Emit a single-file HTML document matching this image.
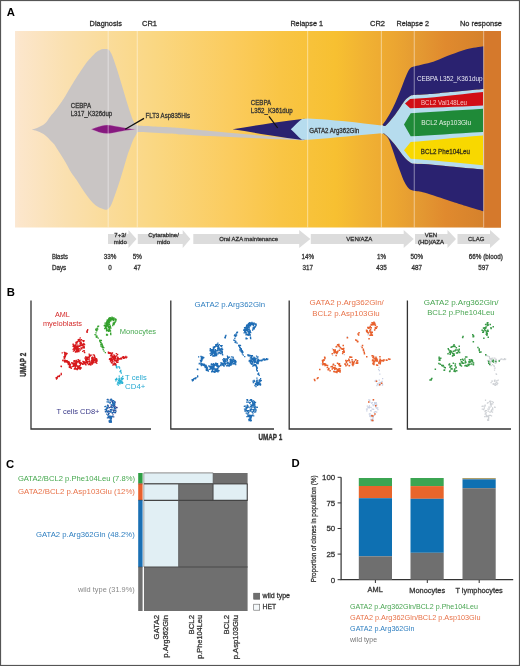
<!DOCTYPE html><html><head><meta charset="utf-8"><title>Figure</title><style>html,body{margin:0;padding:0;background:#fff;width:520px;height:666px;overflow:hidden}svg{display:block}</style></head><body><svg width="520" height="666" viewBox="0 0 520 666" font-family="Liberation Sans, Arial, Helvetica, sans-serif"><rect width="520" height="666" fill="#fff"/><defs><linearGradient id="bg" x1="15" x2="501" y1="0" y2="0" gradientUnits="userSpaceOnUse"><stop offset="0" stop-color="#fbe8d4"/><stop offset="0.01" stop-color="#fce6cb"/><stop offset="0.103" stop-color="#fae0b0"/><stop offset="0.288" stop-color="#fad782"/><stop offset="0.453" stop-color="#fbcb5c"/><stop offset="0.545" stop-color="#f9c545"/><stop offset="0.66" stop-color="#f7c031"/><stop offset="0.72" stop-color="#f1b233"/><stop offset="0.78" stop-color="#eca631"/><stop offset="0.83" stop-color="#e49a32"/><stop offset="0.885" stop-color="#e08a2e"/><stop offset="0.96" stop-color="#d6822c"/><stop offset="1" stop-color="#d6822c"/></linearGradient></defs>
<rect x="15" y="31" width="486" height="196.5" fill="url(#bg)"/>
<rect x="483.5" y="31" width="17.5" height="196.5" fill="#d5792c"/>
<path d="M31.8,129.4 C32.67,129.15 35.30,128.53 37.00,127.90 C38.70,127.27 40.50,126.50 42.00,125.60 C43.50,124.70 44.58,124.07 46.00,122.50 C47.42,120.93 49.00,118.15 50.50,116.20 C52.00,114.25 53.05,113.35 55.00,110.80 C56.95,108.25 60.40,103.48 62.20,100.90 C64.00,98.32 63.63,98.87 65.80,95.30 C67.97,91.73 71.88,84.75 75.20,79.50 C78.52,74.25 83.07,67.47 85.70,63.80 C88.33,60.13 89.25,59.43 91.00,57.50 C92.75,55.57 94.70,53.45 96.20,52.20 C97.70,50.95 98.87,50.52 100.00,50.00 C101.13,49.48 102.00,49.27 103.00,49.10 C104.00,48.93 105.00,48.85 106.00,49.00 C107.00,49.15 108.17,49.33 109.00,50.00 C109.83,50.67 110.40,51.90 111.00,53.00 C111.60,54.10 111.60,53.90 112.60,56.60 C113.60,59.30 115.63,65.00 117.00,69.20 C118.37,73.40 119.53,77.60 120.80,81.80 C122.07,86.00 123.33,90.20 124.60,94.40 C125.87,98.60 127.03,102.78 128.40,107.00 C129.77,111.22 131.70,116.95 132.80,119.70 C133.90,122.45 134.30,122.53 135.00,123.50 C135.70,124.47 136.67,125.17 137.00,125.50  C142.50,125.88 162.83,126.88 170.00,127.30 C177.17,127.72 173.33,127.48 180.00,128.10 C186.67,128.72 201.33,130.18 210.00,131.00 C218.67,131.82 223.67,132.27 232.00,133.00 C240.33,133.73 250.33,134.57 260.00,135.40 C269.67,136.23 282.67,137.27 290.00,138.00 C297.33,138.73 301.67,139.50 304.00,139.80 L304,140.6 C301.67,140.45 295.67,139.98 290.00,139.70 C284.33,139.42 278.33,139.25 270.00,138.90 C261.67,138.55 250.00,138.07 240.00,137.60 C230.00,137.13 220.00,136.63 210.00,136.10 C200.00,135.57 186.67,134.82 180.00,134.40 C173.33,133.98 176.67,134.00 170.00,133.60 C163.33,133.20 145.42,132.27 140.00,132.00 C134.58,131.73 137.92,132.00 137.50,132.00 L137.5,132 C137.25,132.47 136.72,133.50 136.00,134.80 C135.28,136.10 134.12,137.77 133.20,139.80 C132.28,141.83 131.42,144.53 130.50,147.00 C129.58,149.47 128.78,151.27 127.70,154.60 C126.62,157.93 125.23,162.90 124.00,167.00 C122.77,171.10 121.63,175.03 120.30,179.20 C118.97,183.37 117.43,187.90 116.00,192.00 C114.57,196.10 112.78,201.20 111.70,203.80 C110.62,206.40 110.28,206.62 109.50,207.60 C108.72,208.58 107.98,209.43 107.00,209.70 C106.02,209.97 105.07,209.65 103.60,209.20 C102.13,208.75 100.00,208.08 98.20,207.00 C96.40,205.92 94.60,204.50 92.80,202.70 C91.00,200.90 89.20,198.55 87.40,196.20 C85.60,193.85 83.80,191.30 82.00,188.60 C80.20,185.90 78.40,182.70 76.60,180.00 C74.80,177.30 73.00,175.28 71.20,172.40 C69.40,169.52 67.60,165.77 65.80,162.70 C64.00,159.63 62.20,156.88 60.40,154.00 C58.60,151.12 56.20,147.20 55.00,145.40 C53.80,143.60 54.70,144.77 53.20,143.20 C51.70,141.63 47.87,137.65 46.00,136.00 C44.13,134.35 43.50,134.13 42.00,133.30 C40.50,132.47 38.70,131.65 37.00,131.00 C35.30,130.35 32.67,129.67 31.80,129.40 Z" fill="#c9c5c4"/>
<path d="M91.2,129.3 C92.00,129.02 94.37,128.17 96.00,127.60 C97.63,127.03 99.12,126.32 101.00,125.90 C102.88,125.48 105.13,125.10 107.30,125.10 C109.47,125.10 111.88,125.58 114.00,125.90 C116.12,126.22 118.13,126.67 120.00,127.00 C121.87,127.33 123.53,127.62 125.20,127.90 C126.87,128.18 128.27,128.47 130.00,128.70 C131.73,128.93 134.67,129.20 135.60,129.30 L135.6,129.3 C134.67,129.40 131.73,129.68 130.00,129.90 C128.27,130.12 126.87,130.32 125.20,130.60 C123.53,130.88 121.87,131.25 120.00,131.60 C118.13,131.95 116.12,132.37 114.00,132.70 C111.88,133.03 109.47,133.58 107.30,133.60 C105.13,133.62 102.88,133.22 101.00,132.80 C99.12,132.38 97.63,131.68 96.00,131.10 C94.37,130.52 92.00,129.60 91.20,129.30 Z" fill="#86197f" stroke="#c98fc4" stroke-width="0.5" stroke-opacity="0.6"/>
<path d="M232.5,129.3 C250,126.5 270,123 290,120.5 L304.5,118.8 L304.5,140 C285,138 260,133.5 232.5,129.3 Z" fill="#2a2270"/>
<path d="M290.8,129.3 C295,125.5 298,121.5 302,119 L308,118.6 C330,119.5 360,123 381.5,125.5 L384,125.6 L384,133.4 L381.5,133.2 C360,135 335,137.8 308,139.8 L302,139.8 C298,137 295,133 290.8,129.3 Z" fill="#b6dcee"/>
<path d="M381,125.3 L383.6,125.9 C384.02,125.80 384.48,126.77 386.10,125.30 C387.72,123.83 390.92,120.17 393.30,117.10 C395.68,114.03 398.37,109.78 400.40,106.90 C402.43,104.02 403.80,101.67 405.50,99.80 C407.20,97.93 409.07,96.52 410.60,95.70 C412.13,94.88 411.88,95.13 414.70,94.90 C417.52,94.67 421.87,94.73 427.50,94.30 C433.13,93.87 439.17,93.18 448.50,92.30 C457.83,91.42 477.67,89.55 483.50,89.00 L483.5,169.5 C477.92,169.00 459.25,167.37 450.00,166.50 C440.75,165.63 433.88,164.77 428.00,164.30 C422.12,163.83 417.60,163.97 414.70,163.70 C411.80,163.43 411.97,163.38 410.60,162.70 C409.23,162.02 408.03,161.13 406.50,159.60 C404.97,158.07 403.10,155.70 401.40,153.50 C399.70,151.30 398.17,148.78 396.30,146.40 C394.43,144.02 392.23,141.33 390.20,139.20 C388.17,137.07 385.12,134.53 384.10,133.60 L381,133.5 Z" fill="#b6dcee"/>
<path d="M382.5,124.8 C383.08,124.00 384.72,121.97 386.00,120.00 C387.28,118.03 388.65,115.87 390.20,113.00 C391.75,110.13 393.60,106.53 395.30,102.80 C397.00,99.07 398.70,94.85 400.40,90.60 C402.10,86.35 403.97,80.88 405.50,77.30 C407.03,73.72 408.23,70.88 409.60,69.10 C410.97,67.32 411.90,67.30 413.70,66.60 C415.50,65.90 418.02,65.45 420.40,64.90 C422.78,64.35 425.43,63.98 428.00,63.30 C430.57,62.62 431.93,62.25 435.80,60.80 C439.67,59.35 446.08,56.53 451.20,54.60 C456.32,52.67 461.12,50.60 466.50,49.20 C471.88,47.80 480.67,46.70 483.50,46.20 L483.5,89 C477.67,89.55 457.83,91.42 448.50,92.30 C439.17,93.18 433.13,93.87 427.50,94.30 C421.87,94.73 417.52,94.67 414.70,94.90 C411.88,95.13 412.13,94.88 410.60,95.70 C409.07,96.52 407.20,97.93 405.50,99.80 C403.80,101.67 402.43,104.02 400.40,106.90 C398.37,109.78 395.68,114.03 393.30,117.10 C390.92,120.17 387.72,123.83 386.10,125.30 C384.48,126.77 384.02,125.80 383.60,125.90 Z" fill="#2a2270"/>
<path d="M382.8,133.3 C383.70,134.12 386.63,135.68 388.20,138.20 C389.77,140.72 390.85,144.65 392.20,148.40 C393.55,152.15 394.93,156.78 396.30,160.70 C397.67,164.62 399.03,168.33 400.40,171.90 C401.77,175.47 403.13,179.38 404.50,182.10 C405.87,184.82 407.07,186.75 408.60,188.20 C410.13,189.65 410.97,190.03 413.70,190.80 C416.43,191.57 418.95,191.10 425.00,192.80 C431.05,194.50 443.17,198.80 450.00,201.00 C456.83,203.20 460.42,204.28 466.00,206.00 C471.58,207.72 480.58,210.42 483.50,211.30 L483.5,169.5 C477.92,169.00 459.25,167.37 450.00,166.50 C440.75,165.63 433.88,164.77 428.00,164.30 C422.12,163.83 417.60,163.97 414.70,163.70 C411.80,163.43 411.97,163.38 410.60,162.70 C409.23,162.02 408.03,161.13 406.50,159.60 C404.97,158.07 403.10,155.70 401.40,153.50 C399.70,151.30 398.17,148.78 396.30,146.40 C394.43,144.02 392.23,141.33 390.20,139.20 C388.17,137.07 385.12,134.53 384.10,133.60 Z" fill="#2a2270"/>
<path d="M405,103.6 L410.1,99 C430,98 455,95 483,92 L483,105.5 C455,106.8 430,107.8 410.1,108.2 Z" fill="#d10e15"/>
<path d="M404,124.5 L410.7,113.2 C430,112 455,110.5 483,108.8 L483,132 C455,133.5 430,135.5 410.7,136.3 Z" fill="#1f8a38"/>
<path d="M404,150.3 L410.7,141.9 C430,140.5 455,137.5 483,135.4 L483,165.3 C455,162.5 430,160 410.7,158.8 Z" fill="#f8d800"/>
<rect x="107.60000000000001" y="31" width="1.2" height="196.5" fill="#fff" fill-opacity="0.38"/>
<rect x="136.70000000000002" y="31" width="1.2" height="196.5" fill="#fff" fill-opacity="0.38"/>
<rect x="307.0" y="31" width="1.2" height="196.5" fill="#fff" fill-opacity="0.38"/>
<rect x="380.79999999999995" y="31" width="1.2" height="196.5" fill="#fff" fill-opacity="0.38"/>
<rect x="413.7" y="31" width="1.2" height="196.5" fill="#fff" fill-opacity="0.38"/>
<rect x="483.0" y="31" width="1.2" height="196.5" fill="#fff" fill-opacity="0.38"/>
<text x="89.6" y="25.8" font-size="7.8" fill="#2a2a2a" stroke="#2a2a2a" stroke-width="0.28" textLength="32.3" lengthAdjust="spacingAndGlyphs">Diagnosis</text>
<text x="142" y="25.8" font-size="7.8" fill="#2a2a2a" stroke="#2a2a2a" stroke-width="0.28" textLength="15" lengthAdjust="spacingAndGlyphs">CR1</text>
<text x="290.4" y="25.8" font-size="7.8" fill="#2a2a2a" stroke="#2a2a2a" stroke-width="0.28" textLength="32.6" lengthAdjust="spacingAndGlyphs">Relapse 1</text>
<text x="370" y="25.8" font-size="7.8" fill="#2a2a2a" stroke="#2a2a2a" stroke-width="0.28" textLength="15" lengthAdjust="spacingAndGlyphs">CR2</text>
<text x="396.5" y="25.8" font-size="7.8" fill="#2a2a2a" stroke="#2a2a2a" stroke-width="0.28" textLength="32.5" lengthAdjust="spacingAndGlyphs">Relapse 2</text>
<text x="460" y="25.8" font-size="7.8" fill="#2a2a2a" stroke="#2a2a2a" stroke-width="0.28" textLength="42" lengthAdjust="spacingAndGlyphs">No response</text>
<text x="70.7" y="107.5" font-size="6.6" fill="#333" stroke="#333" stroke-width="0.28" textLength="20.4" lengthAdjust="spacingAndGlyphs">CEBPA</text>
<text x="70.7" y="115.6" font-size="6.6" fill="#333" stroke="#333" stroke-width="0.28" textLength="41.6" lengthAdjust="spacingAndGlyphs">L317_K326dup</text>
<line x1="125.2" y1="129.3" x2="144" y2="118.4" stroke="#111" stroke-width="1.25"/>
<text x="145.5" y="118.2" font-size="6.6" fill="#333" stroke="#333" stroke-width="0.28" textLength="44.5" lengthAdjust="spacingAndGlyphs">FLT3 Asp835His</text>
<text x="250.8" y="104.8" font-size="6.6" fill="#333" stroke="#333" stroke-width="0.28" textLength="20.4" lengthAdjust="spacingAndGlyphs">CEBPA</text>
<text x="250.8" y="113.0" font-size="6.6" fill="#333" stroke="#333" stroke-width="0.28" textLength="41.8" lengthAdjust="spacingAndGlyphs">L352_K361dup</text>
<line x1="269" y1="116.3" x2="277.7" y2="128" stroke="#111" stroke-width="1.2"/>
<text x="309.2" y="132.8" font-size="6.6" fill="#333" stroke="#333" stroke-width="0.28" textLength="50" lengthAdjust="spacingAndGlyphs">GATA2 Arg362Gln</text>
<text x="417" y="80.5" font-size="6.7" fill="#e8e8f4" textLength="65.5" lengthAdjust="spacingAndGlyphs">CEBPA L352_K361dup</text>
<text x="421" y="104.8" font-size="6.6" fill="#f6c8c8" textLength="46" lengthAdjust="spacingAndGlyphs">BCL2 Val148Leu</text>
<text x="421.2" y="125" font-size="6.6" fill="#e4f0e4" textLength="50" lengthAdjust="spacingAndGlyphs">BCL2 Asp103Glu</text>
<text x="420.8" y="153.8" font-size="6.6" fill="#3a3416" stroke="#3a3416" stroke-width="0.28" textLength="49.2" lengthAdjust="spacingAndGlyphs">BCL2 Phe104Leu</text>
<path d="M108,234 L128.5,234 L128.5,230 L136.5,239 L128.5,248 L128.5,244 L108,244 Z" fill="#dcdcdc"/>
<path d="M137.8,234 L182.7,234 L182.7,230 L190.4,239 L182.7,248 L182.7,244 L137.8,244 Z" fill="#dcdcdc"/>
<path d="M193.3,234 L299.2,234 L299.2,230 L310.4,239 L299.2,248 L299.2,244 L193.3,244 Z" fill="#dcdcdc"/>
<path d="M310.8,234 L403.7,234 L403.7,230 L413.7,239 L403.7,248 L403.7,244 L310.8,244 Z" fill="#dcdcdc"/>
<path d="M415,234 L447.5,234 L447.5,230 L456,239 L447.5,248 L447.5,244 L415,244 Z" fill="#dcdcdc"/>
<path d="M457.5,234 L490,234 L490,230 L500,239 L490,248 L490,244 L457.5,244 Z" fill="#dcdcdc"/>
<text x="120.3" y="236.6" font-size="6" fill="#333" stroke="#333" stroke-width="0.28" text-anchor="middle">7+3/</text>
<text x="120.3" y="243.6" font-size="6" fill="#333" stroke="#333" stroke-width="0.28" text-anchor="middle">mido</text>
<text x="163.5" y="236.6" font-size="6" fill="#333" stroke="#333" stroke-width="0.28" text-anchor="middle">Cytarabine/</text>
<text x="163.5" y="243.6" font-size="6" fill="#333" stroke="#333" stroke-width="0.28" text-anchor="middle">mido</text>
<text x="219.2" y="240.8" font-size="6" fill="#333" stroke="#333" stroke-width="0.28" textLength="58.9" lengthAdjust="spacingAndGlyphs">Oral AZA maintenance</text>
<text x="346.3" y="240.8" font-size="6" fill="#333" stroke="#333" stroke-width="0.28" textLength="26" lengthAdjust="spacingAndGlyphs">VEN/AZA</text>
<text x="431" y="236.6" font-size="6" fill="#333" stroke="#333" stroke-width="0.28" text-anchor="middle">VEN</text>
<text x="431" y="243.6" font-size="6" fill="#333" stroke="#333" stroke-width="0.28" text-anchor="middle">(HD)/AZA</text>
<text x="468" y="240.9" font-size="6" fill="#333" stroke="#333" stroke-width="0.28" textLength="16.4" lengthAdjust="spacingAndGlyphs">CLAG</text>
<text x="51.9" y="259.4" font-size="6.3" fill="#333" stroke="#333" stroke-width="0.28" textLength="16" lengthAdjust="spacingAndGlyphs">Blasts</text>
<text x="51.9" y="269.7" font-size="6.3" fill="#333" stroke="#333" stroke-width="0.28">Days</text>
<text x="110" y="259.4" font-size="6.3" fill="#333" stroke="#333" stroke-width="0.28" text-anchor="middle">33%</text>
<text x="110" y="269.7" font-size="6.3" fill="#333" stroke="#333" stroke-width="0.28" text-anchor="middle">0</text>
<text x="137.3" y="259.4" font-size="6.3" fill="#333" stroke="#333" stroke-width="0.28" text-anchor="middle">5%</text>
<text x="137.3" y="269.7" font-size="6.3" fill="#333" stroke="#333" stroke-width="0.28" text-anchor="middle">47</text>
<text x="307.8" y="259.4" font-size="6.3" fill="#333" stroke="#333" stroke-width="0.28" text-anchor="middle">14%</text>
<text x="307.8" y="269.7" font-size="6.3" fill="#333" stroke="#333" stroke-width="0.28" text-anchor="middle">317</text>
<text x="381.5" y="259.4" font-size="6.3" fill="#333" stroke="#333" stroke-width="0.28" text-anchor="middle">1%</text>
<text x="381.5" y="269.7" font-size="6.3" fill="#333" stroke="#333" stroke-width="0.28" text-anchor="middle">435</text>
<text x="416.8" y="259.4" font-size="6.3" fill="#333" stroke="#333" stroke-width="0.28" text-anchor="middle">50%</text>
<text x="416.8" y="269.7" font-size="6.3" fill="#333" stroke="#333" stroke-width="0.28" text-anchor="middle">487</text>
<text x="468.8" y="259.4" font-size="6.3" fill="#333" stroke="#333" stroke-width="0.28">66% (blood)</text>
<text x="483.6" y="269.7" font-size="6.3" fill="#333" stroke="#333" stroke-width="0.28" text-anchor="middle">597</text>
<text x="6.7" y="16.2" font-size="11.3" fill="#000" font-weight="bold">A</text>
<text x="6.7" y="296.1" font-size="11.3" fill="#000" font-weight="bold">B</text>
<text x="6.1" y="467.6" font-size="11.3" fill="#000" font-weight="bold">C</text>
<text x="291.6" y="467.2" font-size="11.3" fill="#000" font-weight="bold">D</text>
<path d="M31,300.5 V429 H151" fill="none" stroke="#333" stroke-width="1.3"/>
<path d="M170.8,300.5 V429 H274" fill="none" stroke="#333" stroke-width="1.3"/>
<path d="M289.2,300.5 V429 H392.3" fill="none" stroke="#333" stroke-width="1.3"/>
<path d="M407.4,300.5 V429 H511" fill="none" stroke="#333" stroke-width="1.3"/>
<text x="26.2" y="376.8" font-size="8.4" fill="#333" font-weight="bold" textLength="24" lengthAdjust="spacingAndGlyphs" stroke="#333" stroke-width="0.35" transform="rotate(-90 26.2 376.8)">UMAP 2</text>
<text x="258.5" y="440" font-size="8.4" fill="#333" font-weight="bold" textLength="23.7" lengthAdjust="spacingAndGlyphs" stroke="#333" stroke-width="0.35">UMAP 1</text>
<text x="194.5" y="306.8" font-size="7.8" fill="#2f7fc0" textLength="70.6" lengthAdjust="spacingAndGlyphs">GATA2 p.Arg362Gln</text>
<text x="309.6" y="304.9" font-size="7.8" fill="#e8734a" textLength="74.2" lengthAdjust="spacingAndGlyphs">GATA2 p.Arg362Gln/</text>
<text x="312.3" y="315.7" font-size="7.8" fill="#e8734a" textLength="67.4" lengthAdjust="spacingAndGlyphs">BCL2 p.Asp103Glu</text>
<text x="423.7" y="304.9" font-size="7.8" fill="#4aa653" textLength="74.9" lengthAdjust="spacingAndGlyphs">GATA2 p.Arg362Gln/</text>
<text x="427.2" y="314.9" font-size="7.8" fill="#4aa653" textLength="67.4" lengthAdjust="spacingAndGlyphs">BCL2 p.Phe104Leu</text>
<text x="55" y="317" font-size="7.4" fill="#d42a2a" textLength="14.9" lengthAdjust="spacingAndGlyphs">AML</text>
<text x="42.9" y="326.4" font-size="7.4" fill="#d42a2a" textLength="39.1" lengthAdjust="spacingAndGlyphs">myeloblasts</text>
<text x="119.7" y="333.7" font-size="7.4" fill="#45a84e" textLength="36.4" lengthAdjust="spacingAndGlyphs">Monocytes</text>
<text x="125.1" y="379.8" font-size="7.4" fill="#27a9d2" textLength="21.6" lengthAdjust="spacingAndGlyphs">T cells</text>
<text x="125.1" y="389.2" font-size="7.4" fill="#27a9d2" textLength="20.2" lengthAdjust="spacingAndGlyphs">CD4+</text>
<text x="56.4" y="414" font-size="7.4" fill="#3b3b8a" textLength="43.1" lengthAdjust="spacingAndGlyphs">T cells CD8+</text>
<path fill="#c9d0e3" d="M320.6,363.3h1.25v1.25h-1.25zM334.1,370.3h1.25v1.25h-1.25zM333.3,363.9h1.25v1.25h-1.25zM339.0,347.5h1.25v1.25h-1.25zM333.8,352.5h1.25v1.25h-1.25zM334.0,352.4h1.25v1.25h-1.25zM339.7,346.1h1.25v1.25h-1.25zM332.0,354.7h1.25v1.25h-1.25zM334.3,350.9h1.25v1.25h-1.25zM331.8,348.1h1.25v1.25h-1.25zM336.4,353.2h1.25v1.25h-1.25zM337.5,344.8h1.25v1.25h-1.25zM343.8,353.9h1.25v1.25h-1.25zM350.4,356.4h1.25v1.25h-1.25zM351.8,360.1h1.25v1.25h-1.25zM349.8,362.6h1.25v1.25h-1.25zM345.2,362.9h1.25v1.25h-1.25zM353.2,361.5h1.25v1.25h-1.25zM349.3,364.8h1.25v1.25h-1.25zM356.9,360.3h1.25v1.25h-1.25zM346.7,335.9h1.25v1.25h-1.25zM369.2,327.7h1.25v1.25h-1.25zM367.7,326.5h1.25v1.25h-1.25zM366.8,331.1h1.25v1.25h-1.25zM367.7,333.9h1.25v1.25h-1.25zM367.4,334.3h1.25v1.25h-1.25zM370.9,330.6h1.25v1.25h-1.25zM363.3,350.0h1.25v1.25h-1.25zM360.6,345.8h1.25v1.25h-1.25zM379.4,360.9h1.25v1.25h-1.25zM378.3,362.9h1.25v1.25h-1.25zM375.9,357.2h1.25v1.25h-1.25zM388.5,359.1h1.25v1.25h-1.25zM372.9,355.5h1.25v1.25h-1.25zM379.2,373.4h1.25v1.25h-1.25zM378.5,366.8h1.25v1.25h-1.25zM378.7,370.1h1.25v1.25h-1.25zM378.0,368.8h1.25v1.25h-1.25zM381.5,380.8h1.25v1.25h-1.25zM375.6,380.9h1.25v1.25h-1.25zM379.9,382.0h1.25v1.25h-1.25zM379.8,383.7h1.25v1.25h-1.25zM378.2,382.5h1.25v1.25h-1.25zM378.4,384.5h1.25v1.25h-1.25zM382.0,377.9h1.25v1.25h-1.25zM378.6,379.5h1.25v1.25h-1.25zM381.3,382.7h1.25v1.25h-1.25zM379.8,382.8h1.25v1.25h-1.25zM375.5,379.8h1.25v1.25h-1.25zM374.4,380.6h1.25v1.25h-1.25zM376.8,383.1h1.25v1.25h-1.25zM378.9,382.7h1.25v1.25h-1.25zM376.8,383.7h1.25v1.25h-1.25zM382.0,384.0h1.25v1.25h-1.25zM381.3,380.9h1.25v1.25h-1.25zM381.8,384.4h1.25v1.25h-1.25zM378.9,384.5h1.25v1.25h-1.25zM378.6,384.0h1.25v1.25h-1.25zM376.3,385.1h1.25v1.25h-1.25zM379.4,381.8h1.25v1.25h-1.25zM369.4,412.9h1.25v1.25h-1.25zM370.7,415.9h1.25v1.25h-1.25zM372.2,417.7h1.25v1.25h-1.25zM369.1,399.7h1.25v1.25h-1.25zM372.2,415.5h1.25v1.25h-1.25zM372.6,405.1h1.25v1.25h-1.25zM366.7,405.5h1.25v1.25h-1.25zM377.1,407.3h1.25v1.25h-1.25zM377.3,408.9h1.25v1.25h-1.25zM373.6,411.8h1.25v1.25h-1.25zM374.1,402.7h1.25v1.25h-1.25zM368.8,405.3h1.25v1.25h-1.25zM375.0,405.4h1.25v1.25h-1.25zM371.7,402.0h1.25v1.25h-1.25zM373.9,414.8h1.25v1.25h-1.25zM372.3,416.6h1.25v1.25h-1.25zM376.1,404.6h1.25v1.25h-1.25zM371.0,414.6h1.25v1.25h-1.25zM369.1,399.5h1.25v1.25h-1.25zM372.3,408.5h1.25v1.25h-1.25zM372.2,419.4h1.25v1.25h-1.25zM368.9,406.7h1.25v1.25h-1.25zM372.2,419.6h1.25v1.25h-1.25zM372.0,419.7h1.25v1.25h-1.25zM376.1,411.4h1.25v1.25h-1.25zM372.1,418.7h1.25v1.25h-1.25zM374.9,405.3h1.25v1.25h-1.25zM373.0,408.8h1.25v1.25h-1.25zM369.5,415.0h1.25v1.25h-1.25zM366.2,410.3h1.25v1.25h-1.25zM371.0,402.4h1.25v1.25h-1.25zM372.5,416.0h1.25v1.25h-1.25zM373.9,402.1h1.25v1.25h-1.25zM374.3,411.2h1.25v1.25h-1.25zM370.4,419.9h1.25v1.25h-1.25zM372.7,399.6h1.25v1.25h-1.25zM371.6,418.9h1.25v1.25h-1.25zM372.6,416.9h1.25v1.25h-1.25zM376.3,407.8h1.25v1.25h-1.25zM371.5,408.5h1.25v1.25h-1.25zM369.8,416.0h1.25v1.25h-1.25zM368.0,406.6h1.25v1.25h-1.25zM370.4,406.8h1.25v1.25h-1.25zM372.0,420.2h1.25v1.25h-1.25zM372.3,414.9h1.25v1.25h-1.25zM368.7,413.6h1.25v1.25h-1.25zM365.9,408.5h1.25v1.25h-1.25zM375.4,406.9h1.25v1.25h-1.25zM369.4,401.5h1.25v1.25h-1.25zM372.5,399.2h1.25v1.25h-1.25zM372.4,404.0h1.25v1.25h-1.25zM371.5,418.8h1.25v1.25h-1.25zM371.3,419.3h1.25v1.25h-1.25zM369.1,415.4h1.25v1.25h-1.25zM375.6,402.1h1.25v1.25h-1.25zM375.1,411.0h1.25v1.25h-1.25zM372.7,420.1h1.25v1.25h-1.25zM370.6,410.3h1.25v1.25h-1.25zM375.9,403.5h1.25v1.25h-1.25zM374.0,404.3h1.25v1.25h-1.25zM376.8,407.3h1.25v1.25h-1.25zM371.3,419.7h1.25v1.25h-1.25zM370.2,418.8h1.25v1.25h-1.25zM370.0,410.1h1.25v1.25h-1.25zM370.7,420.0h1.25v1.25h-1.25zM371.6,414.8h1.25v1.25h-1.25zM367.4,407.0h1.25v1.25h-1.25zM375.1,403.3h1.25v1.25h-1.25zM369.9,414.7h1.25v1.25h-1.25zM374.7,402.3h1.25v1.25h-1.25zM373.8,414.8h1.25v1.25h-1.25zM368.6,407.3h1.25v1.25h-1.25zM366.6,408.4h1.25v1.25h-1.25zM368.2,399.2h1.25v1.25h-1.25z"/>
<path fill="#cfd2d6" d="M488.5,363.3h1.25v1.25h-1.25zM490.6,358.1h1.25v1.25h-1.25zM490.3,359.3h1.25v1.25h-1.25zM490.8,357.8h1.25v1.25h-1.25zM490.5,365.0h1.25v1.25h-1.25zM488.7,355.9h1.25v1.25h-1.25zM495.8,359.3h1.25v1.25h-1.25zM486.9,360.1h1.25v1.25h-1.25zM488.5,360.0h1.25v1.25h-1.25zM489.8,361.8h1.25v1.25h-1.25zM495.7,361.5h1.25v1.25h-1.25zM495.1,362.7h1.25v1.25h-1.25zM491.1,358.6h1.25v1.25h-1.25zM489.5,358.3h1.25v1.25h-1.25zM490.8,358.0h1.25v1.25h-1.25zM495.2,358.5h1.25v1.25h-1.25zM487.6,359.8h1.25v1.25h-1.25zM494.5,359.9h1.25v1.25h-1.25zM489.2,362.8h1.25v1.25h-1.25zM490.4,358.9h1.25v1.25h-1.25zM489.9,360.9h1.25v1.25h-1.25zM488.9,356.9h1.25v1.25h-1.25zM490.8,358.2h1.25v1.25h-1.25zM492.6,359.4h1.25v1.25h-1.25zM490.4,358.8h1.25v1.25h-1.25zM489.6,358.1h1.25v1.25h-1.25zM492.0,363.9h1.25v1.25h-1.25zM490.2,358.6h1.25v1.25h-1.25zM490.9,359.6h1.25v1.25h-1.25zM493.2,365.1h1.25v1.25h-1.25zM489.1,358.2h1.25v1.25h-1.25zM494.1,357.5h1.25v1.25h-1.25zM492.1,357.5h1.25v1.25h-1.25zM491.9,360.3h1.25v1.25h-1.25zM495.4,358.9h1.25v1.25h-1.25zM487.5,361.0h1.25v1.25h-1.25zM494.6,362.8h1.25v1.25h-1.25zM495.0,359.4h1.25v1.25h-1.25zM489.6,357.9h1.25v1.25h-1.25zM490.3,358.0h1.25v1.25h-1.25zM494.4,360.8h1.25v1.25h-1.25zM491.1,358.1h1.25v1.25h-1.25zM490.2,362.2h1.25v1.25h-1.25zM492.3,357.5h1.25v1.25h-1.25zM494.9,360.3h1.25v1.25h-1.25zM502.5,359.0h1.25v1.25h-1.25zM501.2,358.3h1.25v1.25h-1.25zM503.8,357.9h1.25v1.25h-1.25zM501.2,358.2h1.25v1.25h-1.25zM494.6,359.7h1.25v1.25h-1.25zM505.0,358.5h1.25v1.25h-1.25zM499.4,359.4h1.25v1.25h-1.25zM500.4,358.6h1.25v1.25h-1.25zM498.6,359.6h1.25v1.25h-1.25zM500.2,358.7h1.25v1.25h-1.25zM504.0,358.7h1.25v1.25h-1.25zM504.3,359.1h1.25v1.25h-1.25zM498.6,359.4h1.25v1.25h-1.25zM503.8,358.4h1.25v1.25h-1.25zM485.2,355.1h1.25v1.25h-1.25zM487.3,355.5h1.25v1.25h-1.25zM486.2,354.9h1.25v1.25h-1.25zM495.9,373.8h1.25v1.25h-1.25zM494.4,367.4h1.25v1.25h-1.25zM493.9,369.4h1.25v1.25h-1.25zM495.5,373.3h1.25v1.25h-1.25zM493.7,365.7h1.25v1.25h-1.25zM493.9,367.6h1.25v1.25h-1.25zM494.8,384.3h1.25v1.25h-1.25zM495.7,382.0h1.25v1.25h-1.25zM494.3,380.8h1.25v1.25h-1.25zM493.9,379.7h1.25v1.25h-1.25zM497.6,379.5h1.25v1.25h-1.25zM491.2,380.6h1.25v1.25h-1.25zM494.2,384.5h1.25v1.25h-1.25zM491.7,380.6h1.25v1.25h-1.25zM494.4,379.5h1.25v1.25h-1.25zM496.3,379.9h1.25v1.25h-1.25zM497.1,382.7h1.25v1.25h-1.25zM492.6,383.1h1.25v1.25h-1.25zM494.7,382.7h1.25v1.25h-1.25zM496.0,381.4h1.25v1.25h-1.25zM496.8,382.6h1.25v1.25h-1.25zM492.6,383.7h1.25v1.25h-1.25zM494.9,384.8h1.25v1.25h-1.25zM495.6,383.8h1.25v1.25h-1.25zM493.9,380.6h1.25v1.25h-1.25zM491.8,380.6h1.25v1.25h-1.25zM496.4,384.1h1.25v1.25h-1.25zM493.5,383.6h1.25v1.25h-1.25zM490.5,382.0h1.25v1.25h-1.25zM485.2,412.9h1.25v1.25h-1.25zM486.5,415.9h1.25v1.25h-1.25zM488.0,417.7h1.25v1.25h-1.25zM484.9,399.7h1.25v1.25h-1.25zM488.0,415.5h1.25v1.25h-1.25zM482.5,405.5h1.25v1.25h-1.25zM489.4,411.8h1.25v1.25h-1.25zM489.9,402.7h1.25v1.25h-1.25zM489.4,411.3h1.25v1.25h-1.25zM484.9,410.0h1.25v1.25h-1.25zM491.5,401.1h1.25v1.25h-1.25zM484.6,405.3h1.25v1.25h-1.25zM492.2,409.3h1.25v1.25h-1.25zM487.5,402.0h1.25v1.25h-1.25zM489.7,414.8h1.25v1.25h-1.25zM490.6,403.8h1.25v1.25h-1.25zM488.1,416.6h1.25v1.25h-1.25zM485.5,412.0h1.25v1.25h-1.25zM484.9,399.5h1.25v1.25h-1.25zM486.1,416.0h1.25v1.25h-1.25zM484.4,410.9h1.25v1.25h-1.25zM488.1,408.5h1.25v1.25h-1.25zM492.1,403.2h1.25v1.25h-1.25zM490.0,400.6h1.25v1.25h-1.25zM488.0,419.4h1.25v1.25h-1.25zM483.5,407.9h1.25v1.25h-1.25zM487.8,419.7h1.25v1.25h-1.25zM491.9,411.4h1.25v1.25h-1.25zM494.0,406.5h1.25v1.25h-1.25zM489.5,401.1h1.25v1.25h-1.25zM487.9,418.7h1.25v1.25h-1.25zM481.5,405.8h1.25v1.25h-1.25zM490.7,405.3h1.25v1.25h-1.25zM491.9,407.2h1.25v1.25h-1.25zM484.1,416.1h1.25v1.25h-1.25zM489.7,400.6h1.25v1.25h-1.25zM486.8,402.4h1.25v1.25h-1.25zM490.1,403.3h1.25v1.25h-1.25zM485.8,414.4h1.25v1.25h-1.25zM484.3,404.9h1.25v1.25h-1.25zM489.4,406.6h1.25v1.25h-1.25zM485.9,416.1h1.25v1.25h-1.25zM489.7,402.1h1.25v1.25h-1.25zM487.3,416.0h1.25v1.25h-1.25zM490.7,405.4h1.25v1.25h-1.25zM488.9,400.7h1.25v1.25h-1.25zM488.0,415.3h1.25v1.25h-1.25zM487.8,410.4h1.25v1.25h-1.25zM491.3,408.9h1.25v1.25h-1.25zM484.6,410.4h1.25v1.25h-1.25zM487.4,418.9h1.25v1.25h-1.25zM487.1,419.4h1.25v1.25h-1.25zM486.6,415.3h1.25v1.25h-1.25zM492.1,407.8h1.25v1.25h-1.25zM487.3,408.5h1.25v1.25h-1.25zM485.6,416.0h1.25v1.25h-1.25zM483.8,406.6h1.25v1.25h-1.25zM483.0,409.0h1.25v1.25h-1.25zM482.1,405.6h1.25v1.25h-1.25zM487.5,410.6h1.25v1.25h-1.25zM490.6,403.3h1.25v1.25h-1.25zM485.8,409.9h1.25v1.25h-1.25zM484.5,413.6h1.25v1.25h-1.25zM481.7,408.5h1.25v1.25h-1.25zM487.3,418.8h1.25v1.25h-1.25zM487.1,419.3h1.25v1.25h-1.25zM490.9,411.0h1.25v1.25h-1.25zM490.9,415.2h1.25v1.25h-1.25zM489.8,404.3h1.25v1.25h-1.25zM487.1,419.7h1.25v1.25h-1.25zM488.7,408.3h1.25v1.25h-1.25zM485.8,410.1h1.25v1.25h-1.25zM492.7,401.8h1.25v1.25h-1.25zM488.7,414.7h1.25v1.25h-1.25zM490.7,410.0h1.25v1.25h-1.25zM484.5,404.5h1.25v1.25h-1.25zM490.9,403.3h1.25v1.25h-1.25zM485.7,414.7h1.25v1.25h-1.25zM494.5,406.7h1.25v1.25h-1.25zM487.8,419.2h1.25v1.25h-1.25zM488.2,406.4h1.25v1.25h-1.25z"/>
<path fill="#d7191c" d="M58.0,375.8h1.25v1.25h-1.25zM57.1,375.7h1.25v1.25h-1.25zM55.8,376.9h1.25v1.25h-1.25zM59.1,374.8h1.25v1.25h-1.25zM55.5,377.1h1.25v1.25h-1.25zM56.2,377.8h1.25v1.25h-1.25zM58.8,375.7h1.25v1.25h-1.25zM55.9,378.4h1.25v1.25h-1.25zM56.6,377.4h1.25v1.25h-1.25zM57.9,375.6h1.25v1.25h-1.25zM57.3,375.8h1.25v1.25h-1.25zM58.5,375.7h1.25v1.25h-1.25zM60.6,372.8h1.25v1.25h-1.25zM58.8,375.4h1.25v1.25h-1.25zM56.7,376.6h1.25v1.25h-1.25zM56.7,376.9h1.25v1.25h-1.25zM60.7,373.8h1.25v1.25h-1.25zM55.6,377.4h1.25v1.25h-1.25zM60.6,373.9h1.25v1.25h-1.25zM58.3,376.0h1.25v1.25h-1.25zM56.1,377.7h1.25v1.25h-1.25zM60.8,366.1h1.25v1.25h-1.25zM60.6,365.6h1.25v1.25h-1.25zM60.4,365.8h1.25v1.25h-1.25zM60.8,365.9h1.25v1.25h-1.25zM66.6,361.5h1.25v1.25h-1.25zM64.4,356.6h1.25v1.25h-1.25zM69.4,363.2h1.25v1.25h-1.25zM64.2,356.0h1.25v1.25h-1.25zM67.2,361.2h1.25v1.25h-1.25zM63.9,356.1h1.25v1.25h-1.25zM63.8,359.5h1.25v1.25h-1.25zM64.4,355.1h1.25v1.25h-1.25zM65.6,360.9h1.25v1.25h-1.25zM69.2,366.5h1.25v1.25h-1.25zM69.6,365.5h1.25v1.25h-1.25zM69.6,367.1h1.25v1.25h-1.25zM64.8,355.8h1.25v1.25h-1.25zM64.7,355.5h1.25v1.25h-1.25zM66.9,361.2h1.25v1.25h-1.25zM64.6,354.3h1.25v1.25h-1.25zM68.0,361.5h1.25v1.25h-1.25zM66.5,361.2h1.25v1.25h-1.25zM68.1,362.7h1.25v1.25h-1.25zM64.7,359.8h1.25v1.25h-1.25zM63.8,359.4h1.25v1.25h-1.25zM64.1,352.8h1.25v1.25h-1.25zM64.1,353.9h1.25v1.25h-1.25zM65.5,361.0h1.25v1.25h-1.25zM68.9,364.5h1.25v1.25h-1.25zM68.1,362.7h1.25v1.25h-1.25zM64.7,352.8h1.25v1.25h-1.25zM68.8,362.2h1.25v1.25h-1.25zM66.7,360.3h1.25v1.25h-1.25zM64.3,359.6h1.25v1.25h-1.25zM66.1,360.0h1.25v1.25h-1.25zM68.5,361.5h1.25v1.25h-1.25zM69.4,365.3h1.25v1.25h-1.25zM68.6,366.3h1.25v1.25h-1.25zM67.9,362.9h1.25v1.25h-1.25zM66.0,360.6h1.25v1.25h-1.25zM66.2,360.5h1.25v1.25h-1.25zM70.0,366.5h1.25v1.25h-1.25zM62.1,359.9h1.25v1.25h-1.25zM64.2,361.6h1.25v1.25h-1.25zM68.3,362.6h1.25v1.25h-1.25zM63.9,360.3h1.25v1.25h-1.25zM65.1,360.3h1.25v1.25h-1.25zM63.6,357.8h1.25v1.25h-1.25zM67.6,362.3h1.25v1.25h-1.25zM68.7,366.2h1.25v1.25h-1.25zM69.2,364.9h1.25v1.25h-1.25zM64.1,355.6h1.25v1.25h-1.25zM68.8,366.8h1.25v1.25h-1.25zM66.4,361.1h1.25v1.25h-1.25zM64.9,359.9h1.25v1.25h-1.25zM67.7,363.5h1.25v1.25h-1.25zM63.9,356.7h1.25v1.25h-1.25zM63.3,356.2h1.25v1.25h-1.25zM64.6,360.2h1.25v1.25h-1.25zM70.7,367.8h1.25v1.25h-1.25zM65.6,353.2h1.25v1.25h-1.25zM67.5,363.1h1.25v1.25h-1.25zM69.0,363.6h1.25v1.25h-1.25zM63.7,360.8h1.25v1.25h-1.25zM64.1,357.4h1.25v1.25h-1.25zM66.2,360.4h1.25v1.25h-1.25zM68.0,361.1h1.25v1.25h-1.25zM67.0,361.9h1.25v1.25h-1.25zM63.8,356.0h1.25v1.25h-1.25zM67.9,362.8h1.25v1.25h-1.25zM62.3,359.4h1.25v1.25h-1.25zM65.7,361.6h1.25v1.25h-1.25zM69.8,364.1h1.25v1.25h-1.25zM70.4,367.2h1.25v1.25h-1.25zM64.3,360.4h1.25v1.25h-1.25zM63.7,359.5h1.25v1.25h-1.25zM67.8,363.9h1.25v1.25h-1.25zM66.9,360.8h1.25v1.25h-1.25zM63.9,351.7h1.25v1.25h-1.25zM65.0,354.4h1.25v1.25h-1.25zM66.1,352.7h1.25v1.25h-1.25zM63.7,351.8h1.25v1.25h-1.25zM65.6,353.7h1.25v1.25h-1.25zM61.6,352.2h1.25v1.25h-1.25zM65.3,352.6h1.25v1.25h-1.25zM65.6,354.1h1.25v1.25h-1.25zM66.5,353.0h1.25v1.25h-1.25zM65.1,352.3h1.25v1.25h-1.25zM78.1,367.8h1.25v1.25h-1.25zM79.0,361.8h1.25v1.25h-1.25zM75.3,361.5h1.25v1.25h-1.25zM79.3,360.1h1.25v1.25h-1.25zM75.3,368.3h1.25v1.25h-1.25zM74.7,363.5h1.25v1.25h-1.25zM74.0,364.2h1.25v1.25h-1.25zM78.5,366.6h1.25v1.25h-1.25zM75.8,364.9h1.25v1.25h-1.25zM79.5,365.3h1.25v1.25h-1.25zM72.4,362.6h1.25v1.25h-1.25zM79.5,368.0h1.25v1.25h-1.25zM77.2,365.9h1.25v1.25h-1.25zM72.4,365.5h1.25v1.25h-1.25zM77.7,359.0h1.25v1.25h-1.25zM76.5,367.8h1.25v1.25h-1.25zM74.8,367.5h1.25v1.25h-1.25zM80.2,362.0h1.25v1.25h-1.25zM72.3,363.3h1.25v1.25h-1.25zM75.0,365.2h1.25v1.25h-1.25zM76.3,365.6h1.25v1.25h-1.25zM80.0,363.4h1.25v1.25h-1.25zM77.1,365.4h1.25v1.25h-1.25zM76.2,365.4h1.25v1.25h-1.25zM76.5,368.9h1.25v1.25h-1.25zM73.3,364.1h1.25v1.25h-1.25zM78.4,360.6h1.25v1.25h-1.25zM75.7,359.7h1.25v1.25h-1.25zM79.0,360.8h1.25v1.25h-1.25zM75.7,363.1h1.25v1.25h-1.25zM73.5,360.7h1.25v1.25h-1.25zM78.5,360.9h1.25v1.25h-1.25zM77.0,368.2h1.25v1.25h-1.25zM74.4,363.4h1.25v1.25h-1.25zM78.6,367.4h1.25v1.25h-1.25zM73.6,360.2h1.25v1.25h-1.25zM77.5,367.2h1.25v1.25h-1.25zM79.0,361.3h1.25v1.25h-1.25zM76.8,361.5h1.25v1.25h-1.25zM78.1,365.7h1.25v1.25h-1.25zM79.1,368.1h1.25v1.25h-1.25zM75.3,365.4h1.25v1.25h-1.25zM79.1,362.7h1.25v1.25h-1.25zM75.5,360.1h1.25v1.25h-1.25zM75.0,362.2h1.25v1.25h-1.25zM79.6,367.0h1.25v1.25h-1.25zM74.4,367.5h1.25v1.25h-1.25zM73.9,368.0h1.25v1.25h-1.25zM74.0,360.5h1.25v1.25h-1.25zM79.3,360.0h1.25v1.25h-1.25zM71.5,365.9h1.25v1.25h-1.25zM76.7,368.4h1.25v1.25h-1.25zM75.6,364.7h1.25v1.25h-1.25zM71.4,362.9h1.25v1.25h-1.25zM79.0,368.3h1.25v1.25h-1.25zM73.6,364.3h1.25v1.25h-1.25zM79.2,367.8h1.25v1.25h-1.25zM78.8,360.3h1.25v1.25h-1.25zM78.4,368.0h1.25v1.25h-1.25zM78.4,362.1h1.25v1.25h-1.25zM78.4,359.9h1.25v1.25h-1.25zM72.6,363.0h1.25v1.25h-1.25zM79.0,362.1h1.25v1.25h-1.25zM78.3,367.2h1.25v1.25h-1.25zM77.9,360.7h1.25v1.25h-1.25zM79.2,362.5h1.25v1.25h-1.25zM74.6,365.3h1.25v1.25h-1.25zM74.7,367.2h1.25v1.25h-1.25zM76.3,365.2h1.25v1.25h-1.25zM75.1,360.4h1.25v1.25h-1.25zM77.1,365.3h1.25v1.25h-1.25zM75.5,368.6h1.25v1.25h-1.25zM77.6,367.5h1.25v1.25h-1.25zM76.0,362.7h1.25v1.25h-1.25zM79.1,362.1h1.25v1.25h-1.25zM71.1,361.9h1.25v1.25h-1.25zM75.6,364.8h1.25v1.25h-1.25zM78.1,361.0h1.25v1.25h-1.25zM74.5,363.9h1.25v1.25h-1.25zM74.2,364.0h1.25v1.25h-1.25zM79.0,367.8h1.25v1.25h-1.25zM74.5,365.9h1.25v1.25h-1.25zM78.6,360.2h1.25v1.25h-1.25zM73.5,360.7h1.25v1.25h-1.25zM79.7,362.8h1.25v1.25h-1.25zM78.7,367.2h1.25v1.25h-1.25zM78.6,365.3h1.25v1.25h-1.25zM79.1,362.8h1.25v1.25h-1.25zM77.1,367.8h1.25v1.25h-1.25zM78.2,366.8h1.25v1.25h-1.25zM79.9,367.0h1.25v1.25h-1.25zM78.8,360.4h1.25v1.25h-1.25zM73.0,362.6h1.25v1.25h-1.25zM72.2,363.2h1.25v1.25h-1.25zM74.0,365.0h1.25v1.25h-1.25zM78.4,360.3h1.25v1.25h-1.25zM74.4,364.3h1.25v1.25h-1.25zM80.3,367.4h1.25v1.25h-1.25zM78.0,361.1h1.25v1.25h-1.25zM75.2,361.9h1.25v1.25h-1.25zM77.2,365.9h1.25v1.25h-1.25zM78.9,367.1h1.25v1.25h-1.25zM79.2,361.3h1.25v1.25h-1.25zM80.6,367.2h1.25v1.25h-1.25zM78.2,367.7h1.25v1.25h-1.25zM73.9,360.1h1.25v1.25h-1.25zM73.8,363.8h1.25v1.25h-1.25zM73.6,359.9h1.25v1.25h-1.25zM77.4,359.2h1.25v1.25h-1.25zM75.9,364.3h1.25v1.25h-1.25zM74.6,362.3h1.25v1.25h-1.25zM79.1,359.7h1.25v1.25h-1.25zM78.9,366.8h1.25v1.25h-1.25zM79.3,359.8h1.25v1.25h-1.25zM77.2,361.0h1.25v1.25h-1.25zM77.1,366.7h1.25v1.25h-1.25zM75.0,364.2h1.25v1.25h-1.25zM78.0,366.5h1.25v1.25h-1.25zM79.2,365.1h1.25v1.25h-1.25zM72.9,364.4h1.25v1.25h-1.25zM76.1,365.2h1.25v1.25h-1.25zM78.4,366.8h1.25v1.25h-1.25zM73.6,362.5h1.25v1.25h-1.25zM78.4,361.1h1.25v1.25h-1.25zM79.2,361.2h1.25v1.25h-1.25zM76.4,360.7h1.25v1.25h-1.25zM73.0,365.7h1.25v1.25h-1.25zM79.1,362.0h1.25v1.25h-1.25zM74.8,365.8h1.25v1.25h-1.25zM73.3,360.9h1.25v1.25h-1.25zM79.8,367.1h1.25v1.25h-1.25zM76.2,365.3h1.25v1.25h-1.25zM75.7,361.9h1.25v1.25h-1.25zM78.5,366.5h1.25v1.25h-1.25zM76.4,368.2h1.25v1.25h-1.25zM71.8,363.0h1.25v1.25h-1.25zM78.8,366.8h1.25v1.25h-1.25zM74.6,368.4h1.25v1.25h-1.25zM71.4,362.2h1.25v1.25h-1.25zM73.7,368.6h1.25v1.25h-1.25zM73.1,364.0h1.25v1.25h-1.25zM77.5,366.9h1.25v1.25h-1.25zM79.8,363.9h1.25v1.25h-1.25zM73.4,360.1h1.25v1.25h-1.25zM76.8,369.1h1.25v1.25h-1.25zM74.6,364.8h1.25v1.25h-1.25zM79.7,368.6h1.25v1.25h-1.25zM75.5,362.9h1.25v1.25h-1.25zM80.9,344.9h1.25v1.25h-1.25zM77.1,347.3h1.25v1.25h-1.25zM79.4,342.8h1.25v1.25h-1.25zM74.5,348.2h1.25v1.25h-1.25zM76.5,341.3h1.25v1.25h-1.25zM76.1,350.8h1.25v1.25h-1.25zM76.3,348.7h1.25v1.25h-1.25zM77.7,346.1h1.25v1.25h-1.25zM82.7,339.9h1.25v1.25h-1.25zM73.5,344.5h1.25v1.25h-1.25zM82.9,340.9h1.25v1.25h-1.25zM77.8,348.4h1.25v1.25h-1.25zM83.2,343.3h1.25v1.25h-1.25zM74.7,348.1h1.25v1.25h-1.25zM78.4,339.6h1.25v1.25h-1.25zM82.5,345.0h1.25v1.25h-1.25zM80.9,339.0h1.25v1.25h-1.25zM77.4,349.5h1.25v1.25h-1.25zM82.3,344.5h1.25v1.25h-1.25zM82.8,339.9h1.25v1.25h-1.25zM75.4,342.9h1.25v1.25h-1.25zM82.3,346.5h1.25v1.25h-1.25zM72.6,345.8h1.25v1.25h-1.25zM81.2,343.5h1.25v1.25h-1.25zM75.1,346.4h1.25v1.25h-1.25zM78.1,349.8h1.25v1.25h-1.25zM76.9,351.0h1.25v1.25h-1.25zM82.4,344.0h1.25v1.25h-1.25zM84.0,344.1h1.25v1.25h-1.25zM72.5,348.8h1.25v1.25h-1.25zM73.6,347.6h1.25v1.25h-1.25zM80.0,341.3h1.25v1.25h-1.25zM78.1,339.1h1.25v1.25h-1.25zM82.9,343.8h1.25v1.25h-1.25zM79.5,349.4h1.25v1.25h-1.25zM81.2,348.1h1.25v1.25h-1.25zM78.5,340.2h1.25v1.25h-1.25zM75.5,346.6h1.25v1.25h-1.25zM80.2,343.4h1.25v1.25h-1.25zM80.7,342.2h1.25v1.25h-1.25zM73.1,344.6h1.25v1.25h-1.25zM75.4,344.4h1.25v1.25h-1.25zM76.4,350.5h1.25v1.25h-1.25zM77.7,340.6h1.25v1.25h-1.25zM79.1,345.2h1.25v1.25h-1.25zM82.2,344.5h1.25v1.25h-1.25zM74.3,346.9h1.25v1.25h-1.25zM75.7,347.0h1.25v1.25h-1.25zM75.0,346.6h1.25v1.25h-1.25zM74.9,345.1h1.25v1.25h-1.25zM77.0,344.6h1.25v1.25h-1.25zM80.2,342.3h1.25v1.25h-1.25zM74.4,349.5h1.25v1.25h-1.25zM74.4,345.6h1.25v1.25h-1.25zM76.2,341.4h1.25v1.25h-1.25zM73.7,349.8h1.25v1.25h-1.25zM78.9,338.7h1.25v1.25h-1.25zM75.3,351.0h1.25v1.25h-1.25zM75.8,346.4h1.25v1.25h-1.25zM72.8,350.6h1.25v1.25h-1.25zM75.0,346.5h1.25v1.25h-1.25zM76.7,351.3h1.25v1.25h-1.25zM81.4,347.4h1.25v1.25h-1.25zM78.2,350.5h1.25v1.25h-1.25zM82.2,340.1h1.25v1.25h-1.25zM72.6,343.4h1.25v1.25h-1.25zM74.1,347.9h1.25v1.25h-1.25zM74.3,347.6h1.25v1.25h-1.25zM76.9,349.0h1.25v1.25h-1.25zM75.7,347.6h1.25v1.25h-1.25zM75.3,343.9h1.25v1.25h-1.25zM82.0,343.9h1.25v1.25h-1.25zM74.3,345.9h1.25v1.25h-1.25zM74.5,346.6h1.25v1.25h-1.25zM75.8,342.3h1.25v1.25h-1.25zM76.6,341.0h1.25v1.25h-1.25zM75.5,344.4h1.25v1.25h-1.25zM82.5,340.2h1.25v1.25h-1.25zM79.6,343.5h1.25v1.25h-1.25zM83.2,340.0h1.25v1.25h-1.25zM81.5,344.1h1.25v1.25h-1.25zM82.8,343.3h1.25v1.25h-1.25zM73.8,347.1h1.25v1.25h-1.25zM79.0,339.2h1.25v1.25h-1.25zM81.9,344.6h1.25v1.25h-1.25zM83.2,343.5h1.25v1.25h-1.25zM81.8,345.1h1.25v1.25h-1.25zM82.8,339.9h1.25v1.25h-1.25zM73.0,344.6h1.25v1.25h-1.25zM75.5,346.5h1.25v1.25h-1.25zM77.4,351.0h1.25v1.25h-1.25zM80.9,347.2h1.25v1.25h-1.25zM75.2,344.7h1.25v1.25h-1.25zM73.0,345.7h1.25v1.25h-1.25zM77.6,346.2h1.25v1.25h-1.25zM75.5,346.1h1.25v1.25h-1.25zM82.1,344.9h1.25v1.25h-1.25zM78.4,350.9h1.25v1.25h-1.25zM72.4,345.4h1.25v1.25h-1.25zM76.0,349.4h1.25v1.25h-1.25zM80.6,343.0h1.25v1.25h-1.25zM79.4,344.7h1.25v1.25h-1.25zM77.3,347.1h1.25v1.25h-1.25zM76.9,341.0h1.25v1.25h-1.25zM74.4,346.4h1.25v1.25h-1.25zM73.4,346.2h1.25v1.25h-1.25zM77.0,341.3h1.25v1.25h-1.25zM75.0,351.3h1.25v1.25h-1.25zM74.2,349.2h1.25v1.25h-1.25zM73.2,347.9h1.25v1.25h-1.25zM74.8,351.6h1.25v1.25h-1.25zM74.8,347.2h1.25v1.25h-1.25zM79.9,342.0h1.25v1.25h-1.25zM76.4,342.5h1.25v1.25h-1.25zM77.5,339.2h1.25v1.25h-1.25zM75.4,346.4h1.25v1.25h-1.25zM78.0,339.9h1.25v1.25h-1.25zM73.9,347.5h1.25v1.25h-1.25zM83.2,343.8h1.25v1.25h-1.25zM78.4,339.6h1.25v1.25h-1.25zM79.6,349.4h1.25v1.25h-1.25zM80.4,348.2h1.25v1.25h-1.25zM82.1,350.7h1.25v1.25h-1.25zM79.6,337.2h1.25v1.25h-1.25zM82.3,346.8h1.25v1.25h-1.25zM76.8,348.3h1.25v1.25h-1.25zM78.9,345.4h1.25v1.25h-1.25zM83.4,342.9h1.25v1.25h-1.25zM80.3,341.2h1.25v1.25h-1.25zM82.0,344.9h1.25v1.25h-1.25zM75.4,346.3h1.25v1.25h-1.25zM75.4,344.9h1.25v1.25h-1.25zM78.6,347.9h1.25v1.25h-1.25zM79.1,338.8h1.25v1.25h-1.25zM76.7,348.3h1.25v1.25h-1.25zM75.3,341.7h1.25v1.25h-1.25zM74.3,347.8h1.25v1.25h-1.25zM77.0,350.8h1.25v1.25h-1.25zM80.2,339.6h1.25v1.25h-1.25zM78.4,345.8h1.25v1.25h-1.25zM80.3,339.7h1.25v1.25h-1.25zM77.4,349.4h1.25v1.25h-1.25zM74.2,345.4h1.25v1.25h-1.25zM76.7,350.7h1.25v1.25h-1.25zM76.2,345.9h1.25v1.25h-1.25zM82.9,340.8h1.25v1.25h-1.25zM82.4,344.9h1.25v1.25h-1.25zM80.1,345.1h1.25v1.25h-1.25zM77.3,344.5h1.25v1.25h-1.25zM79.1,345.7h1.25v1.25h-1.25zM75.3,351.4h1.25v1.25h-1.25zM83.5,340.2h1.25v1.25h-1.25zM78.0,345.8h1.25v1.25h-1.25zM72.4,343.8h1.25v1.25h-1.25zM76.7,346.9h1.25v1.25h-1.25zM73.8,345.4h1.25v1.25h-1.25zM81.7,343.8h1.25v1.25h-1.25zM73.9,349.4h1.25v1.25h-1.25zM78.0,349.1h1.25v1.25h-1.25zM74.1,344.4h1.25v1.25h-1.25zM79.2,345.7h1.25v1.25h-1.25zM73.9,350.1h1.25v1.25h-1.25zM75.2,348.2h1.25v1.25h-1.25zM78.6,338.7h1.25v1.25h-1.25zM75.8,342.6h1.25v1.25h-1.25zM79.0,340.9h1.25v1.25h-1.25zM77.3,349.8h1.25v1.25h-1.25zM82.9,343.6h1.25v1.25h-1.25zM74.5,348.3h1.25v1.25h-1.25zM74.9,346.8h1.25v1.25h-1.25zM77.7,348.7h1.25v1.25h-1.25zM77.4,345.9h1.25v1.25h-1.25zM74.1,347.7h1.25v1.25h-1.25zM81.1,348.3h1.25v1.25h-1.25zM80.4,347.3h1.25v1.25h-1.25zM83.3,347.4h1.25v1.25h-1.25zM82.8,346.7h1.25v1.25h-1.25zM84.1,352.1h1.25v1.25h-1.25zM83.8,351.8h1.25v1.25h-1.25zM83.3,347.1h1.25v1.25h-1.25zM83.6,345.8h1.25v1.25h-1.25zM83.2,345.7h1.25v1.25h-1.25zM83.7,346.9h1.25v1.25h-1.25zM83.2,350.1h1.25v1.25h-1.25zM83.8,350.3h1.25v1.25h-1.25zM83.5,362.2h1.25v1.25h-1.25zM85.3,363.9h1.25v1.25h-1.25zM84.5,357.6h1.25v1.25h-1.25zM90.9,360.1h1.25v1.25h-1.25zM88.6,356.8h1.25v1.25h-1.25zM90.0,363.6h1.25v1.25h-1.25zM84.3,357.4h1.25v1.25h-1.25zM89.0,363.5h1.25v1.25h-1.25zM88.5,358.7h1.25v1.25h-1.25zM90.4,363.8h1.25v1.25h-1.25zM91.9,361.4h1.25v1.25h-1.25zM91.4,360.2h1.25v1.25h-1.25zM91.7,362.1h1.25v1.25h-1.25zM92.9,361.5h1.25v1.25h-1.25zM92.4,362.0h1.25v1.25h-1.25zM89.0,360.6h1.25v1.25h-1.25zM91.7,359.9h1.25v1.25h-1.25zM92.6,354.2h1.25v1.25h-1.25zM96.1,358.4h1.25v1.25h-1.25zM92.9,359.7h1.25v1.25h-1.25zM84.9,359.1h1.25v1.25h-1.25zM86.2,361.3h1.25v1.25h-1.25zM83.3,361.7h1.25v1.25h-1.25zM93.9,355.2h1.25v1.25h-1.25zM96.0,359.9h1.25v1.25h-1.25zM93.4,356.8h1.25v1.25h-1.25zM90.0,354.4h1.25v1.25h-1.25zM95.0,358.3h1.25v1.25h-1.25zM86.0,356.7h1.25v1.25h-1.25zM96.5,359.4h1.25v1.25h-1.25zM87.7,364.0h1.25v1.25h-1.25zM88.2,356.5h1.25v1.25h-1.25zM94.3,357.6h1.25v1.25h-1.25zM95.6,361.6h1.25v1.25h-1.25zM88.7,355.2h1.25v1.25h-1.25zM85.6,361.7h1.25v1.25h-1.25zM83.7,361.5h1.25v1.25h-1.25zM85.6,360.1h1.25v1.25h-1.25zM91.3,358.5h1.25v1.25h-1.25zM85.4,362.3h1.25v1.25h-1.25zM93.8,359.3h1.25v1.25h-1.25zM89.4,361.2h1.25v1.25h-1.25zM88.4,363.8h1.25v1.25h-1.25zM87.0,358.5h1.25v1.25h-1.25zM87.0,361.0h1.25v1.25h-1.25zM95.1,359.4h1.25v1.25h-1.25zM88.9,354.4h1.25v1.25h-1.25zM95.7,361.2h1.25v1.25h-1.25zM92.5,357.7h1.25v1.25h-1.25zM94.6,362.1h1.25v1.25h-1.25zM92.2,360.2h1.25v1.25h-1.25zM90.3,362.4h1.25v1.25h-1.25zM93.1,359.2h1.25v1.25h-1.25zM85.8,360.5h1.25v1.25h-1.25zM91.8,362.3h1.25v1.25h-1.25zM88.9,360.4h1.25v1.25h-1.25zM94.5,357.3h1.25v1.25h-1.25zM93.1,360.4h1.25v1.25h-1.25zM85.7,360.0h1.25v1.25h-1.25zM85.4,360.4h1.25v1.25h-1.25zM91.0,357.3h1.25v1.25h-1.25zM92.3,361.0h1.25v1.25h-1.25zM85.0,359.4h1.25v1.25h-1.25zM92.5,357.4h1.25v1.25h-1.25zM90.2,364.4h1.25v1.25h-1.25zM90.5,361.7h1.25v1.25h-1.25zM88.7,360.6h1.25v1.25h-1.25zM83.6,361.3h1.25v1.25h-1.25zM92.7,361.5h1.25v1.25h-1.25zM85.0,359.4h1.25v1.25h-1.25zM95.9,358.2h1.25v1.25h-1.25zM91.9,357.7h1.25v1.25h-1.25zM88.8,363.1h1.25v1.25h-1.25zM93.6,358.4h1.25v1.25h-1.25zM87.0,357.6h1.25v1.25h-1.25zM83.8,361.6h1.25v1.25h-1.25zM85.5,359.6h1.25v1.25h-1.25zM94.0,359.7h1.25v1.25h-1.25zM85.9,356.4h1.25v1.25h-1.25zM91.9,357.9h1.25v1.25h-1.25zM87.8,363.9h1.25v1.25h-1.25zM89.2,354.6h1.25v1.25h-1.25zM85.2,361.5h1.25v1.25h-1.25zM95.3,359.6h1.25v1.25h-1.25zM92.6,358.8h1.25v1.25h-1.25zM89.3,363.2h1.25v1.25h-1.25zM89.8,354.7h1.25v1.25h-1.25zM89.2,363.9h1.25v1.25h-1.25zM90.6,354.5h1.25v1.25h-1.25zM96.3,360.8h1.25v1.25h-1.25zM87.3,356.5h1.25v1.25h-1.25zM95.4,359.8h1.25v1.25h-1.25zM85.6,361.3h1.25v1.25h-1.25zM85.6,360.2h1.25v1.25h-1.25zM93.4,359.8h1.25v1.25h-1.25zM85.9,359.1h1.25v1.25h-1.25zM85.0,356.2h1.25v1.25h-1.25zM83.4,361.3h1.25v1.25h-1.25zM95.6,359.3h1.25v1.25h-1.25zM86.2,361.1h1.25v1.25h-1.25zM83.2,360.9h1.25v1.25h-1.25zM92.6,359.4h1.25v1.25h-1.25zM91.1,360.6h1.25v1.25h-1.25zM95.2,358.2h1.25v1.25h-1.25zM92.6,360.0h1.25v1.25h-1.25zM96.3,359.6h1.25v1.25h-1.25zM91.4,359.9h1.25v1.25h-1.25zM92.6,359.7h1.25v1.25h-1.25zM86.8,361.3h1.25v1.25h-1.25zM88.0,356.8h1.25v1.25h-1.25zM92.2,358.1h1.25v1.25h-1.25zM89.0,360.2h1.25v1.25h-1.25zM92.3,361.3h1.25v1.25h-1.25zM84.0,362.5h1.25v1.25h-1.25zM86.6,361.9h1.25v1.25h-1.25zM93.7,354.6h1.25v1.25h-1.25zM92.1,359.6h1.25v1.25h-1.25zM92.5,360.7h1.25v1.25h-1.25zM89.0,363.6h1.25v1.25h-1.25zM89.3,354.5h1.25v1.25h-1.25zM96.1,358.7h1.25v1.25h-1.25zM88.3,356.6h1.25v1.25h-1.25zM92.1,360.9h1.25v1.25h-1.25zM88.1,361.2h1.25v1.25h-1.25zM89.2,354.4h1.25v1.25h-1.25zM88.8,354.8h1.25v1.25h-1.25zM91.8,356.4h1.25v1.25h-1.25zM94.3,361.6h1.25v1.25h-1.25zM95.5,358.0h1.25v1.25h-1.25zM91.6,360.0h1.25v1.25h-1.25zM86.3,359.3h1.25v1.25h-1.25zM93.0,359.3h1.25v1.25h-1.25zM83.5,361.5h1.25v1.25h-1.25zM86.7,362.7h1.25v1.25h-1.25zM88.3,363.2h1.25v1.25h-1.25zM84.1,362.7h1.25v1.25h-1.25zM89.1,364.0h1.25v1.25h-1.25zM83.5,361.5h1.25v1.25h-1.25zM88.2,363.5h1.25v1.25h-1.25zM88.5,353.6h1.25v1.25h-1.25zM88.5,358.2h1.25v1.25h-1.25zM95.0,361.4h1.25v1.25h-1.25zM87.2,359.2h1.25v1.25h-1.25zM82.3,360.7h1.25v1.25h-1.25zM94.3,356.6h1.25v1.25h-1.25zM88.5,357.4h1.25v1.25h-1.25zM83.9,363.2h1.25v1.25h-1.25zM86.7,362.5h1.25v1.25h-1.25zM91.2,360.8h1.25v1.25h-1.25zM91.8,363.6h1.25v1.25h-1.25zM91.2,362.6h1.25v1.25h-1.25zM84.5,363.1h1.25v1.25h-1.25zM85.9,357.9h1.25v1.25h-1.25zM85.1,359.0h1.25v1.25h-1.25zM96.2,362.8h1.25v1.25h-1.25zM85.2,358.2h1.25v1.25h-1.25zM85.0,364.1h1.25v1.25h-1.25zM91.2,359.5h1.25v1.25h-1.25zM85.7,359.1h1.25v1.25h-1.25zM90.2,363.6h1.25v1.25h-1.25zM92.4,360.8h1.25v1.25h-1.25zM92.0,362.3h1.25v1.25h-1.25zM82.4,362.6h1.25v1.25h-1.25zM88.9,361.5h1.25v1.25h-1.25zM95.4,360.8h1.25v1.25h-1.25zM82.9,361.8h1.25v1.25h-1.25zM94.2,357.5h1.25v1.25h-1.25zM92.9,362.2h1.25v1.25h-1.25zM92.5,360.0h1.25v1.25h-1.25zM86.7,358.1h1.25v1.25h-1.25zM94.9,361.2h1.25v1.25h-1.25zM85.4,364.3h1.25v1.25h-1.25zM92.0,359.6h1.25v1.25h-1.25zM92.4,360.5h1.25v1.25h-1.25zM89.4,355.7h1.25v1.25h-1.25zM82.5,363.7h1.25v1.25h-1.25zM82.2,363.1h1.25v1.25h-1.25zM80.0,362.3h1.25v1.25h-1.25zM84.3,362.0h1.25v1.25h-1.25zM80.9,362.9h1.25v1.25h-1.25zM84.6,362.4h1.25v1.25h-1.25zM80.5,362.0h1.25v1.25h-1.25zM80.0,362.4h1.25v1.25h-1.25zM82.0,363.8h1.25v1.25h-1.25zM80.5,362.8h1.25v1.25h-1.25zM86.7,329.9h1.25v1.25h-1.25zM86.6,331.7h1.25v1.25h-1.25zM86.6,329.9h1.25v1.25h-1.25zM86.1,331.3h1.25v1.25h-1.25zM86.9,329.7h1.25v1.25h-1.25zM87.1,329.0h1.25v1.25h-1.25zM86.6,331.6h1.25v1.25h-1.25zM86.5,330.2h1.25v1.25h-1.25zM110.8,362.1h1.25v1.25h-1.25zM112.8,356.0h1.25v1.25h-1.25zM113.9,358.9h1.25v1.25h-1.25zM114.3,358.8h1.25v1.25h-1.25zM112.6,357.4h1.25v1.25h-1.25zM112.4,356.3h1.25v1.25h-1.25zM111.4,362.6h1.25v1.25h-1.25zM113.0,355.7h1.25v1.25h-1.25zM116.8,354.0h1.25v1.25h-1.25zM110.8,355.3h1.25v1.25h-1.25zM111.9,352.3h1.25v1.25h-1.25zM112.7,364.0h1.25v1.25h-1.25zM111.0,353.5h1.25v1.25h-1.25zM117.0,358.0h1.25v1.25h-1.25zM113.5,362.2h1.25v1.25h-1.25zM110.2,357.4h1.25v1.25h-1.25zM116.9,359.4h1.25v1.25h-1.25zM112.4,356.2h1.25v1.25h-1.25zM117.7,357.4h1.25v1.25h-1.25zM112.8,363.4h1.25v1.25h-1.25zM110.6,357.6h1.25v1.25h-1.25zM110.5,361.3h1.25v1.25h-1.25zM109.3,358.4h1.25v1.25h-1.25zM110.9,358.3h1.25v1.25h-1.25zM116.6,357.7h1.25v1.25h-1.25zM112.9,358.6h1.25v1.25h-1.25zM113.2,356.0h1.25v1.25h-1.25zM114.9,359.8h1.25v1.25h-1.25zM111.4,355.2h1.25v1.25h-1.25zM110.0,359.7h1.25v1.25h-1.25zM112.1,360.4h1.25v1.25h-1.25zM114.8,363.7h1.25v1.25h-1.25zM114.3,357.1h1.25v1.25h-1.25zM116.0,361.1h1.25v1.25h-1.25zM115.2,356.1h1.25v1.25h-1.25zM117.5,360.0h1.25v1.25h-1.25zM114.7,363.0h1.25v1.25h-1.25zM111.3,355.0h1.25v1.25h-1.25zM114.9,357.1h1.25v1.25h-1.25zM115.5,360.7h1.25v1.25h-1.25zM117.0,361.4h1.25v1.25h-1.25zM113.2,356.6h1.25v1.25h-1.25zM109.9,355.2h1.25v1.25h-1.25zM117.3,357.4h1.25v1.25h-1.25zM111.1,352.4h1.25v1.25h-1.25zM111.8,356.2h1.25v1.25h-1.25zM115.2,363.5h1.25v1.25h-1.25zM112.6,356.2h1.25v1.25h-1.25zM113.0,355.8h1.25v1.25h-1.25zM117.0,353.8h1.25v1.25h-1.25zM117.1,356.5h1.25v1.25h-1.25zM108.8,358.7h1.25v1.25h-1.25zM110.1,358.5h1.25v1.25h-1.25zM114.0,356.1h1.25v1.25h-1.25zM111.5,357.4h1.25v1.25h-1.25zM111.3,355.5h1.25v1.25h-1.25zM110.0,358.0h1.25v1.25h-1.25zM114.7,359.4h1.25v1.25h-1.25zM109.8,358.5h1.25v1.25h-1.25zM111.6,359.1h1.25v1.25h-1.25zM113.4,358.1h1.25v1.25h-1.25zM116.4,358.1h1.25v1.25h-1.25zM111.5,361.4h1.25v1.25h-1.25zM113.9,363.4h1.25v1.25h-1.25zM112.6,356.9h1.25v1.25h-1.25zM112.2,359.2h1.25v1.25h-1.25zM113.4,363.6h1.25v1.25h-1.25zM111.5,356.5h1.25v1.25h-1.25zM117.1,359.3h1.25v1.25h-1.25zM111.6,362.3h1.25v1.25h-1.25zM112.3,364.5h1.25v1.25h-1.25zM111.4,353.3h1.25v1.25h-1.25zM109.8,360.4h1.25v1.25h-1.25zM111.2,354.6h1.25v1.25h-1.25zM113.6,355.4h1.25v1.25h-1.25zM114.0,360.3h1.25v1.25h-1.25zM113.0,356.1h1.25v1.25h-1.25zM113.6,356.2h1.25v1.25h-1.25zM114.7,357.5h1.25v1.25h-1.25zM112.6,356.8h1.25v1.25h-1.25zM111.9,356.0h1.25v1.25h-1.25zM114.2,362.8h1.25v1.25h-1.25zM109.7,359.1h1.25v1.25h-1.25zM114.9,363.4h1.25v1.25h-1.25zM115.9,360.9h1.25v1.25h-1.25zM113.0,363.8h1.25v1.25h-1.25zM111.3,359.7h1.25v1.25h-1.25zM112.4,356.5h1.25v1.25h-1.25zM116.3,361.7h1.25v1.25h-1.25zM113.1,357.8h1.25v1.25h-1.25zM115.3,364.1h1.25v1.25h-1.25zM111.4,356.2h1.25v1.25h-1.25zM110.5,354.6h1.25v1.25h-1.25zM116.0,355.3h1.25v1.25h-1.25zM116.5,359.8h1.25v1.25h-1.25zM114.8,357.7h1.25v1.25h-1.25zM114.2,355.3h1.25v1.25h-1.25zM114.1,358.6h1.25v1.25h-1.25zM111.1,361.9h1.25v1.25h-1.25zM114.5,364.4h1.25v1.25h-1.25zM115.4,364.4h1.25v1.25h-1.25zM115.3,359.8h1.25v1.25h-1.25zM117.3,356.9h1.25v1.25h-1.25zM113.0,356.0h1.25v1.25h-1.25zM109.9,359.4h1.25v1.25h-1.25zM116.6,361.4h1.25v1.25h-1.25zM110.0,357.7h1.25v1.25h-1.25zM116.9,357.6h1.25v1.25h-1.25zM111.9,355.8h1.25v1.25h-1.25zM114.7,357.5h1.25v1.25h-1.25zM112.5,355.9h1.25v1.25h-1.25zM115.7,353.1h1.25v1.25h-1.25zM116.1,361.6h1.25v1.25h-1.25zM110.5,359.3h1.25v1.25h-1.25zM109.1,357.9h1.25v1.25h-1.25zM113.5,356.6h1.25v1.25h-1.25zM118.4,357.9h1.25v1.25h-1.25zM113.8,358.7h1.25v1.25h-1.25zM113.3,354.2h1.25v1.25h-1.25zM116.4,359.2h1.25v1.25h-1.25zM113.3,356.0h1.25v1.25h-1.25zM112.4,360.8h1.25v1.25h-1.25zM114.4,355.4h1.25v1.25h-1.25zM114.6,356.6h1.25v1.25h-1.25zM117.3,361.8h1.25v1.25h-1.25zM117.4,359.1h1.25v1.25h-1.25zM114.2,355.2h1.25v1.25h-1.25zM113.8,354.9h1.25v1.25h-1.25zM122.0,357.1h1.25v1.25h-1.25zM125.2,357.1h1.25v1.25h-1.25zM116.8,358.6h1.25v1.25h-1.25zM124.0,357.1h1.25v1.25h-1.25zM122.7,356.3h1.25v1.25h-1.25zM121.0,358.2h1.25v1.25h-1.25zM125.2,355.7h1.25v1.25h-1.25zM120.7,357.8h1.25v1.25h-1.25zM123.5,357.7h1.25v1.25h-1.25zM117.1,359.4h1.25v1.25h-1.25zM118.7,358.4h1.25v1.25h-1.25zM122.7,356.1h1.25v1.25h-1.25zM116.6,357.9h1.25v1.25h-1.25zM123.0,357.8h1.25v1.25h-1.25zM119.9,357.7h1.25v1.25h-1.25zM118.2,358.0h1.25v1.25h-1.25zM123.2,356.3h1.25v1.25h-1.25zM126.3,356.5h1.25v1.25h-1.25zM121.0,357.6h1.25v1.25h-1.25zM122.0,356.6h1.25v1.25h-1.25zM120.3,357.8h1.25v1.25h-1.25zM121.7,356.7h1.25v1.25h-1.25zM125.3,356.7h1.25v1.25h-1.25zM120.4,358.3h1.25v1.25h-1.25zM116.9,359.2h1.25v1.25h-1.25zM125.6,357.2h1.25v1.25h-1.25zM123.0,357.5h1.25v1.25h-1.25zM120.3,357.6h1.25v1.25h-1.25zM120.3,358.6h1.25v1.25h-1.25zM125.2,356.4h1.25v1.25h-1.25zM119.0,358.3h1.25v1.25h-1.25zM124.4,356.7h1.25v1.25h-1.25zM108.7,352.8h1.25v1.25h-1.25zM107.8,352.5h1.25v1.25h-1.25zM109.8,352.6h1.25v1.25h-1.25zM109.4,352.0h1.25v1.25h-1.25zM107.9,351.4h1.25v1.25h-1.25zM110.2,352.5h1.25v1.25h-1.25zM107.7,351.4h1.25v1.25h-1.25zM109.8,353.0h1.25v1.25h-1.25zM109.6,352.8h1.25v1.25h-1.25zM108.7,352.3h1.25v1.25h-1.25zM108.3,352.8h1.25v1.25h-1.25zM109.2,352.5h1.25v1.25h-1.25zM111.0,353.0h1.25v1.25h-1.25z"/>
<path fill="#33a02c" d="M106.3,321.0h1.25v1.25h-1.25zM111.0,319.2h1.25v1.25h-1.25zM108.8,318.9h1.25v1.25h-1.25zM111.4,316.5h1.25v1.25h-1.25zM104.5,322.5h1.25v1.25h-1.25zM106.0,324.0h1.25v1.25h-1.25zM109.2,319.6h1.25v1.25h-1.25zM107.7,321.0h1.25v1.25h-1.25zM106.0,321.5h1.25v1.25h-1.25zM107.9,321.1h1.25v1.25h-1.25zM105.2,324.4h1.25v1.25h-1.25zM111.7,318.4h1.25v1.25h-1.25zM113.2,318.9h1.25v1.25h-1.25zM105.1,326.7h1.25v1.25h-1.25zM112.7,317.3h1.25v1.25h-1.25zM108.0,321.6h1.25v1.25h-1.25zM110.0,319.4h1.25v1.25h-1.25zM106.9,320.4h1.25v1.25h-1.25zM109.0,319.4h1.25v1.25h-1.25zM106.5,319.5h1.25v1.25h-1.25zM109.9,318.7h1.25v1.25h-1.25zM108.1,318.1h1.25v1.25h-1.25zM110.8,318.0h1.25v1.25h-1.25zM106.1,322.9h1.25v1.25h-1.25zM109.9,319.2h1.25v1.25h-1.25zM107.4,320.1h1.25v1.25h-1.25zM109.7,317.2h1.25v1.25h-1.25zM107.6,318.9h1.25v1.25h-1.25zM111.9,319.0h1.25v1.25h-1.25zM107.6,323.1h1.25v1.25h-1.25zM105.0,324.3h1.25v1.25h-1.25zM105.6,325.8h1.25v1.25h-1.25zM109.2,320.0h1.25v1.25h-1.25zM106.7,324.8h1.25v1.25h-1.25zM106.9,322.3h1.25v1.25h-1.25zM110.6,319.2h1.25v1.25h-1.25zM109.8,318.3h1.25v1.25h-1.25zM107.3,319.6h1.25v1.25h-1.25zM107.2,323.8h1.25v1.25h-1.25zM105.7,324.9h1.25v1.25h-1.25zM107.4,323.9h1.25v1.25h-1.25zM108.7,321.3h1.25v1.25h-1.25zM109.4,317.0h1.25v1.25h-1.25zM106.7,319.5h1.25v1.25h-1.25zM107.9,320.2h1.25v1.25h-1.25zM112.1,319.0h1.25v1.25h-1.25zM106.1,324.0h1.25v1.25h-1.25zM108.2,321.2h1.25v1.25h-1.25zM109.2,317.3h1.25v1.25h-1.25zM107.8,319.6h1.25v1.25h-1.25zM108.3,321.7h1.25v1.25h-1.25zM107.1,322.4h1.25v1.25h-1.25zM107.2,323.9h1.25v1.25h-1.25zM112.3,318.3h1.25v1.25h-1.25zM106.8,324.5h1.25v1.25h-1.25zM104.3,324.6h1.25v1.25h-1.25zM109.0,319.2h1.25v1.25h-1.25zM109.6,319.2h1.25v1.25h-1.25zM104.5,325.3h1.25v1.25h-1.25zM107.2,320.0h1.25v1.25h-1.25zM104.9,326.0h1.25v1.25h-1.25zM112.7,318.5h1.25v1.25h-1.25zM109.2,318.4h1.25v1.25h-1.25zM108.6,319.9h1.25v1.25h-1.25zM105.7,322.7h1.25v1.25h-1.25zM106.0,324.1h1.25v1.25h-1.25zM109.3,318.1h1.25v1.25h-1.25zM106.1,321.8h1.25v1.25h-1.25zM111.1,318.6h1.25v1.25h-1.25zM106.6,319.9h1.25v1.25h-1.25zM108.7,318.6h1.25v1.25h-1.25zM110.7,319.0h1.25v1.25h-1.25zM104.7,326.4h1.25v1.25h-1.25zM112.8,319.6h1.25v1.25h-1.25zM110.8,317.4h1.25v1.25h-1.25zM111.9,317.4h1.25v1.25h-1.25zM105.1,325.7h1.25v1.25h-1.25zM112.7,320.0h1.25v1.25h-1.25zM104.4,322.6h1.25v1.25h-1.25zM103.6,325.1h1.25v1.25h-1.25zM109.3,318.5h1.25v1.25h-1.25zM110.4,317.8h1.25v1.25h-1.25zM104.6,324.3h1.25v1.25h-1.25zM105.0,326.5h1.25v1.25h-1.25zM107.2,320.7h1.25v1.25h-1.25zM108.5,317.6h1.25v1.25h-1.25zM105.7,322.7h1.25v1.25h-1.25zM113.7,317.4h1.25v1.25h-1.25zM109.5,319.3h1.25v1.25h-1.25zM109.3,317.8h1.25v1.25h-1.25zM110.1,320.5h1.25v1.25h-1.25zM104.6,326.2h1.25v1.25h-1.25zM106.1,325.2h1.25v1.25h-1.25zM107.9,321.4h1.25v1.25h-1.25zM113.4,324.0h1.25v1.25h-1.25zM112.6,322.6h1.25v1.25h-1.25zM112.7,322.4h1.25v1.25h-1.25zM113.6,322.6h1.25v1.25h-1.25zM115.2,319.5h1.25v1.25h-1.25zM114.2,322.1h1.25v1.25h-1.25zM113.9,321.7h1.25v1.25h-1.25zM113.4,321.9h1.25v1.25h-1.25zM112.7,323.3h1.25v1.25h-1.25zM112.4,323.7h1.25v1.25h-1.25zM115.5,318.7h1.25v1.25h-1.25zM114.5,319.4h1.25v1.25h-1.25zM114.7,321.3h1.25v1.25h-1.25zM115.4,320.2h1.25v1.25h-1.25zM112.1,324.9h1.25v1.25h-1.25zM114.3,321.4h1.25v1.25h-1.25zM113.7,323.0h1.25v1.25h-1.25zM114.7,318.3h1.25v1.25h-1.25zM104.9,326.8h1.25v1.25h-1.25zM107.8,326.4h1.25v1.25h-1.25zM109.5,326.3h1.25v1.25h-1.25zM109.3,325.9h1.25v1.25h-1.25zM104.9,327.2h1.25v1.25h-1.25zM109.6,325.3h1.25v1.25h-1.25zM106.3,323.1h1.25v1.25h-1.25zM108.7,327.5h1.25v1.25h-1.25zM105.7,326.0h1.25v1.25h-1.25zM109.8,327.5h1.25v1.25h-1.25zM106.2,328.1h1.25v1.25h-1.25zM108.5,327.1h1.25v1.25h-1.25zM108.9,330.0h1.25v1.25h-1.25zM108.1,329.8h1.25v1.25h-1.25zM109.4,330.1h1.25v1.25h-1.25zM105.3,326.8h1.25v1.25h-1.25zM105.9,329.1h1.25v1.25h-1.25zM108.2,324.3h1.25v1.25h-1.25zM109.0,324.0h1.25v1.25h-1.25zM108.4,330.5h1.25v1.25h-1.25zM106.1,329.8h1.25v1.25h-1.25zM108.6,329.8h1.25v1.25h-1.25zM105.9,330.3h1.25v1.25h-1.25zM107.8,327.1h1.25v1.25h-1.25zM104.1,328.0h1.25v1.25h-1.25zM108.6,328.0h1.25v1.25h-1.25zM109.9,330.2h1.25v1.25h-1.25zM107.7,330.7h1.25v1.25h-1.25zM109.2,326.2h1.25v1.25h-1.25zM109.0,329.1h1.25v1.25h-1.25zM109.9,330.5h1.25v1.25h-1.25zM109.9,326.1h1.25v1.25h-1.25zM106.7,323.3h1.25v1.25h-1.25zM105.5,327.9h1.25v1.25h-1.25zM110.3,327.6h1.25v1.25h-1.25zM108.7,327.1h1.25v1.25h-1.25zM109.7,325.9h1.25v1.25h-1.25zM108.7,328.9h1.25v1.25h-1.25zM108.1,329.5h1.25v1.25h-1.25zM107.5,329.3h1.25v1.25h-1.25zM107.5,326.2h1.25v1.25h-1.25zM109.3,329.6h1.25v1.25h-1.25zM105.5,327.5h1.25v1.25h-1.25zM108.9,322.4h1.25v1.25h-1.25zM108.8,330.6h1.25v1.25h-1.25zM106.0,322.8h1.25v1.25h-1.25zM109.1,328.9h1.25v1.25h-1.25zM106.7,324.0h1.25v1.25h-1.25zM109.5,326.5h1.25v1.25h-1.25zM108.7,327.3h1.25v1.25h-1.25zM107.6,325.4h1.25v1.25h-1.25zM105.7,322.3h1.25v1.25h-1.25zM104.3,325.3h1.25v1.25h-1.25zM106.5,325.4h1.25v1.25h-1.25zM105.7,327.4h1.25v1.25h-1.25zM108.1,326.0h1.25v1.25h-1.25zM105.1,326.6h1.25v1.25h-1.25zM106.7,329.8h1.25v1.25h-1.25zM108.3,327.2h1.25v1.25h-1.25zM106.2,322.9h1.25v1.25h-1.25zM106.3,333.7h1.25v1.25h-1.25zM106.9,334.3h1.25v1.25h-1.25zM105.9,334.5h1.25v1.25h-1.25zM106.8,334.4h1.25v1.25h-1.25zM105.9,333.7h1.25v1.25h-1.25zM110.1,332.6h1.25v1.25h-1.25zM110.2,333.5h1.25v1.25h-1.25zM110.2,334.1h1.25v1.25h-1.25zM110.0,332.8h1.25v1.25h-1.25zM110.1,333.8h1.25v1.25h-1.25zM100.9,344.0h1.25v1.25h-1.25zM97.2,325.7h1.25v1.25h-1.25zM102.4,346.4h1.25v1.25h-1.25zM102.1,345.5h1.25v1.25h-1.25zM102.4,347.3h1.25v1.25h-1.25zM97.7,325.6h1.25v1.25h-1.25zM96.4,335.5h1.25v1.25h-1.25zM103.2,347.0h1.25v1.25h-1.25zM97.5,326.1h1.25v1.25h-1.25zM95.9,330.3h1.25v1.25h-1.25zM100.4,342.1h1.25v1.25h-1.25zM99.3,339.5h1.25v1.25h-1.25zM99.0,340.2h1.25v1.25h-1.25zM97.6,337.4h1.25v1.25h-1.25zM96.4,330.1h1.25v1.25h-1.25zM102.5,349.1h1.25v1.25h-1.25zM99.7,339.9h1.25v1.25h-1.25zM95.5,336.2h1.25v1.25h-1.25zM101.6,344.0h1.25v1.25h-1.25zM95.4,332.2h1.25v1.25h-1.25zM102.3,345.4h1.25v1.25h-1.25zM96.2,329.2h1.25v1.25h-1.25zM101.7,345.3h1.25v1.25h-1.25zM100.3,345.5h1.25v1.25h-1.25zM100.8,340.0h1.25v1.25h-1.25zM100.7,339.8h1.25v1.25h-1.25zM103.2,347.0h1.25v1.25h-1.25zM95.5,328.3h1.25v1.25h-1.25zM97.1,328.6h1.25v1.25h-1.25zM99.9,341.9h1.25v1.25h-1.25zM99.5,340.9h1.25v1.25h-1.25zM102.6,348.9h1.25v1.25h-1.25zM96.1,336.0h1.25v1.25h-1.25zM102.1,347.3h1.25v1.25h-1.25zM95.4,334.5h1.25v1.25h-1.25zM98.0,325.5h1.25v1.25h-1.25zM104.7,352.0h1.25v1.25h-1.25zM100.2,344.1h1.25v1.25h-1.25zM101.6,343.8h1.25v1.25h-1.25zM96.3,336.8h1.25v1.25h-1.25zM94.4,333.9h1.25v1.25h-1.25zM100.5,342.6h1.25v1.25h-1.25zM103.4,350.5h1.25v1.25h-1.25zM95.8,329.2h1.25v1.25h-1.25zM95.0,329.3h1.25v1.25h-1.25zM101.3,343.2h1.25v1.25h-1.25zM96.6,327.4h1.25v1.25h-1.25zM101.4,346.6h1.25v1.25h-1.25z"/>
<path fill="#2bb3d4" d="M120.2,371.3h1.25v1.25h-1.25zM116.3,366.8h1.25v1.25h-1.25zM116.4,367.2h1.25v1.25h-1.25zM120.2,369.8h1.25v1.25h-1.25zM119.9,370.3h1.25v1.25h-1.25zM119.4,370.9h1.25v1.25h-1.25zM116.3,366.1h1.25v1.25h-1.25zM119.0,367.3h1.25v1.25h-1.25zM115.7,366.1h1.25v1.25h-1.25zM118.3,365.9h1.25v1.25h-1.25zM119.0,367.6h1.25v1.25h-1.25zM118.4,366.5h1.25v1.25h-1.25zM119.9,370.7h1.25v1.25h-1.25zM115.7,364.8h1.25v1.25h-1.25zM120.7,372.4h1.25v1.25h-1.25zM115.9,367.1h1.25v1.25h-1.25zM121.6,378.9h1.25v1.25h-1.25zM119.2,382.7h1.25v1.25h-1.25zM120.0,381.8h1.25v1.25h-1.25zM118.5,380.0h1.25v1.25h-1.25zM117.6,382.3h1.25v1.25h-1.25zM117.7,384.4h1.25v1.25h-1.25zM116.0,379.0h1.25v1.25h-1.25zM120.1,380.3h1.25v1.25h-1.25zM120.9,377.2h1.25v1.25h-1.25zM118.8,378.9h1.25v1.25h-1.25zM118.4,377.7h1.25v1.25h-1.25zM118.6,375.4h1.25v1.25h-1.25zM120.0,382.0h1.25v1.25h-1.25zM121.9,377.5h1.25v1.25h-1.25zM115.9,378.7h1.25v1.25h-1.25zM118.5,380.8h1.25v1.25h-1.25zM122.0,381.9h1.25v1.25h-1.25zM120.8,380.7h1.25v1.25h-1.25zM118.6,382.9h1.25v1.25h-1.25zM116.4,378.7h1.25v1.25h-1.25zM122.1,375.8h1.25v1.25h-1.25zM118.9,377.5h1.25v1.25h-1.25zM120.6,378.0h1.25v1.25h-1.25zM121.4,381.3h1.25v1.25h-1.25zM121.4,381.0h1.25v1.25h-1.25zM120.0,381.1h1.25v1.25h-1.25zM116.0,377.8h1.25v1.25h-1.25zM114.9,378.7h1.25v1.25h-1.25zM117.9,379.7h1.25v1.25h-1.25zM117.2,381.4h1.25v1.25h-1.25zM117.7,382.5h1.25v1.25h-1.25zM122.1,377.7h1.25v1.25h-1.25zM119.1,381.0h1.25v1.25h-1.25zM120.3,379.6h1.25v1.25h-1.25zM121.1,380.8h1.25v1.25h-1.25zM122.6,378.1h1.25v1.25h-1.25zM117.2,382.1h1.25v1.25h-1.25zM119.3,383.2h1.25v1.25h-1.25zM122.1,382.3h1.25v1.25h-1.25zM121.4,379.0h1.25v1.25h-1.25zM120.0,382.1h1.25v1.25h-1.25zM118.4,378.6h1.25v1.25h-1.25zM121.8,382.8h1.25v1.25h-1.25zM118.8,379.3h1.25v1.25h-1.25zM116.4,378.7h1.25v1.25h-1.25zM120.4,380.4h1.25v1.25h-1.25zM119.1,383.0h1.25v1.25h-1.25zM118.8,382.4h1.25v1.25h-1.25zM120.8,382.5h1.25v1.25h-1.25zM118.0,381.9h1.25v1.25h-1.25zM115.2,380.2h1.25v1.25h-1.25zM116.7,383.5h1.25v1.25h-1.25zM119.7,380.0h1.25v1.25h-1.25zM119.6,381.7h1.25v1.25h-1.25z"/>
<path fill="#2c3f8f" d="M109.7,421.2h1.25v1.25h-1.25zM107.8,413.8h1.25v1.25h-1.25zM110.3,416.5h1.25v1.25h-1.25zM110.8,405.3h1.25v1.25h-1.25zM115.0,407.7h1.25v1.25h-1.25zM115.1,409.4h1.25v1.25h-1.25zM111.7,412.6h1.25v1.25h-1.25zM112.4,414.2h1.25v1.25h-1.25zM105.8,409.4h1.25v1.25h-1.25zM113.0,405.6h1.25v1.25h-1.25zM114.3,409.8h1.25v1.25h-1.25zM108.1,410.4h1.25v1.25h-1.25zM114.0,406.9h1.25v1.25h-1.25zM114.0,404.7h1.25v1.25h-1.25zM112.5,409.6h1.25v1.25h-1.25zM108.0,412.7h1.25v1.25h-1.25zM108.6,417.1h1.25v1.25h-1.25zM107.1,411.5h1.25v1.25h-1.25zM111.7,405.3h1.25v1.25h-1.25zM114.2,403.2h1.25v1.25h-1.25zM112.2,400.4h1.25v1.25h-1.25zM110.4,420.8h1.25v1.25h-1.25zM110.4,421.0h1.25v1.25h-1.25zM110.1,406.4h1.25v1.25h-1.25zM116.0,406.8h1.25v1.25h-1.25zM111.8,400.9h1.25v1.25h-1.25zM114.1,407.5h1.25v1.25h-1.25zM107.1,410.7h1.25v1.25h-1.25zM104.8,411.0h1.25v1.25h-1.25zM110.2,417.5h1.25v1.25h-1.25zM113.1,405.3h1.25v1.25h-1.25zM114.9,412.0h1.25v1.25h-1.25zM108.4,417.3h1.25v1.25h-1.25zM110.2,420.0h1.25v1.25h-1.25zM112.0,402.0h1.25v1.25h-1.25zM112.3,411.9h1.25v1.25h-1.25zM109.7,417.1h1.25v1.25h-1.25zM111.2,400.5h1.25v1.25h-1.25zM108.7,421.3h1.25v1.25h-1.25zM110.4,416.3h1.25v1.25h-1.25zM110.8,418.1h1.25v1.25h-1.25zM109.0,416.3h1.25v1.25h-1.25zM107.8,405.6h1.25v1.25h-1.25zM109.8,409.0h1.25v1.25h-1.25zM108.1,417.1h1.25v1.25h-1.25zM107.1,398.8h1.25v1.25h-1.25zM108.7,407.1h1.25v1.25h-1.25zM110.2,421.6h1.25v1.25h-1.25zM110.5,415.9h1.25v1.25h-1.25zM109.9,411.3h1.25v1.25h-1.25zM110.7,398.9h1.25v1.25h-1.25zM109.7,420.1h1.25v1.25h-1.25zM107.5,416.5h1.25v1.25h-1.25zM108.8,410.9h1.25v1.25h-1.25zM113.1,416.2h1.25v1.25h-1.25zM109.5,421.1h1.25v1.25h-1.25zM111.0,408.7h1.25v1.25h-1.25zM114.7,401.6h1.25v1.25h-1.25zM106.2,410.4h1.25v1.25h-1.25zM112.9,410.5h1.25v1.25h-1.25zM107.1,404.6h1.25v1.25h-1.25zM109.8,415.7h1.25v1.25h-1.25zM109.5,399.5h1.25v1.25h-1.25zM108.2,415.7h1.25v1.25h-1.25zM116.4,407.0h1.25v1.25h-1.25zM110.6,398.8h1.25v1.25h-1.25zM114.5,405.9h1.25v1.25h-1.25zM113.5,410.2h1.25v1.25h-1.25zM107.0,407.6h1.25v1.25h-1.25zM110.7,405.6h1.25v1.25h-1.25zM105.1,408.8h1.25v1.25h-1.25z"/>
<path fill="#1f6db5" d="M113.7,402.4h1.25v1.25h-1.25zM106.5,401.3h1.25v1.25h-1.25zM109.0,417.0h1.25v1.25h-1.25zM110.4,418.9h1.25v1.25h-1.25zM107.5,399.4h1.25v1.25h-1.25zM105.2,405.7h1.25v1.25h-1.25zM109.2,420.0h1.25v1.25h-1.25zM110.9,398.8h1.25v1.25h-1.25zM112.1,402.7h1.25v1.25h-1.25zM111.7,412.0h1.25v1.25h-1.25zM111.2,416.7h1.25v1.25h-1.25zM110.2,410.2h1.25v1.25h-1.25zM107.5,410.6h1.25v1.25h-1.25zM113.7,400.9h1.25v1.25h-1.25zM107.2,405.4h1.25v1.25h-1.25zM108.2,415.8h1.25v1.25h-1.25zM108.4,411.1h1.25v1.25h-1.25zM109.9,402.0h1.25v1.25h-1.25zM109.3,402.2h1.25v1.25h-1.25zM108.2,401.3h1.25v1.25h-1.25zM111.9,415.8h1.25v1.25h-1.25zM112.8,403.9h1.25v1.25h-1.25zM109.9,421.2h1.25v1.25h-1.25zM110.4,417.7h1.25v1.25h-1.25zM105.2,411.1h1.25v1.25h-1.25zM109.2,415.6h1.25v1.25h-1.25zM107.5,399.2h1.25v1.25h-1.25zM110.5,408.9h1.25v1.25h-1.25zM107.3,407.0h1.25v1.25h-1.25zM110.4,416.5h1.25v1.25h-1.25zM110.3,398.7h1.25v1.25h-1.25zM106.2,408.3h1.25v1.25h-1.25zM110.2,421.1h1.25v1.25h-1.25zM114.0,412.0h1.25v1.25h-1.25zM110.3,420.1h1.25v1.25h-1.25zM104.3,406.1h1.25v1.25h-1.25zM113.4,404.2h1.25v1.25h-1.25zM112.9,405.5h1.25v1.25h-1.25zM111.1,409.3h1.25v1.25h-1.25zM107.9,416.0h1.25v1.25h-1.25zM106.8,417.2h1.25v1.25h-1.25zM111.9,400.3h1.25v1.25h-1.25zM109.3,402.4h1.25v1.25h-1.25zM112.3,403.3h1.25v1.25h-1.25zM108.3,415.4h1.25v1.25h-1.25zM106.9,405.0h1.25v1.25h-1.25zM111.7,406.9h1.25v1.25h-1.25zM110.7,417.1h1.25v1.25h-1.25zM108.2,416.4h1.25v1.25h-1.25zM111.2,399.3h1.25v1.25h-1.25zM110.2,399.3h1.25v1.25h-1.25zM109.3,402.4h1.25v1.25h-1.25zM112.9,405.6h1.25v1.25h-1.25zM110.2,411.1h1.25v1.25h-1.25zM113.5,409.3h1.25v1.25h-1.25zM110.9,399.3h1.25v1.25h-1.25zM107.2,411.0h1.25v1.25h-1.25zM109.8,420.3h1.25v1.25h-1.25zM109.6,420.8h1.25v1.25h-1.25zM109.4,416.1h1.25v1.25h-1.25zM114.2,408.1h1.25v1.25h-1.25zM113.0,399.9h1.25v1.25h-1.25zM106.5,406.9h1.25v1.25h-1.25zM105.7,409.5h1.25v1.25h-1.25zM110.7,421.1h1.25v1.25h-1.25zM110.3,421.3h1.25v1.25h-1.25zM104.9,405.8h1.25v1.25h-1.25zM106.1,413.4h1.25v1.25h-1.25zM110.3,421.4h1.25v1.25h-1.25zM112.8,403.3h1.25v1.25h-1.25zM108.3,410.4h1.25v1.25h-1.25zM107.1,414.5h1.25v1.25h-1.25zM104.5,408.9h1.25v1.25h-1.25zM110.2,420.0h1.25v1.25h-1.25zM113.3,407.2h1.25v1.25h-1.25zM115.3,410.7h1.25v1.25h-1.25zM109.7,401.6h1.25v1.25h-1.25zM107.8,401.4h1.25v1.25h-1.25zM110.6,404.0h1.25v1.25h-1.25zM109.5,420.7h1.25v1.25h-1.25zM113.5,402.0h1.25v1.25h-1.25zM113.1,411.7h1.25v1.25h-1.25zM110.8,421.6h1.25v1.25h-1.25zM109.9,416.0h1.25v1.25h-1.25zM110.5,411.3h1.25v1.25h-1.25zM113.9,403.5h1.25v1.25h-1.25zM112.1,404.4h1.25v1.25h-1.25zM114.7,407.7h1.25v1.25h-1.25zM108.5,420.2h1.25v1.25h-1.25zM110.2,421.3h1.25v1.25h-1.25zM108.4,412.9h1.25v1.25h-1.25zM108.3,410.7h1.25v1.25h-1.25zM109.0,421.5h1.25v1.25h-1.25zM111.1,415.7h1.25v1.25h-1.25zM105.5,411.3h1.25v1.25h-1.25zM105.9,407.4h1.25v1.25h-1.25zM113.1,403.3h1.25v1.25h-1.25zM110.6,409.6h1.25v1.25h-1.25zM110.1,420.5h1.25v1.25h-1.25zM112.7,402.2h1.25v1.25h-1.25zM109.6,418.4h1.25v1.25h-1.25zM111.9,415.8h1.25v1.25h-1.25zM110.6,406.7h1.25v1.25h-1.25zM106.6,398.9h1.25v1.25h-1.25zM194.2,378.0h1.25v1.25h-1.25zM193.3,377.9h1.25v1.25h-1.25zM191.9,379.0h1.25v1.25h-1.25zM195.4,377.0h1.25v1.25h-1.25zM191.5,379.1h1.25v1.25h-1.25zM192.3,379.8h1.25v1.25h-1.25zM195.1,377.9h1.25v1.25h-1.25zM191.9,380.3h1.25v1.25h-1.25zM192.7,379.4h1.25v1.25h-1.25zM194.0,377.7h1.25v1.25h-1.25zM193.4,377.9h1.25v1.25h-1.25zM194.7,377.9h1.25v1.25h-1.25zM197.0,375.2h1.25v1.25h-1.25zM195.1,377.6h1.25v1.25h-1.25zM192.8,378.7h1.25v1.25h-1.25zM192.8,378.9h1.25v1.25h-1.25zM197.1,376.1h1.25v1.25h-1.25zM191.6,379.4h1.25v1.25h-1.25zM196.9,376.2h1.25v1.25h-1.25zM194.5,378.2h1.25v1.25h-1.25zM192.2,379.7h1.25v1.25h-1.25zM197.2,369.0h1.25v1.25h-1.25zM196.9,368.5h1.25v1.25h-1.25zM196.7,368.7h1.25v1.25h-1.25zM197.1,368.8h1.25v1.25h-1.25zM203.3,364.7h1.25v1.25h-1.25zM201.0,360.3h1.25v1.25h-1.25zM206.4,366.4h1.25v1.25h-1.25zM200.8,359.7h1.25v1.25h-1.25zM204.0,364.5h1.25v1.25h-1.25zM200.5,359.8h1.25v1.25h-1.25zM200.4,362.9h1.25v1.25h-1.25zM201.0,358.9h1.25v1.25h-1.25zM202.3,364.2h1.25v1.25h-1.25zM206.2,369.4h1.25v1.25h-1.25zM206.6,368.4h1.25v1.25h-1.25zM206.6,369.9h1.25v1.25h-1.25zM201.4,359.5h1.25v1.25h-1.25zM201.3,359.3h1.25v1.25h-1.25zM203.7,364.5h1.25v1.25h-1.25zM201.3,358.1h1.25v1.25h-1.25zM204.9,364.8h1.25v1.25h-1.25zM203.2,364.5h1.25v1.25h-1.25zM204.9,365.8h1.25v1.25h-1.25zM201.4,363.2h1.25v1.25h-1.25zM200.4,362.8h1.25v1.25h-1.25zM200.7,356.7h1.25v1.25h-1.25zM200.7,357.7h1.25v1.25h-1.25zM202.2,364.3h1.25v1.25h-1.25zM205.8,367.5h1.25v1.25h-1.25zM205.0,365.9h1.25v1.25h-1.25zM201.3,356.8h1.25v1.25h-1.25zM205.8,365.4h1.25v1.25h-1.25zM203.5,363.6h1.25v1.25h-1.25zM200.9,363.0h1.25v1.25h-1.25zM202.8,363.4h1.25v1.25h-1.25zM205.4,364.8h1.25v1.25h-1.25zM206.3,368.3h1.25v1.25h-1.25zM205.6,369.2h1.25v1.25h-1.25zM204.8,366.1h1.25v1.25h-1.25zM202.8,363.9h1.25v1.25h-1.25zM202.9,363.8h1.25v1.25h-1.25zM207.0,369.3h1.25v1.25h-1.25zM198.6,363.3h1.25v1.25h-1.25zM200.8,364.9h1.25v1.25h-1.25zM205.2,365.8h1.25v1.25h-1.25zM200.5,363.6h1.25v1.25h-1.25zM201.8,363.7h1.25v1.25h-1.25zM200.1,361.3h1.25v1.25h-1.25zM204.5,365.5h1.25v1.25h-1.25zM205.6,369.1h1.25v1.25h-1.25zM206.1,367.9h1.25v1.25h-1.25zM200.7,359.3h1.25v1.25h-1.25zM205.8,369.7h1.25v1.25h-1.25zM203.2,364.4h1.25v1.25h-1.25zM201.6,363.3h1.25v1.25h-1.25zM204.6,366.6h1.25v1.25h-1.25zM200.5,360.3h1.25v1.25h-1.25zM199.8,359.8h1.25v1.25h-1.25zM201.3,363.6h1.25v1.25h-1.25zM207.8,370.6h1.25v1.25h-1.25zM202.3,357.1h1.25v1.25h-1.25zM204.4,366.2h1.25v1.25h-1.25zM205.9,366.7h1.25v1.25h-1.25zM200.2,364.1h1.25v1.25h-1.25zM200.7,361.0h1.25v1.25h-1.25zM202.9,363.8h1.25v1.25h-1.25zM204.9,364.4h1.25v1.25h-1.25zM203.8,365.2h1.25v1.25h-1.25zM200.4,359.7h1.25v1.25h-1.25zM204.7,366.0h1.25v1.25h-1.25zM198.7,362.8h1.25v1.25h-1.25zM202.4,364.8h1.25v1.25h-1.25zM206.8,367.2h1.25v1.25h-1.25zM207.4,370.0h1.25v1.25h-1.25zM200.9,363.8h1.25v1.25h-1.25zM200.2,363.0h1.25v1.25h-1.25zM204.7,366.9h1.25v1.25h-1.25zM203.7,364.1h1.25v1.25h-1.25zM200.5,355.8h1.25v1.25h-1.25zM201.7,358.2h1.25v1.25h-1.25zM202.9,356.7h1.25v1.25h-1.25zM200.3,355.8h1.25v1.25h-1.25zM202.3,357.6h1.25v1.25h-1.25zM198.0,356.2h1.25v1.25h-1.25zM202.0,356.6h1.25v1.25h-1.25zM202.3,358.0h1.25v1.25h-1.25zM203.2,356.9h1.25v1.25h-1.25zM201.8,356.3h1.25v1.25h-1.25zM215.7,370.6h1.25v1.25h-1.25zM216.7,365.1h1.25v1.25h-1.25zM212.7,364.7h1.25v1.25h-1.25zM217.0,363.5h1.25v1.25h-1.25zM212.7,371.0h1.25v1.25h-1.25zM212.0,366.6h1.25v1.25h-1.25zM211.3,367.2h1.25v1.25h-1.25zM216.2,369.4h1.25v1.25h-1.25zM213.2,367.9h1.25v1.25h-1.25zM217.2,368.2h1.25v1.25h-1.25zM209.6,365.8h1.25v1.25h-1.25zM217.2,370.8h1.25v1.25h-1.25zM214.7,368.8h1.25v1.25h-1.25zM209.6,368.5h1.25v1.25h-1.25zM215.3,362.4h1.25v1.25h-1.25zM213.9,370.6h1.25v1.25h-1.25zM212.1,370.3h1.25v1.25h-1.25zM217.9,365.2h1.25v1.25h-1.25zM209.5,366.4h1.25v1.25h-1.25zM212.3,368.1h1.25v1.25h-1.25zM213.8,368.5h1.25v1.25h-1.25zM217.7,366.5h1.25v1.25h-1.25zM214.6,368.3h1.25v1.25h-1.25zM213.7,368.3h1.25v1.25h-1.25zM214.0,371.6h1.25v1.25h-1.25zM210.6,367.2h1.25v1.25h-1.25zM216.0,363.9h1.25v1.25h-1.25zM213.1,363.1h1.25v1.25h-1.25zM216.7,364.1h1.25v1.25h-1.25zM213.1,366.2h1.25v1.25h-1.25zM210.7,364.0h1.25v1.25h-1.25zM216.1,364.2h1.25v1.25h-1.25zM214.6,371.0h1.25v1.25h-1.25zM211.7,366.5h1.25v1.25h-1.25zM216.2,370.2h1.25v1.25h-1.25zM210.8,363.6h1.25v1.25h-1.25zM215.1,370.1h1.25v1.25h-1.25zM216.7,364.6h1.25v1.25h-1.25zM214.3,364.7h1.25v1.25h-1.25zM215.7,368.6h1.25v1.25h-1.25zM216.8,370.8h1.25v1.25h-1.25zM212.6,368.4h1.25v1.25h-1.25zM216.8,365.9h1.25v1.25h-1.25zM212.9,363.4h1.25v1.25h-1.25zM212.3,365.4h1.25v1.25h-1.25zM217.3,369.8h1.25v1.25h-1.25zM211.7,370.3h1.25v1.25h-1.25zM211.2,370.8h1.25v1.25h-1.25zM211.3,363.9h1.25v1.25h-1.25zM217.0,363.4h1.25v1.25h-1.25zM208.6,368.8h1.25v1.25h-1.25zM214.2,371.1h1.25v1.25h-1.25zM213.1,367.7h1.25v1.25h-1.25zM208.6,366.1h1.25v1.25h-1.25zM216.7,371.0h1.25v1.25h-1.25zM210.8,367.3h1.25v1.25h-1.25zM216.9,370.6h1.25v1.25h-1.25zM216.4,363.6h1.25v1.25h-1.25zM216.0,370.8h1.25v1.25h-1.25zM216.0,365.3h1.25v1.25h-1.25zM216.0,363.3h1.25v1.25h-1.25zM209.8,366.1h1.25v1.25h-1.25zM216.7,365.3h1.25v1.25h-1.25zM215.9,370.0h1.25v1.25h-1.25zM215.5,364.0h1.25v1.25h-1.25zM216.9,365.6h1.25v1.25h-1.25zM211.9,368.2h1.25v1.25h-1.25zM212.0,370.0h1.25v1.25h-1.25zM213.7,368.2h1.25v1.25h-1.25zM212.4,363.8h1.25v1.25h-1.25zM214.7,368.2h1.25v1.25h-1.25zM212.9,371.3h1.25v1.25h-1.25zM215.2,370.3h1.25v1.25h-1.25zM213.5,365.9h1.25v1.25h-1.25zM216.7,365.3h1.25v1.25h-1.25zM208.2,365.2h1.25v1.25h-1.25zM213.0,367.8h1.25v1.25h-1.25zM215.7,364.3h1.25v1.25h-1.25zM211.8,367.0h1.25v1.25h-1.25zM211.6,367.1h1.25v1.25h-1.25zM216.6,370.6h1.25v1.25h-1.25zM211.8,368.8h1.25v1.25h-1.25zM216.2,363.5h1.25v1.25h-1.25zM210.8,364.0h1.25v1.25h-1.25zM217.4,365.9h1.25v1.25h-1.25zM216.3,370.0h1.25v1.25h-1.25zM216.2,368.3h1.25v1.25h-1.25zM216.7,365.9h1.25v1.25h-1.25zM214.6,370.5h1.25v1.25h-1.25zM215.7,369.7h1.25v1.25h-1.25zM217.6,369.8h1.25v1.25h-1.25zM216.4,363.7h1.25v1.25h-1.25zM210.2,365.8h1.25v1.25h-1.25zM209.4,366.4h1.25v1.25h-1.25zM211.3,368.0h1.25v1.25h-1.25zM216.0,363.6h1.25v1.25h-1.25zM211.7,367.3h1.25v1.25h-1.25zM218.0,370.2h1.25v1.25h-1.25zM215.5,364.4h1.25v1.25h-1.25zM212.6,365.1h1.25v1.25h-1.25zM214.7,368.8h1.25v1.25h-1.25zM216.6,370.0h1.25v1.25h-1.25zM216.9,364.6h1.25v1.25h-1.25zM218.4,370.0h1.25v1.25h-1.25zM215.7,370.5h1.25v1.25h-1.25zM211.2,363.5h1.25v1.25h-1.25zM211.0,366.9h1.25v1.25h-1.25zM210.9,363.3h1.25v1.25h-1.25zM214.9,362.7h1.25v1.25h-1.25zM213.4,367.4h1.25v1.25h-1.25zM212.0,365.5h1.25v1.25h-1.25zM216.7,363.1h1.25v1.25h-1.25zM216.6,369.6h1.25v1.25h-1.25zM217.0,363.2h1.25v1.25h-1.25zM214.7,364.3h1.25v1.25h-1.25zM214.6,369.6h1.25v1.25h-1.25zM212.3,367.2h1.25v1.25h-1.25zM215.6,369.3h1.25v1.25h-1.25zM216.8,368.1h1.25v1.25h-1.25zM210.1,367.4h1.25v1.25h-1.25zM213.6,368.2h1.25v1.25h-1.25zM216.0,369.6h1.25v1.25h-1.25zM210.9,365.7h1.25v1.25h-1.25zM216.0,364.4h1.25v1.25h-1.25zM216.8,364.5h1.25v1.25h-1.25zM213.9,364.0h1.25v1.25h-1.25zM210.2,368.6h1.25v1.25h-1.25zM216.7,365.2h1.25v1.25h-1.25zM212.1,368.7h1.25v1.25h-1.25zM210.6,364.2h1.25v1.25h-1.25zM217.5,369.9h1.25v1.25h-1.25zM213.7,368.3h1.25v1.25h-1.25zM213.1,365.2h1.25v1.25h-1.25zM216.1,369.4h1.25v1.25h-1.25zM213.8,371.0h1.25v1.25h-1.25zM208.9,366.1h1.25v1.25h-1.25zM216.4,369.7h1.25v1.25h-1.25zM211.9,371.1h1.25v1.25h-1.25zM208.5,365.4h1.25v1.25h-1.25zM211.0,371.3h1.25v1.25h-1.25zM210.3,367.1h1.25v1.25h-1.25zM215.0,369.7h1.25v1.25h-1.25zM217.5,367.0h1.25v1.25h-1.25zM210.7,363.5h1.25v1.25h-1.25zM214.3,371.8h1.25v1.25h-1.25zM211.9,367.8h1.25v1.25h-1.25zM217.4,371.3h1.25v1.25h-1.25zM212.9,366.1h1.25v1.25h-1.25zM218.7,349.5h1.25v1.25h-1.25zM214.6,351.7h1.25v1.25h-1.25zM217.0,347.5h1.25v1.25h-1.25zM211.8,352.5h1.25v1.25h-1.25zM214.0,346.1h1.25v1.25h-1.25zM213.5,354.9h1.25v1.25h-1.25zM213.8,353.0h1.25v1.25h-1.25zM215.3,350.6h1.25v1.25h-1.25zM220.6,344.9h1.25v1.25h-1.25zM210.8,349.1h1.25v1.25h-1.25zM220.8,345.8h1.25v1.25h-1.25zM215.4,352.7h1.25v1.25h-1.25zM221.2,348.0h1.25v1.25h-1.25zM212.0,352.4h1.25v1.25h-1.25zM216.0,344.5h1.25v1.25h-1.25zM220.4,349.6h1.25v1.25h-1.25zM218.7,344.0h1.25v1.25h-1.25zM215.0,353.7h1.25v1.25h-1.25zM220.2,349.1h1.25v1.25h-1.25zM220.7,344.9h1.25v1.25h-1.25zM212.8,347.7h1.25v1.25h-1.25zM220.2,350.9h1.25v1.25h-1.25zM209.8,350.3h1.25v1.25h-1.25zM219.0,348.2h1.25v1.25h-1.25zM212.5,350.8h1.25v1.25h-1.25zM215.7,354.0h1.25v1.25h-1.25zM214.4,355.1h1.25v1.25h-1.25zM220.2,348.6h1.25v1.25h-1.25zM222.0,348.7h1.25v1.25h-1.25zM209.6,353.1h1.25v1.25h-1.25zM210.9,351.9h1.25v1.25h-1.25zM217.7,346.1h1.25v1.25h-1.25zM215.6,344.1h1.25v1.25h-1.25zM220.8,348.5h1.25v1.25h-1.25zM217.2,353.6h1.25v1.25h-1.25zM219.0,352.4h1.25v1.25h-1.25zM216.1,345.2h1.25v1.25h-1.25zM212.9,351.1h1.25v1.25h-1.25zM217.9,348.1h1.25v1.25h-1.25zM218.4,347.0h1.25v1.25h-1.25zM210.3,349.2h1.25v1.25h-1.25zM212.8,349.0h1.25v1.25h-1.25zM213.8,354.6h1.25v1.25h-1.25zM215.2,345.5h1.25v1.25h-1.25zM216.8,349.7h1.25v1.25h-1.25zM220.1,349.1h1.25v1.25h-1.25zM211.7,351.3h1.25v1.25h-1.25zM213.1,351.4h1.25v1.25h-1.25zM212.3,351.0h1.25v1.25h-1.25zM212.3,349.6h1.25v1.25h-1.25zM214.5,349.2h1.25v1.25h-1.25zM217.9,347.0h1.25v1.25h-1.25zM211.7,353.7h1.25v1.25h-1.25zM211.7,350.1h1.25v1.25h-1.25zM213.7,346.2h1.25v1.25h-1.25zM210.9,354.0h1.25v1.25h-1.25zM216.5,343.8h1.25v1.25h-1.25zM212.7,355.0h1.25v1.25h-1.25zM213.2,350.9h1.25v1.25h-1.25zM210.0,354.7h1.25v1.25h-1.25zM212.3,350.9h1.25v1.25h-1.25zM214.1,355.4h1.25v1.25h-1.25zM219.2,351.8h1.25v1.25h-1.25zM215.8,354.6h1.25v1.25h-1.25zM220.0,345.0h1.25v1.25h-1.25zM209.8,348.1h1.25v1.25h-1.25zM211.4,352.2h1.25v1.25h-1.25zM211.6,352.0h1.25v1.25h-1.25zM214.4,353.2h1.25v1.25h-1.25zM213.1,352.0h1.25v1.25h-1.25zM212.7,348.5h1.25v1.25h-1.25zM219.9,348.5h1.25v1.25h-1.25zM211.7,350.4h1.25v1.25h-1.25zM211.8,351.0h1.25v1.25h-1.25zM213.2,347.1h1.25v1.25h-1.25zM214.1,345.9h1.25v1.25h-1.25zM213.0,349.0h1.25v1.25h-1.25zM220.4,345.2h1.25v1.25h-1.25zM217.3,348.2h1.25v1.25h-1.25zM221.1,345.0h1.25v1.25h-1.25zM219.3,348.7h1.25v1.25h-1.25zM220.7,348.0h1.25v1.25h-1.25zM211.1,351.5h1.25v1.25h-1.25zM216.6,344.2h1.25v1.25h-1.25zM219.7,349.2h1.25v1.25h-1.25zM221.1,348.2h1.25v1.25h-1.25zM219.6,349.7h1.25v1.25h-1.25zM220.7,344.9h1.25v1.25h-1.25zM210.2,349.2h1.25v1.25h-1.25zM212.8,350.9h1.25v1.25h-1.25zM214.9,355.1h1.25v1.25h-1.25zM218.7,351.6h1.25v1.25h-1.25zM212.6,349.3h1.25v1.25h-1.25zM210.2,350.2h1.25v1.25h-1.25zM215.1,350.7h1.25v1.25h-1.25zM212.9,350.6h1.25v1.25h-1.25zM220.0,349.5h1.25v1.25h-1.25zM216.0,355.0h1.25v1.25h-1.25zM209.5,349.9h1.25v1.25h-1.25zM213.5,353.6h1.25v1.25h-1.25zM218.4,347.7h1.25v1.25h-1.25zM217.1,349.3h1.25v1.25h-1.25zM214.9,351.5h1.25v1.25h-1.25zM214.4,345.9h1.25v1.25h-1.25zM211.7,350.8h1.25v1.25h-1.25zM210.6,350.7h1.25v1.25h-1.25zM214.6,346.2h1.25v1.25h-1.25zM212.3,355.4h1.25v1.25h-1.25zM211.5,353.4h1.25v1.25h-1.25zM210.4,352.3h1.25v1.25h-1.25zM212.2,355.6h1.25v1.25h-1.25zM212.1,351.5h1.25v1.25h-1.25zM217.6,346.8h1.25v1.25h-1.25zM213.8,347.2h1.25v1.25h-1.25zM215.0,344.2h1.25v1.25h-1.25zM212.8,350.9h1.25v1.25h-1.25zM215.5,344.8h1.25v1.25h-1.25zM211.2,351.9h1.25v1.25h-1.25zM221.1,348.4h1.25v1.25h-1.25zM216.0,344.6h1.25v1.25h-1.25zM217.2,353.6h1.25v1.25h-1.25zM218.1,352.5h1.25v1.25h-1.25zM220.0,353.0h1.25v1.25h-1.25zM217.3,342.4h1.25v1.25h-1.25zM220.2,351.2h1.25v1.25h-1.25zM214.2,352.6h1.25v1.25h-1.25zM216.5,349.9h1.25v1.25h-1.25zM221.3,347.6h1.25v1.25h-1.25zM218.0,346.0h1.25v1.25h-1.25zM219.9,349.4h1.25v1.25h-1.25zM212.8,350.8h1.25v1.25h-1.25zM212.8,349.5h1.25v1.25h-1.25zM216.3,352.2h1.25v1.25h-1.25zM216.7,343.8h1.25v1.25h-1.25zM214.2,352.6h1.25v1.25h-1.25zM212.7,346.5h1.25v1.25h-1.25zM211.7,352.1h1.25v1.25h-1.25zM214.5,354.9h1.25v1.25h-1.25zM217.9,344.6h1.25v1.25h-1.25zM216.0,350.3h1.25v1.25h-1.25zM218.1,344.7h1.25v1.25h-1.25zM214.9,353.6h1.25v1.25h-1.25zM211.5,350.0h1.25v1.25h-1.25zM214.2,354.8h1.25v1.25h-1.25zM213.6,350.4h1.25v1.25h-1.25zM220.8,345.6h1.25v1.25h-1.25zM220.3,349.5h1.25v1.25h-1.25zM217.8,349.6h1.25v1.25h-1.25zM214.9,349.1h1.25v1.25h-1.25zM216.7,350.2h1.25v1.25h-1.25zM212.7,355.5h1.25v1.25h-1.25zM221.5,345.1h1.25v1.25h-1.25zM215.5,350.3h1.25v1.25h-1.25zM209.5,348.4h1.25v1.25h-1.25zM214.2,351.3h1.25v1.25h-1.25zM211.1,349.9h1.25v1.25h-1.25zM219.6,348.4h1.25v1.25h-1.25zM211.2,353.6h1.25v1.25h-1.25zM215.6,353.4h1.25v1.25h-1.25zM211.4,349.0h1.25v1.25h-1.25zM216.9,350.2h1.25v1.25h-1.25zM211.2,354.3h1.25v1.25h-1.25zM212.6,352.5h1.25v1.25h-1.25zM216.2,343.8h1.25v1.25h-1.25zM213.2,347.3h1.25v1.25h-1.25zM216.6,345.8h1.25v1.25h-1.25zM214.9,354.0h1.25v1.25h-1.25zM220.9,348.3h1.25v1.25h-1.25zM211.8,352.6h1.25v1.25h-1.25zM212.3,351.2h1.25v1.25h-1.25zM215.2,353.0h1.25v1.25h-1.25zM214.9,350.4h1.25v1.25h-1.25zM211.4,352.0h1.25v1.25h-1.25zM218.8,352.6h1.25v1.25h-1.25zM218.2,351.7h1.25v1.25h-1.25zM221.2,351.8h1.25v1.25h-1.25zM220.7,351.2h1.25v1.25h-1.25zM222.1,354.3h1.25v1.25h-1.25zM221.8,353.9h1.25v1.25h-1.25zM221.2,351.5h1.25v1.25h-1.25zM221.5,350.3h1.25v1.25h-1.25zM221.2,350.2h1.25v1.25h-1.25zM221.7,351.3h1.25v1.25h-1.25zM221.2,352.4h1.25v1.25h-1.25zM221.8,352.6h1.25v1.25h-1.25zM221.5,363.6h1.25v1.25h-1.25zM223.4,365.1h1.25v1.25h-1.25zM222.5,359.3h1.25v1.25h-1.25zM229.4,361.6h1.25v1.25h-1.25zM226.9,358.6h1.25v1.25h-1.25zM228.4,364.8h1.25v1.25h-1.25zM222.3,359.1h1.25v1.25h-1.25zM227.3,364.7h1.25v1.25h-1.25zM226.8,360.3h1.25v1.25h-1.25zM228.9,365.1h1.25v1.25h-1.25zM230.4,362.9h1.25v1.25h-1.25zM229.9,361.7h1.25v1.25h-1.25zM230.2,363.5h1.25v1.25h-1.25zM231.5,362.9h1.25v1.25h-1.25zM231.0,363.4h1.25v1.25h-1.25zM227.3,362.1h1.25v1.25h-1.25zM230.2,361.5h1.25v1.25h-1.25zM231.1,356.2h1.25v1.25h-1.25zM234.9,360.0h1.25v1.25h-1.25zM231.6,361.2h1.25v1.25h-1.25zM222.9,360.7h1.25v1.25h-1.25zM224.3,362.8h1.25v1.25h-1.25zM221.3,363.1h1.25v1.25h-1.25zM232.6,357.1h1.25v1.25h-1.25zM234.9,361.4h1.25v1.25h-1.25zM232.1,358.6h1.25v1.25h-1.25zM228.4,356.4h1.25v1.25h-1.25zM233.8,360.0h1.25v1.25h-1.25zM224.1,358.5h1.25v1.25h-1.25zM235.4,361.0h1.25v1.25h-1.25zM226.0,365.2h1.25v1.25h-1.25zM226.4,358.3h1.25v1.25h-1.25zM233.0,359.3h1.25v1.25h-1.25zM234.3,363.0h1.25v1.25h-1.25zM227.0,357.1h1.25v1.25h-1.25zM223.7,363.1h1.25v1.25h-1.25zM221.6,362.9h1.25v1.25h-1.25zM223.7,361.6h1.25v1.25h-1.25zM229.8,360.1h1.25v1.25h-1.25zM223.5,363.6h1.25v1.25h-1.25zM232.4,360.9h1.25v1.25h-1.25zM227.8,362.6h1.25v1.25h-1.25zM226.7,365.0h1.25v1.25h-1.25zM225.2,360.2h1.25v1.25h-1.25zM225.2,362.5h1.25v1.25h-1.25zM233.9,361.0h1.25v1.25h-1.25zM227.2,356.4h1.25v1.25h-1.25zM234.5,362.7h1.25v1.25h-1.25zM231.1,359.4h1.25v1.25h-1.25zM233.4,363.4h1.25v1.25h-1.25zM230.8,361.7h1.25v1.25h-1.25zM228.8,363.7h1.25v1.25h-1.25zM231.7,360.8h1.25v1.25h-1.25zM223.9,362.0h1.25v1.25h-1.25zM230.3,363.7h1.25v1.25h-1.25zM227.2,361.9h1.25v1.25h-1.25zM233.2,359.0h1.25v1.25h-1.25zM231.7,361.9h1.25v1.25h-1.25zM223.8,361.6h1.25v1.25h-1.25zM223.5,361.9h1.25v1.25h-1.25zM229.4,359.1h1.25v1.25h-1.25zM230.9,362.4h1.25v1.25h-1.25zM223.0,361.0h1.25v1.25h-1.25zM231.1,359.2h1.25v1.25h-1.25zM228.6,365.6h1.25v1.25h-1.25zM228.9,363.1h1.25v1.25h-1.25zM227.0,362.1h1.25v1.25h-1.25zM221.5,362.7h1.25v1.25h-1.25zM231.3,362.9h1.25v1.25h-1.25zM223.1,361.0h1.25v1.25h-1.25zM234.8,359.9h1.25v1.25h-1.25zM230.5,359.4h1.25v1.25h-1.25zM227.1,364.4h1.25v1.25h-1.25zM232.3,360.1h1.25v1.25h-1.25zM225.2,359.4h1.25v1.25h-1.25zM221.8,363.0h1.25v1.25h-1.25zM223.6,361.2h1.25v1.25h-1.25zM232.7,361.3h1.25v1.25h-1.25zM224.0,358.2h1.25v1.25h-1.25zM230.4,359.6h1.25v1.25h-1.25zM226.1,365.2h1.25v1.25h-1.25zM227.5,356.5h1.25v1.25h-1.25zM223.2,362.9h1.25v1.25h-1.25zM234.1,361.1h1.25v1.25h-1.25zM231.2,360.4h1.25v1.25h-1.25zM227.7,364.5h1.25v1.25h-1.25zM228.2,356.7h1.25v1.25h-1.25zM227.6,365.1h1.25v1.25h-1.25zM229.0,356.5h1.25v1.25h-1.25zM235.2,362.3h1.25v1.25h-1.25zM225.5,358.3h1.25v1.25h-1.25zM234.2,361.4h1.25v1.25h-1.25zM223.7,362.8h1.25v1.25h-1.25zM223.7,361.7h1.25v1.25h-1.25zM232.0,361.3h1.25v1.25h-1.25zM224.0,360.7h1.25v1.25h-1.25zM223.1,358.0h1.25v1.25h-1.25zM221.3,362.8h1.25v1.25h-1.25zM234.4,360.9h1.25v1.25h-1.25zM224.4,362.5h1.25v1.25h-1.25zM221.2,362.3h1.25v1.25h-1.25zM231.2,361.0h1.25v1.25h-1.25zM229.5,362.1h1.25v1.25h-1.25zM234.0,359.8h1.25v1.25h-1.25zM231.2,361.5h1.25v1.25h-1.25zM235.2,361.2h1.25v1.25h-1.25zM229.9,361.5h1.25v1.25h-1.25zM231.2,361.2h1.25v1.25h-1.25zM225.0,362.8h1.25v1.25h-1.25zM226.3,358.6h1.25v1.25h-1.25zM230.7,359.8h1.25v1.25h-1.25zM227.4,361.7h1.25v1.25h-1.25zM230.8,362.7h1.25v1.25h-1.25zM222.0,363.8h1.25v1.25h-1.25zM224.7,363.3h1.25v1.25h-1.25zM232.4,356.5h1.25v1.25h-1.25zM230.7,361.2h1.25v1.25h-1.25zM231.1,362.2h1.25v1.25h-1.25zM227.3,364.8h1.25v1.25h-1.25zM227.7,356.5h1.25v1.25h-1.25zM234.9,360.3h1.25v1.25h-1.25zM226.6,358.4h1.25v1.25h-1.25zM230.7,362.4h1.25v1.25h-1.25zM226.4,362.6h1.25v1.25h-1.25zM227.5,356.4h1.25v1.25h-1.25zM227.1,356.7h1.25v1.25h-1.25zM230.3,358.2h1.25v1.25h-1.25zM233.0,363.0h1.25v1.25h-1.25zM234.3,359.7h1.25v1.25h-1.25zM230.1,361.5h1.25v1.25h-1.25zM224.5,360.9h1.25v1.25h-1.25zM231.7,360.9h1.25v1.25h-1.25zM221.4,362.9h1.25v1.25h-1.25zM224.8,364.0h1.25v1.25h-1.25zM226.6,364.5h1.25v1.25h-1.25zM222.1,364.1h1.25v1.25h-1.25zM227.5,365.3h1.25v1.25h-1.25zM221.4,362.9h1.25v1.25h-1.25zM226.5,364.7h1.25v1.25h-1.25zM226.8,355.6h1.25v1.25h-1.25zM226.8,359.9h1.25v1.25h-1.25zM233.7,362.9h1.25v1.25h-1.25zM225.4,360.8h1.25v1.25h-1.25zM220.2,362.2h1.25v1.25h-1.25zM233.0,358.4h1.25v1.25h-1.25zM226.8,359.2h1.25v1.25h-1.25zM221.9,364.5h1.25v1.25h-1.25zM224.8,363.8h1.25v1.25h-1.25zM229.7,362.3h1.25v1.25h-1.25zM230.3,364.8h1.25v1.25h-1.25zM229.7,364.0h1.25v1.25h-1.25zM222.5,364.4h1.25v1.25h-1.25zM224.0,359.6h1.25v1.25h-1.25zM223.1,360.6h1.25v1.25h-1.25zM235.1,364.1h1.25v1.25h-1.25zM223.3,359.9h1.25v1.25h-1.25zM223.1,365.3h1.25v1.25h-1.25zM229.7,361.1h1.25v1.25h-1.25zM223.8,360.7h1.25v1.25h-1.25zM228.6,364.8h1.25v1.25h-1.25zM230.9,362.3h1.25v1.25h-1.25zM230.5,363.7h1.25v1.25h-1.25zM220.3,363.9h1.25v1.25h-1.25zM227.2,362.9h1.25v1.25h-1.25zM234.2,362.3h1.25v1.25h-1.25zM220.8,363.2h1.25v1.25h-1.25zM232.9,359.2h1.25v1.25h-1.25zM231.5,363.6h1.25v1.25h-1.25zM231.1,361.5h1.25v1.25h-1.25zM224.9,359.8h1.25v1.25h-1.25zM233.6,362.7h1.25v1.25h-1.25zM223.5,365.5h1.25v1.25h-1.25zM230.6,361.2h1.25v1.25h-1.25zM231.0,362.0h1.25v1.25h-1.25zM227.8,357.6h1.25v1.25h-1.25zM220.4,364.9h1.25v1.25h-1.25zM220.1,364.4h1.25v1.25h-1.25zM217.7,365.5h1.25v1.25h-1.25zM222.3,363.3h1.25v1.25h-1.25zM218.7,366.0h1.25v1.25h-1.25zM222.6,363.8h1.25v1.25h-1.25zM218.3,365.2h1.25v1.25h-1.25zM217.7,365.6h1.25v1.25h-1.25zM219.8,365.0h1.25v1.25h-1.25zM218.2,366.0h1.25v1.25h-1.25zM224.8,335.6h1.25v1.25h-1.25zM224.7,337.3h1.25v1.25h-1.25zM224.8,335.6h1.25v1.25h-1.25zM224.2,336.9h1.25v1.25h-1.25zM225.1,335.5h1.25v1.25h-1.25zM225.3,334.8h1.25v1.25h-1.25zM224.8,337.2h1.25v1.25h-1.25zM224.7,335.9h1.25v1.25h-1.25zM245.8,325.8h1.25v1.25h-1.25zM250.8,324.1h1.25v1.25h-1.25zM248.5,323.8h1.25v1.25h-1.25zM251.3,321.7h1.25v1.25h-1.25zM243.9,327.1h1.25v1.25h-1.25zM245.5,328.5h1.25v1.25h-1.25zM249.0,324.4h1.25v1.25h-1.25zM247.3,325.8h1.25v1.25h-1.25zM245.6,326.2h1.25v1.25h-1.25zM247.5,325.9h1.25v1.25h-1.25zM244.7,328.9h1.25v1.25h-1.25zM251.7,323.4h1.25v1.25h-1.25zM253.2,323.8h1.25v1.25h-1.25zM244.6,331.0h1.25v1.25h-1.25zM252.6,322.4h1.25v1.25h-1.25zM247.6,326.3h1.25v1.25h-1.25zM249.8,324.3h1.25v1.25h-1.25zM246.5,325.2h1.25v1.25h-1.25zM248.7,324.3h1.25v1.25h-1.25zM246.0,324.4h1.25v1.25h-1.25zM249.7,323.7h1.25v1.25h-1.25zM247.8,323.1h1.25v1.25h-1.25zM250.6,323.0h1.25v1.25h-1.25zM245.6,327.6h1.25v1.25h-1.25zM249.6,324.1h1.25v1.25h-1.25zM247.0,325.0h1.25v1.25h-1.25zM249.4,322.3h1.25v1.25h-1.25zM247.3,323.9h1.25v1.25h-1.25zM251.8,324.0h1.25v1.25h-1.25zM247.2,327.7h1.25v1.25h-1.25zM244.5,328.9h1.25v1.25h-1.25zM245.1,330.2h1.25v1.25h-1.25zM248.9,324.9h1.25v1.25h-1.25zM246.3,329.3h1.25v1.25h-1.25zM246.5,327.0h1.25v1.25h-1.25zM250.4,324.1h1.25v1.25h-1.25zM249.6,323.3h1.25v1.25h-1.25zM246.9,324.5h1.25v1.25h-1.25zM246.8,328.4h1.25v1.25h-1.25zM245.2,329.4h1.25v1.25h-1.25zM247.0,328.5h1.25v1.25h-1.25zM248.5,326.0h1.25v1.25h-1.25zM249.2,322.1h1.25v1.25h-1.25zM246.3,324.4h1.25v1.25h-1.25zM247.6,325.0h1.25v1.25h-1.25zM252.1,323.9h1.25v1.25h-1.25zM245.7,328.6h1.25v1.25h-1.25zM247.9,325.9h1.25v1.25h-1.25zM248.9,322.3h1.25v1.25h-1.25zM247.5,324.5h1.25v1.25h-1.25zM247.9,326.4h1.25v1.25h-1.25zM246.7,327.1h1.25v1.25h-1.25zM246.8,328.5h1.25v1.25h-1.25zM252.3,323.2h1.25v1.25h-1.25zM246.4,329.0h1.25v1.25h-1.25zM243.7,329.1h1.25v1.25h-1.25zM248.7,324.1h1.25v1.25h-1.25zM249.4,324.2h1.25v1.25h-1.25zM243.9,329.8h1.25v1.25h-1.25zM246.8,324.8h1.25v1.25h-1.25zM244.4,330.4h1.25v1.25h-1.25zM252.7,323.5h1.25v1.25h-1.25zM248.9,323.4h1.25v1.25h-1.25zM248.2,324.7h1.25v1.25h-1.25zM245.2,327.4h1.25v1.25h-1.25zM245.5,328.6h1.25v1.25h-1.25zM249.1,323.1h1.25v1.25h-1.25zM245.7,326.5h1.25v1.25h-1.25zM250.9,323.6h1.25v1.25h-1.25zM246.2,324.8h1.25v1.25h-1.25zM248.4,323.6h1.25v1.25h-1.25zM250.5,324.0h1.25v1.25h-1.25zM244.2,330.7h1.25v1.25h-1.25zM252.8,324.5h1.25v1.25h-1.25zM250.6,322.4h1.25v1.25h-1.25zM251.9,322.4h1.25v1.25h-1.25zM244.5,330.1h1.25v1.25h-1.25zM252.7,324.9h1.25v1.25h-1.25zM243.9,327.3h1.25v1.25h-1.25zM243.0,329.5h1.25v1.25h-1.25zM249.0,323.5h1.25v1.25h-1.25zM250.2,322.8h1.25v1.25h-1.25zM244.0,328.8h1.25v1.25h-1.25zM244.5,330.8h1.25v1.25h-1.25zM246.8,325.5h1.25v1.25h-1.25zM248.2,322.7h1.25v1.25h-1.25zM245.1,327.4h1.25v1.25h-1.25zM253.7,322.4h1.25v1.25h-1.25zM249.2,324.2h1.25v1.25h-1.25zM249.1,322.8h1.25v1.25h-1.25zM249.9,325.3h1.25v1.25h-1.25zM244.0,330.6h1.25v1.25h-1.25zM245.6,329.7h1.25v1.25h-1.25zM247.5,326.1h1.25v1.25h-1.25zM253.4,328.6h1.25v1.25h-1.25zM252.5,327.2h1.25v1.25h-1.25zM252.7,327.0h1.25v1.25h-1.25zM253.7,327.2h1.25v1.25h-1.25zM255.4,324.4h1.25v1.25h-1.25zM254.3,326.8h1.25v1.25h-1.25zM254.0,326.4h1.25v1.25h-1.25zM253.4,326.6h1.25v1.25h-1.25zM252.7,327.9h1.25v1.25h-1.25zM252.4,328.3h1.25v1.25h-1.25zM255.6,323.6h1.25v1.25h-1.25zM254.6,324.3h1.25v1.25h-1.25zM254.8,326.1h1.25v1.25h-1.25zM255.5,325.0h1.25v1.25h-1.25zM252.0,329.4h1.25v1.25h-1.25zM254.4,326.1h1.25v1.25h-1.25zM253.7,327.7h1.25v1.25h-1.25zM254.8,323.3h1.25v1.25h-1.25zM244.3,331.2h1.25v1.25h-1.25zM247.4,330.8h1.25v1.25h-1.25zM249.3,330.7h1.25v1.25h-1.25zM249.1,330.3h1.25v1.25h-1.25zM244.3,331.5h1.25v1.25h-1.25zM249.3,329.7h1.25v1.25h-1.25zM245.9,327.7h1.25v1.25h-1.25zM248.4,331.8h1.25v1.25h-1.25zM245.2,330.4h1.25v1.25h-1.25zM249.6,331.8h1.25v1.25h-1.25zM245.7,332.3h1.25v1.25h-1.25zM248.1,331.4h1.25v1.25h-1.25zM248.6,334.1h1.25v1.25h-1.25zM247.8,333.8h1.25v1.25h-1.25zM249.1,334.2h1.25v1.25h-1.25zM244.8,331.1h1.25v1.25h-1.25zM245.4,333.2h1.25v1.25h-1.25zM247.9,328.8h1.25v1.25h-1.25zM248.7,328.5h1.25v1.25h-1.25zM248.1,334.5h1.25v1.25h-1.25zM245.7,333.9h1.25v1.25h-1.25zM248.3,333.9h1.25v1.25h-1.25zM245.4,334.3h1.25v1.25h-1.25zM247.5,331.4h1.25v1.25h-1.25zM243.5,332.3h1.25v1.25h-1.25zM248.3,332.3h1.25v1.25h-1.25zM249.7,334.3h1.25v1.25h-1.25zM247.4,334.7h1.25v1.25h-1.25zM248.9,330.6h1.25v1.25h-1.25zM248.7,333.3h1.25v1.25h-1.25zM249.7,334.6h1.25v1.25h-1.25zM249.7,330.5h1.25v1.25h-1.25zM246.3,327.9h1.25v1.25h-1.25zM245.0,332.1h1.25v1.25h-1.25zM250.1,331.9h1.25v1.25h-1.25zM248.4,331.4h1.25v1.25h-1.25zM249.4,330.3h1.25v1.25h-1.25zM248.4,333.1h1.25v1.25h-1.25zM247.8,333.6h1.25v1.25h-1.25zM247.2,333.4h1.25v1.25h-1.25zM247.1,330.6h1.25v1.25h-1.25zM249.1,333.7h1.25v1.25h-1.25zM244.9,331.7h1.25v1.25h-1.25zM248.6,327.1h1.25v1.25h-1.25zM248.5,334.6h1.25v1.25h-1.25zM245.5,327.4h1.25v1.25h-1.25zM248.8,333.1h1.25v1.25h-1.25zM246.3,328.5h1.25v1.25h-1.25zM249.3,330.8h1.25v1.25h-1.25zM248.4,331.6h1.25v1.25h-1.25zM247.3,329.8h1.25v1.25h-1.25zM245.2,326.9h1.25v1.25h-1.25zM243.7,329.7h1.25v1.25h-1.25zM246.0,329.8h1.25v1.25h-1.25zM245.2,331.7h1.25v1.25h-1.25zM247.7,330.4h1.25v1.25h-1.25zM244.6,330.9h1.25v1.25h-1.25zM246.2,333.9h1.25v1.25h-1.25zM248.0,331.5h1.25v1.25h-1.25zM245.8,327.5h1.25v1.25h-1.25zM245.8,337.5h1.25v1.25h-1.25zM246.5,338.1h1.25v1.25h-1.25zM245.5,338.3h1.25v1.25h-1.25zM246.3,338.1h1.25v1.25h-1.25zM245.4,337.5h1.25v1.25h-1.25zM249.9,336.4h1.25v1.25h-1.25zM250.0,337.3h1.25v1.25h-1.25zM250.1,337.9h1.25v1.25h-1.25zM249.8,336.6h1.25v1.25h-1.25zM249.9,337.5h1.25v1.25h-1.25zM240.1,348.6h1.25v1.25h-1.25zM236.1,331.8h1.25v1.25h-1.25zM241.7,350.9h1.25v1.25h-1.25zM241.3,350.0h1.25v1.25h-1.25zM241.7,351.7h1.25v1.25h-1.25zM236.7,331.7h1.25v1.25h-1.25zM235.2,340.8h1.25v1.25h-1.25zM242.5,351.4h1.25v1.25h-1.25zM236.4,332.2h1.25v1.25h-1.25zM234.7,336.0h1.25v1.25h-1.25zM239.5,346.9h1.25v1.25h-1.25zM238.4,344.5h1.25v1.25h-1.25zM238.0,345.1h1.25v1.25h-1.25zM236.5,342.6h1.25v1.25h-1.25zM235.2,335.8h1.25v1.25h-1.25zM241.7,353.3h1.25v1.25h-1.25zM238.8,344.9h1.25v1.25h-1.25zM234.3,341.5h1.25v1.25h-1.25zM240.8,348.6h1.25v1.25h-1.25zM234.2,337.7h1.25v1.25h-1.25zM241.6,349.9h1.25v1.25h-1.25zM235.1,335.0h1.25v1.25h-1.25zM240.9,349.8h1.25v1.25h-1.25zM239.5,350.0h1.25v1.25h-1.25zM239.9,344.9h1.25v1.25h-1.25zM239.8,344.8h1.25v1.25h-1.25zM242.5,351.4h1.25v1.25h-1.25zM234.3,334.1h1.25v1.25h-1.25zM236.0,334.5h1.25v1.25h-1.25zM239.0,346.7h1.25v1.25h-1.25zM238.6,345.8h1.25v1.25h-1.25zM241.8,353.2h1.25v1.25h-1.25zM235.0,341.3h1.25v1.25h-1.25zM241.3,351.7h1.25v1.25h-1.25zM234.2,339.8h1.25v1.25h-1.25zM236.9,331.5h1.25v1.25h-1.25zM244.1,356.0h1.25v1.25h-1.25zM239.3,348.7h1.25v1.25h-1.25zM240.8,348.4h1.25v1.25h-1.25zM235.2,342.0h1.25v1.25h-1.25zM233.1,339.4h1.25v1.25h-1.25zM239.7,347.4h1.25v1.25h-1.25zM242.7,354.6h1.25v1.25h-1.25zM234.6,335.0h1.25v1.25h-1.25zM233.8,335.1h1.25v1.25h-1.25zM240.5,347.9h1.25v1.25h-1.25zM235.4,333.3h1.25v1.25h-1.25zM240.5,351.0h1.25v1.25h-1.25zM250.7,363.3h1.25v1.25h-1.25zM252.8,358.1h1.25v1.25h-1.25zM254.0,360.6h1.25v1.25h-1.25zM254.4,360.5h1.25v1.25h-1.25zM252.5,359.3h1.25v1.25h-1.25zM252.4,358.3h1.25v1.25h-1.25zM251.3,363.8h1.25v1.25h-1.25zM253.0,357.8h1.25v1.25h-1.25zM257.1,356.4h1.25v1.25h-1.25zM250.6,357.5h1.25v1.25h-1.25zM251.8,354.9h1.25v1.25h-1.25zM252.7,365.0h1.25v1.25h-1.25zM250.9,355.9h1.25v1.25h-1.25zM257.3,359.8h1.25v1.25h-1.25zM253.6,363.4h1.25v1.25h-1.25zM250.0,359.3h1.25v1.25h-1.25zM257.2,361.0h1.25v1.25h-1.25zM252.4,358.3h1.25v1.25h-1.25zM258.0,359.3h1.25v1.25h-1.25zM252.8,364.4h1.25v1.25h-1.25zM250.5,359.4h1.25v1.25h-1.25zM250.3,362.7h1.25v1.25h-1.25zM249.1,360.1h1.25v1.25h-1.25zM250.7,360.0h1.25v1.25h-1.25zM256.9,359.6h1.25v1.25h-1.25zM252.9,360.4h1.25v1.25h-1.25zM253.2,358.1h1.25v1.25h-1.25zM255.1,361.4h1.25v1.25h-1.25zM251.3,357.4h1.25v1.25h-1.25zM249.8,361.2h1.25v1.25h-1.25zM252.0,361.8h1.25v1.25h-1.25zM255.0,364.7h1.25v1.25h-1.25zM254.4,359.0h1.25v1.25h-1.25zM256.2,362.5h1.25v1.25h-1.25zM255.3,358.2h1.25v1.25h-1.25zM257.9,361.5h1.25v1.25h-1.25zM254.8,364.1h1.25v1.25h-1.25zM251.2,357.3h1.25v1.25h-1.25zM255.0,359.0h1.25v1.25h-1.25zM255.7,362.1h1.25v1.25h-1.25zM257.3,362.7h1.25v1.25h-1.25zM253.3,358.6h1.25v1.25h-1.25zM249.7,357.4h1.25v1.25h-1.25zM257.6,359.3h1.25v1.25h-1.25zM251.0,355.0h1.25v1.25h-1.25zM251.7,358.3h1.25v1.25h-1.25zM255.3,364.6h1.25v1.25h-1.25zM252.6,358.3h1.25v1.25h-1.25zM253.0,358.0h1.25v1.25h-1.25zM257.3,356.2h1.25v1.25h-1.25zM257.4,358.5h1.25v1.25h-1.25zM248.5,360.4h1.25v1.25h-1.25zM249.9,360.2h1.25v1.25h-1.25zM254.1,358.2h1.25v1.25h-1.25zM251.4,359.3h1.25v1.25h-1.25zM251.2,357.7h1.25v1.25h-1.25zM249.8,359.8h1.25v1.25h-1.25zM254.8,361.0h1.25v1.25h-1.25zM249.6,360.2h1.25v1.25h-1.25zM251.5,360.7h1.25v1.25h-1.25zM253.4,359.9h1.25v1.25h-1.25zM256.7,359.9h1.25v1.25h-1.25zM251.4,362.8h1.25v1.25h-1.25zM254.0,364.5h1.25v1.25h-1.25zM252.6,358.9h1.25v1.25h-1.25zM252.1,360.9h1.25v1.25h-1.25zM253.4,364.6h1.25v1.25h-1.25zM251.4,358.5h1.25v1.25h-1.25zM257.4,360.9h1.25v1.25h-1.25zM251.5,363.5h1.25v1.25h-1.25zM252.2,365.4h1.25v1.25h-1.25zM251.3,355.7h1.25v1.25h-1.25zM249.6,361.9h1.25v1.25h-1.25zM251.1,356.9h1.25v1.25h-1.25zM253.7,357.5h1.25v1.25h-1.25zM254.0,361.8h1.25v1.25h-1.25zM253.0,358.2h1.25v1.25h-1.25zM253.6,358.3h1.25v1.25h-1.25zM254.8,359.4h1.25v1.25h-1.25zM252.6,358.8h1.25v1.25h-1.25zM251.8,358.1h1.25v1.25h-1.25zM254.2,363.9h1.25v1.25h-1.25zM249.5,360.8h1.25v1.25h-1.25zM255.0,364.5h1.25v1.25h-1.25zM256.2,362.3h1.25v1.25h-1.25zM253.0,364.8h1.25v1.25h-1.25zM251.2,361.3h1.25v1.25h-1.25zM252.4,358.6h1.25v1.25h-1.25zM256.6,363.0h1.25v1.25h-1.25zM253.1,359.6h1.25v1.25h-1.25zM255.4,365.1h1.25v1.25h-1.25zM251.3,358.2h1.25v1.25h-1.25zM250.3,356.9h1.25v1.25h-1.25zM256.3,357.5h1.25v1.25h-1.25zM256.7,361.4h1.25v1.25h-1.25zM255.0,359.5h1.25v1.25h-1.25zM254.3,357.5h1.25v1.25h-1.25zM254.1,360.3h1.25v1.25h-1.25zM251.0,363.2h1.25v1.25h-1.25zM254.6,365.3h1.25v1.25h-1.25zM255.6,365.3h1.25v1.25h-1.25zM255.5,361.4h1.25v1.25h-1.25zM257.6,358.9h1.25v1.25h-1.25zM253.0,358.1h1.25v1.25h-1.25zM249.7,361.0h1.25v1.25h-1.25zM256.8,362.8h1.25v1.25h-1.25zM249.8,359.6h1.25v1.25h-1.25zM257.2,359.4h1.25v1.25h-1.25zM251.8,357.9h1.25v1.25h-1.25zM254.8,359.4h1.25v1.25h-1.25zM252.5,358.0h1.25v1.25h-1.25zM255.9,355.6h1.25v1.25h-1.25zM256.3,362.9h1.25v1.25h-1.25zM250.4,360.9h1.25v1.25h-1.25zM248.8,359.7h1.25v1.25h-1.25zM253.5,358.6h1.25v1.25h-1.25zM258.8,359.7h1.25v1.25h-1.25zM253.8,360.4h1.25v1.25h-1.25zM253.3,356.6h1.25v1.25h-1.25zM256.6,360.8h1.25v1.25h-1.25zM253.3,358.1h1.25v1.25h-1.25zM252.4,362.2h1.25v1.25h-1.25zM254.5,357.5h1.25v1.25h-1.25zM254.7,358.6h1.25v1.25h-1.25zM257.6,363.1h1.25v1.25h-1.25zM257.8,360.7h1.25v1.25h-1.25zM254.3,357.4h1.25v1.25h-1.25zM253.9,357.2h1.25v1.25h-1.25zM262.6,359.0h1.25v1.25h-1.25zM266.0,359.0h1.25v1.25h-1.25zM257.1,360.3h1.25v1.25h-1.25zM264.7,359.0h1.25v1.25h-1.25zM263.4,358.3h1.25v1.25h-1.25zM261.5,360.0h1.25v1.25h-1.25zM266.0,357.9h1.25v1.25h-1.25zM261.2,359.7h1.25v1.25h-1.25zM264.3,359.6h1.25v1.25h-1.25zM257.4,361.0h1.25v1.25h-1.25zM259.1,360.2h1.25v1.25h-1.25zM263.4,358.2h1.25v1.25h-1.25zM256.8,359.7h1.25v1.25h-1.25zM263.7,359.6h1.25v1.25h-1.25zM260.4,359.5h1.25v1.25h-1.25zM258.6,359.8h1.25v1.25h-1.25zM263.9,358.4h1.25v1.25h-1.25zM267.2,358.5h1.25v1.25h-1.25zM261.6,359.4h1.25v1.25h-1.25zM262.6,358.6h1.25v1.25h-1.25zM260.8,359.6h1.25v1.25h-1.25zM262.4,358.7h1.25v1.25h-1.25zM266.2,358.7h1.25v1.25h-1.25zM260.9,360.1h1.25v1.25h-1.25zM257.1,360.8h1.25v1.25h-1.25zM266.5,359.1h1.25v1.25h-1.25zM263.7,359.4h1.25v1.25h-1.25zM260.8,359.4h1.25v1.25h-1.25zM260.8,360.3h1.25v1.25h-1.25zM266.0,358.4h1.25v1.25h-1.25zM259.4,360.1h1.25v1.25h-1.25zM265.2,358.7h1.25v1.25h-1.25zM248.4,355.3h1.25v1.25h-1.25zM247.4,355.1h1.25v1.25h-1.25zM249.6,355.2h1.25v1.25h-1.25zM249.1,354.6h1.25v1.25h-1.25zM247.5,354.1h1.25v1.25h-1.25zM250.1,355.1h1.25v1.25h-1.25zM247.3,354.2h1.25v1.25h-1.25zM249.5,355.5h1.25v1.25h-1.25zM249.4,355.3h1.25v1.25h-1.25zM248.4,354.9h1.25v1.25h-1.25zM248.0,355.3h1.25v1.25h-1.25zM248.9,355.1h1.25v1.25h-1.25zM250.9,355.5h1.25v1.25h-1.25zM258.1,373.8h1.25v1.25h-1.25zM256.6,367.4h1.25v1.25h-1.25zM256.6,367.7h1.25v1.25h-1.25zM258.0,372.4h1.25v1.25h-1.25zM257.8,372.9h1.25v1.25h-1.25zM257.2,373.4h1.25v1.25h-1.25zM256.5,366.8h1.25v1.25h-1.25zM256.7,370.1h1.25v1.25h-1.25zM255.9,366.7h1.25v1.25h-1.25zM256.0,368.8h1.25v1.25h-1.25zM256.7,370.4h1.25v1.25h-1.25zM256.1,369.4h1.25v1.25h-1.25zM257.7,373.3h1.25v1.25h-1.25zM255.9,365.7h1.25v1.25h-1.25zM258.6,374.8h1.25v1.25h-1.25zM256.1,367.6h1.25v1.25h-1.25zM259.5,380.8h1.25v1.25h-1.25zM257.0,384.3h1.25v1.25h-1.25zM257.8,383.5h1.25v1.25h-1.25zM256.2,381.8h1.25v1.25h-1.25zM255.2,384.0h1.25v1.25h-1.25zM255.4,385.9h1.25v1.25h-1.25zM253.6,380.9h1.25v1.25h-1.25zM257.9,382.0h1.25v1.25h-1.25zM258.8,379.2h1.25v1.25h-1.25zM256.5,380.8h1.25v1.25h-1.25zM256.1,379.7h1.25v1.25h-1.25zM256.3,377.6h1.25v1.25h-1.25zM257.8,383.7h1.25v1.25h-1.25zM259.8,379.5h1.25v1.25h-1.25zM253.4,380.6h1.25v1.25h-1.25zM256.2,382.5h1.25v1.25h-1.25zM259.9,383.6h1.25v1.25h-1.25zM258.7,382.4h1.25v1.25h-1.25zM256.4,384.5h1.25v1.25h-1.25zM253.9,380.6h1.25v1.25h-1.25zM260.0,377.9h1.25v1.25h-1.25zM256.6,379.5h1.25v1.25h-1.25zM258.5,379.9h1.25v1.25h-1.25zM259.4,383.0h1.25v1.25h-1.25zM259.3,382.7h1.25v1.25h-1.25zM257.8,382.8h1.25v1.25h-1.25zM253.5,379.8h1.25v1.25h-1.25zM252.4,380.6h1.25v1.25h-1.25zM255.6,381.5h1.25v1.25h-1.25zM254.8,383.1h1.25v1.25h-1.25zM255.4,384.1h1.25v1.25h-1.25zM260.1,379.7h1.25v1.25h-1.25zM256.9,382.7h1.25v1.25h-1.25zM258.2,381.4h1.25v1.25h-1.25zM259.0,382.6h1.25v1.25h-1.25zM260.7,380.1h1.25v1.25h-1.25zM254.8,383.7h1.25v1.25h-1.25zM257.1,384.8h1.25v1.25h-1.25zM260.0,384.0h1.25v1.25h-1.25zM259.3,380.9h1.25v1.25h-1.25zM257.8,383.8h1.25v1.25h-1.25zM256.1,380.6h1.25v1.25h-1.25zM259.8,384.4h1.25v1.25h-1.25zM256.5,381.2h1.25v1.25h-1.25zM254.0,380.6h1.25v1.25h-1.25zM258.3,382.2h1.25v1.25h-1.25zM256.9,384.5h1.25v1.25h-1.25zM256.6,384.0h1.25v1.25h-1.25zM258.6,384.1h1.25v1.25h-1.25zM255.7,383.6h1.25v1.25h-1.25zM252.7,382.0h1.25v1.25h-1.25zM254.3,385.1h1.25v1.25h-1.25zM257.4,381.8h1.25v1.25h-1.25zM257.4,383.4h1.25v1.25h-1.25zM249.5,419.8h1.25v1.25h-1.25zM253.7,402.5h1.25v1.25h-1.25zM247.4,412.9h1.25v1.25h-1.25zM246.1,401.4h1.25v1.25h-1.25zM248.7,415.9h1.25v1.25h-1.25zM250.2,417.7h1.25v1.25h-1.25zM247.1,399.7h1.25v1.25h-1.25zM250.2,415.5h1.25v1.25h-1.25zM250.6,405.1h1.25v1.25h-1.25zM244.7,405.5h1.25v1.25h-1.25zM248.9,418.6h1.25v1.25h-1.25zM255.1,407.3h1.25v1.25h-1.25zM255.3,408.9h1.25v1.25h-1.25zM251.6,411.8h1.25v1.25h-1.25zM252.4,413.3h1.25v1.25h-1.25zM250.8,399.1h1.25v1.25h-1.25zM252.1,402.7h1.25v1.25h-1.25zM251.6,411.3h1.25v1.25h-1.25zM251.1,415.7h1.25v1.25h-1.25zM245.3,408.9h1.25v1.25h-1.25zM250.0,409.6h1.25v1.25h-1.25zM247.1,410.0h1.25v1.25h-1.25zM253.7,401.1h1.25v1.25h-1.25zM246.8,405.3h1.25v1.25h-1.25zM247.9,414.8h1.25v1.25h-1.25zM253.0,405.4h1.25v1.25h-1.25zM254.4,409.3h1.25v1.25h-1.25zM248.1,410.5h1.25v1.25h-1.25zM249.7,402.0h1.25v1.25h-1.25zM247.8,409.9h1.25v1.25h-1.25zM249.0,402.3h1.25v1.25h-1.25zM247.9,401.5h1.25v1.25h-1.25zM251.9,414.8h1.25v1.25h-1.25zM252.8,403.8h1.25v1.25h-1.25zM249.7,419.8h1.25v1.25h-1.25zM250.3,416.6h1.25v1.25h-1.25zM254.1,406.6h1.25v1.25h-1.25zM254.1,404.6h1.25v1.25h-1.25zM244.6,410.5h1.25v1.25h-1.25zM252.4,409.1h1.25v1.25h-1.25zM249.0,414.6h1.25v1.25h-1.25zM247.7,412.0h1.25v1.25h-1.25zM247.1,399.5h1.25v1.25h-1.25zM248.3,416.0h1.25v1.25h-1.25zM246.6,410.9h1.25v1.25h-1.25zM251.6,405.1h1.25v1.25h-1.25zM250.3,408.5h1.25v1.25h-1.25zM254.3,403.2h1.25v1.25h-1.25zM252.2,400.6h1.25v1.25h-1.25zM250.2,419.4h1.25v1.25h-1.25zM246.9,406.7h1.25v1.25h-1.25zM250.3,415.5h1.25v1.25h-1.25zM250.2,419.6h1.25v1.25h-1.25zM250.1,399.0h1.25v1.25h-1.25zM245.7,407.9h1.25v1.25h-1.25zM250.0,419.7h1.25v1.25h-1.25zM249.9,406.1h1.25v1.25h-1.25zM254.1,411.4h1.25v1.25h-1.25zM256.2,406.5h1.25v1.25h-1.25zM251.7,401.1h1.25v1.25h-1.25zM250.1,418.7h1.25v1.25h-1.25zM243.7,405.8h1.25v1.25h-1.25zM253.4,404.1h1.25v1.25h-1.25zM252.9,405.3h1.25v1.25h-1.25zM251.0,408.8h1.25v1.25h-1.25zM254.1,407.2h1.25v1.25h-1.25zM247.5,415.0h1.25v1.25h-1.25zM246.3,416.1h1.25v1.25h-1.25zM246.7,410.1h1.25v1.25h-1.25zM251.9,400.6h1.25v1.25h-1.25zM244.2,410.3h1.25v1.25h-1.25zM249.0,402.4h1.25v1.25h-1.25zM250.0,416.4h1.25v1.25h-1.25zM252.3,403.3h1.25v1.25h-1.25zM248.0,414.4h1.25v1.25h-1.25zM253.1,405.2h1.25v1.25h-1.25zM246.5,404.9h1.25v1.25h-1.25zM255.0,411.3h1.25v1.25h-1.25zM251.6,406.6h1.25v1.25h-1.25zM248.1,416.1h1.25v1.25h-1.25zM250.5,416.0h1.25v1.25h-1.25zM247.9,415.3h1.25v1.25h-1.25zM251.1,399.6h1.25v1.25h-1.25zM250.0,418.7h1.25v1.25h-1.25zM251.9,402.1h1.25v1.25h-1.25zM252.3,411.2h1.25v1.25h-1.25zM250.0,399.6h1.25v1.25h-1.25zM249.0,402.5h1.25v1.25h-1.25zM249.5,416.0h1.25v1.25h-1.25zM252.9,405.4h1.25v1.25h-1.25zM251.1,400.7h1.25v1.25h-1.25zM248.4,419.9h1.25v1.25h-1.25zM250.2,415.3h1.25v1.25h-1.25zM250.0,410.4h1.25v1.25h-1.25zM253.5,408.9h1.25v1.25h-1.25zM250.7,399.6h1.25v1.25h-1.25zM246.8,410.4h1.25v1.25h-1.25zM249.6,418.9h1.25v1.25h-1.25zM250.6,416.9h1.25v1.25h-1.25zM249.3,419.4h1.25v1.25h-1.25zM248.8,415.3h1.25v1.25h-1.25zM249.2,415.1h1.25v1.25h-1.25zM254.3,407.8h1.25v1.25h-1.25zM247.5,405.4h1.25v1.25h-1.25zM253.0,400.2h1.25v1.25h-1.25zM249.5,408.5h1.25v1.25h-1.25zM247.8,416.0h1.25v1.25h-1.25zM246.0,406.6h1.25v1.25h-1.25zM245.2,409.0h1.25v1.25h-1.25zM250.6,419.7h1.25v1.25h-1.25zM246.7,399.1h1.25v1.25h-1.25zM250.1,419.9h1.25v1.25h-1.25zM248.4,406.8h1.25v1.25h-1.25zM250.0,420.2h1.25v1.25h-1.25zM244.3,405.6h1.25v1.25h-1.25zM245.6,412.6h1.25v1.25h-1.25zM250.1,420.0h1.25v1.25h-1.25zM250.3,414.9h1.25v1.25h-1.25zM249.7,410.6h1.25v1.25h-1.25zM252.8,403.3h1.25v1.25h-1.25zM248.0,409.9h1.25v1.25h-1.25zM246.7,413.6h1.25v1.25h-1.25zM243.9,408.5h1.25v1.25h-1.25zM250.1,418.7h1.25v1.25h-1.25zM253.4,406.9h1.25v1.25h-1.25zM255.4,410.1h1.25v1.25h-1.25zM249.5,401.7h1.25v1.25h-1.25zM247.4,401.5h1.25v1.25h-1.25zM250.5,399.2h1.25v1.25h-1.25zM250.4,404.0h1.25v1.25h-1.25zM249.5,418.8h1.25v1.25h-1.25zM249.3,419.3h1.25v1.25h-1.25zM247.1,415.4h1.25v1.25h-1.25zM253.6,402.1h1.25v1.25h-1.25zM253.1,411.0h1.25v1.25h-1.25zM250.7,420.1h1.25v1.25h-1.25zM248.6,410.3h1.25v1.25h-1.25zM249.7,415.0h1.25v1.25h-1.25zM253.1,415.2h1.25v1.25h-1.25zM250.3,410.6h1.25v1.25h-1.25zM253.9,403.5h1.25v1.25h-1.25zM252.0,404.3h1.25v1.25h-1.25zM254.8,407.3h1.25v1.25h-1.25zM249.3,419.7h1.25v1.25h-1.25zM248.2,418.8h1.25v1.25h-1.25zM250.1,419.9h1.25v1.25h-1.25zM248.1,412.1h1.25v1.25h-1.25zM250.9,408.3h1.25v1.25h-1.25zM248.0,410.1h1.25v1.25h-1.25zM248.7,420.0h1.25v1.25h-1.25zM254.9,401.8h1.25v1.25h-1.25zM250.9,414.7h1.25v1.25h-1.25zM245.0,410.6h1.25v1.25h-1.25zM245.8,409.8h1.25v1.25h-1.25zM252.9,410.0h1.25v1.25h-1.25zM246.7,404.5h1.25v1.25h-1.25zM249.6,414.8h1.25v1.25h-1.25zM245.4,407.0h1.25v1.25h-1.25zM253.1,403.3h1.25v1.25h-1.25zM249.3,399.8h1.25v1.25h-1.25zM247.9,414.7h1.25v1.25h-1.25zM256.7,406.7h1.25v1.25h-1.25zM250.5,399.1h1.25v1.25h-1.25zM250.4,409.1h1.25v1.25h-1.25zM250.0,419.2h1.25v1.25h-1.25zM252.7,402.3h1.25v1.25h-1.25zM249.3,417.2h1.25v1.25h-1.25zM254.6,405.7h1.25v1.25h-1.25zM251.8,414.8h1.25v1.25h-1.25zM253.6,409.6h1.25v1.25h-1.25zM246.6,407.3h1.25v1.25h-1.25zM250.4,406.4h1.25v1.25h-1.25zM250.6,405.4h1.25v1.25h-1.25zM244.6,408.4h1.25v1.25h-1.25zM246.2,399.2h1.25v1.25h-1.25z"/>
<path fill="#e8602c" d="M313.7,378.8h1.5v1.5h-1.5zM317.3,376.9h1.5v1.5h-1.5zM314.1,379.7h1.5v1.5h-1.5zM316.6,377.7h1.5v1.5h-1.5zM319.0,368.7h1.5v1.5h-1.5zM325.2,364.6h1.5v1.5h-1.5zM322.7,359.6h1.5v1.5h-1.5zM322.3,359.6h1.5v1.5h-1.5zM323.3,359.4h1.5v1.5h-1.5zM323.2,359.1h1.5v1.5h-1.5zM325.6,364.4h1.5v1.5h-1.5zM326.8,364.7h1.5v1.5h-1.5zM322.2,362.7h1.5v1.5h-1.5zM322.8,362.9h1.5v1.5h-1.5zM324.7,363.3h1.5v1.5h-1.5zM328.2,368.2h1.5v1.5h-1.5zM327.4,369.1h1.5v1.5h-1.5zM324.6,363.8h1.5v1.5h-1.5zM323.7,363.6h1.5v1.5h-1.5zM322.0,361.2h1.5v1.5h-1.5zM327.5,369.0h1.5v1.5h-1.5zM328.0,367.8h1.5v1.5h-1.5zM325.0,364.3h1.5v1.5h-1.5zM323.5,363.1h1.5v1.5h-1.5zM322.3,360.2h1.5v1.5h-1.5zM321.7,359.7h1.5v1.5h-1.5zM324.2,357.0h1.5v1.5h-1.5zM322.1,364.0h1.5v1.5h-1.5zM324.3,364.7h1.5v1.5h-1.5zM329.3,369.9h1.5v1.5h-1.5zM326.6,366.8h1.5v1.5h-1.5zM323.9,356.5h1.5v1.5h-1.5zM324.2,357.8h1.5v1.5h-1.5zM338.6,365.0h1.5v1.5h-1.5zM338.8,363.3h1.5v1.5h-1.5zM333.2,367.1h1.5v1.5h-1.5zM335.1,367.8h1.5v1.5h-1.5zM339.1,368.1h1.5v1.5h-1.5zM331.5,365.7h1.5v1.5h-1.5zM331.5,368.3h1.5v1.5h-1.5zM339.8,365.1h1.5v1.5h-1.5zM334.2,368.0h1.5v1.5h-1.5zM332.4,367.1h1.5v1.5h-1.5zM332.6,363.9h1.5v1.5h-1.5zM332.7,363.5h1.5v1.5h-1.5zM336.9,369.9h1.5v1.5h-1.5zM337.5,368.5h1.5v1.5h-1.5zM339.2,369.7h1.5v1.5h-1.5zM333.1,370.7h1.5v1.5h-1.5zM336.1,371.0h1.5v1.5h-1.5zM330.4,366.0h1.5v1.5h-1.5zM332.7,367.2h1.5v1.5h-1.5zM331.7,366.0h1.5v1.5h-1.5zM337.7,369.9h1.5v1.5h-1.5zM334.8,371.2h1.5v1.5h-1.5zM337.0,370.2h1.5v1.5h-1.5zM334.9,367.7h1.5v1.5h-1.5zM338.5,370.5h1.5v1.5h-1.5zM338.1,368.2h1.5v1.5h-1.5zM336.5,370.4h1.5v1.5h-1.5zM339.4,369.7h1.5v1.5h-1.5zM338.3,363.6h1.5v1.5h-1.5zM337.9,363.5h1.5v1.5h-1.5zM334.4,365.0h1.5v1.5h-1.5zM336.5,368.7h1.5v1.5h-1.5zM337.6,370.4h1.5v1.5h-1.5zM336.8,362.5h1.5v1.5h-1.5zM338.6,363.0h1.5v1.5h-1.5zM336.5,369.4h1.5v1.5h-1.5zM334.2,367.1h1.5v1.5h-1.5zM335.5,368.1h1.5v1.5h-1.5zM338.7,364.4h1.5v1.5h-1.5zM334.0,368.6h1.5v1.5h-1.5zM332.5,364.1h1.5v1.5h-1.5zM339.4,369.8h1.5v1.5h-1.5zM338.0,369.2h1.5v1.5h-1.5zM333.8,371.0h1.5v1.5h-1.5zM336.2,371.7h1.5v1.5h-1.5zM339.3,371.2h1.5v1.5h-1.5zM335.9,346.0h1.5v1.5h-1.5zM335.4,354.8h1.5v1.5h-1.5zM337.1,350.4h1.5v1.5h-1.5zM342.5,344.7h1.5v1.5h-1.5zM332.7,349.0h1.5v1.5h-1.5zM343.0,347.8h1.5v1.5h-1.5zM337.8,344.4h1.5v1.5h-1.5zM340.8,348.0h1.5v1.5h-1.5zM342.1,348.5h1.5v1.5h-1.5zM331.5,352.9h1.5v1.5h-1.5zM342.7,348.4h1.5v1.5h-1.5zM338.0,345.0h1.5v1.5h-1.5zM338.7,349.6h1.5v1.5h-1.5zM333.5,351.2h1.5v1.5h-1.5zM334.2,350.9h1.5v1.5h-1.5zM334.2,349.5h1.5v1.5h-1.5zM339.8,346.9h1.5v1.5h-1.5zM335.5,346.1h1.5v1.5h-1.5zM333.3,352.1h1.5v1.5h-1.5zM333.4,351.9h1.5v1.5h-1.5zM334.9,351.8h1.5v1.5h-1.5zM333.5,350.3h1.5v1.5h-1.5zM335.9,345.7h1.5v1.5h-1.5zM342.6,347.9h1.5v1.5h-1.5zM334.7,350.8h1.5v1.5h-1.5zM334.5,349.2h1.5v1.5h-1.5zM336.7,351.4h1.5v1.5h-1.5zM336.9,344.1h1.5v1.5h-1.5zM341.9,352.8h1.5v1.5h-1.5zM342.1,351.1h1.5v1.5h-1.5zM336.1,352.5h1.5v1.5h-1.5zM333.3,349.8h1.5v1.5h-1.5zM336.1,351.2h1.5v1.5h-1.5zM341.4,348.3h1.5v1.5h-1.5zM338.1,343.7h1.5v1.5h-1.5zM338.5,345.7h1.5v1.5h-1.5zM334.1,351.1h1.5v1.5h-1.5zM343.1,351.4h1.5v1.5h-1.5zM343.1,350.1h1.5v1.5h-1.5zM343.5,351.2h1.5v1.5h-1.5zM345.2,365.0h1.5v1.5h-1.5zM352.3,362.7h1.5v1.5h-1.5zM352.9,363.3h1.5v1.5h-1.5zM356.8,359.9h1.5v1.5h-1.5zM354.8,359.2h1.5v1.5h-1.5zM345.6,361.5h1.5v1.5h-1.5zM348.5,364.9h1.5v1.5h-1.5zM347.0,360.0h1.5v1.5h-1.5zM349.1,356.3h1.5v1.5h-1.5zM356.4,362.6h1.5v1.5h-1.5zM353.6,360.7h1.5v1.5h-1.5zM352.2,363.5h1.5v1.5h-1.5zM355.1,358.9h1.5v1.5h-1.5zM345.7,361.5h1.5v1.5h-1.5zM351.3,358.9h1.5v1.5h-1.5zM352.7,362.3h1.5v1.5h-1.5zM349.4,356.4h1.5v1.5h-1.5zM350.9,356.4h1.5v1.5h-1.5zM357.0,362.2h1.5v1.5h-1.5zM356.1,361.2h1.5v1.5h-1.5zM348.1,358.5h1.5v1.5h-1.5zM349.3,361.6h1.5v1.5h-1.5zM352.7,362.6h1.5v1.5h-1.5zM346.6,363.2h1.5v1.5h-1.5zM353.0,362.1h1.5v1.5h-1.5zM349.4,356.3h1.5v1.5h-1.5zM353.5,360.7h1.5v1.5h-1.5zM346.7,363.9h1.5v1.5h-1.5zM348.6,359.8h1.5v1.5h-1.5zM346.7,363.7h1.5v1.5h-1.5zM351.6,362.1h1.5v1.5h-1.5zM352.2,364.7h1.5v1.5h-1.5zM351.6,363.8h1.5v1.5h-1.5zM345.1,359.8h1.5v1.5h-1.5zM351.5,361.0h1.5v1.5h-1.5zM345.7,360.6h1.5v1.5h-1.5zM356.1,362.2h1.5v1.5h-1.5zM355.5,362.5h1.5v1.5h-1.5zM344.2,363.2h1.5v1.5h-1.5zM344.5,363.6h1.5v1.5h-1.5zM339.6,365.5h1.5v1.5h-1.5zM346.6,337.1h1.5v1.5h-1.5zM346.7,337.1h1.5v1.5h-1.5zM370.4,323.7h1.5v1.5h-1.5zM373.2,321.5h1.5v1.5h-1.5zM370.8,324.3h1.5v1.5h-1.5zM369.4,325.8h1.5v1.5h-1.5zM369.5,326.2h1.5v1.5h-1.5zM370.6,324.2h1.5v1.5h-1.5zM372.5,322.8h1.5v1.5h-1.5zM371.3,322.1h1.5v1.5h-1.5zM373.7,323.8h1.5v1.5h-1.5zM372.3,324.0h1.5v1.5h-1.5zM368.6,327.0h1.5v1.5h-1.5zM374.1,323.1h1.5v1.5h-1.5zM370.6,324.0h1.5v1.5h-1.5zM365.8,329.6h1.5v1.5h-1.5zM374.7,324.4h1.5v1.5h-1.5zM372.5,322.3h1.5v1.5h-1.5zM373.8,322.3h1.5v1.5h-1.5zM366.4,330.0h1.5v1.5h-1.5zM374.6,324.7h1.5v1.5h-1.5zM372.1,322.7h1.5v1.5h-1.5zM365.9,330.4h1.5v1.5h-1.5zM369.4,326.0h1.5v1.5h-1.5zM374.6,326.9h1.5v1.5h-1.5zM374.6,327.7h1.5v1.5h-1.5zM373.9,329.3h1.5v1.5h-1.5zM376.3,326.0h1.5v1.5h-1.5zM375.6,327.5h1.5v1.5h-1.5zM366.2,331.0h1.5v1.5h-1.5zM369.3,330.6h1.5v1.5h-1.5zM367.8,327.6h1.5v1.5h-1.5zM371.5,331.6h1.5v1.5h-1.5zM367.6,332.2h1.5v1.5h-1.5zM370.5,334.0h1.5v1.5h-1.5zM371.0,334.1h1.5v1.5h-1.5zM369.8,328.7h1.5v1.5h-1.5zM370.0,334.4h1.5v1.5h-1.5zM369.3,331.3h1.5v1.5h-1.5zM370.2,332.1h1.5v1.5h-1.5zM369.3,334.6h1.5v1.5h-1.5zM371.6,334.4h1.5v1.5h-1.5zM370.3,333.0h1.5v1.5h-1.5zM371.0,333.6h1.5v1.5h-1.5zM370.5,327.0h1.5v1.5h-1.5zM370.3,331.4h1.5v1.5h-1.5zM369.1,329.7h1.5v1.5h-1.5zM367.1,326.8h1.5v1.5h-1.5zM367.0,331.6h1.5v1.5h-1.5zM366.4,330.8h1.5v1.5h-1.5zM369.9,331.4h1.5v1.5h-1.5zM367.6,327.4h1.5v1.5h-1.5zM368.3,337.9h1.5v1.5h-1.5zM363.5,351.5h1.5v1.5h-1.5zM357.1,340.7h1.5v1.5h-1.5zM358.3,332.0h1.5v1.5h-1.5zM361.4,346.8h1.5v1.5h-1.5zM362.6,348.5h1.5v1.5h-1.5zM362.7,349.7h1.5v1.5h-1.5zM361.8,344.8h1.5v1.5h-1.5zM357.9,334.3h1.5v1.5h-1.5zM363.7,353.0h1.5v1.5h-1.5zM356.8,341.1h1.5v1.5h-1.5zM356.0,339.7h1.5v1.5h-1.5zM366.0,355.9h1.5v1.5h-1.5zM355.0,339.2h1.5v1.5h-1.5zM357.3,333.2h1.5v1.5h-1.5zM372.5,363.2h1.5v1.5h-1.5zM376.3,360.4h1.5v1.5h-1.5zM374.4,359.2h1.5v1.5h-1.5zM373.2,363.7h1.5v1.5h-1.5zM372.8,355.8h1.5v1.5h-1.5zM371.9,359.2h1.5v1.5h-1.5zM374.3,358.1h1.5v1.5h-1.5zM372.4,359.3h1.5v1.5h-1.5zM372.2,362.5h1.5v1.5h-1.5zM373.1,357.3h1.5v1.5h-1.5zM376.8,364.6h1.5v1.5h-1.5zM379.7,361.4h1.5v1.5h-1.5zM379.5,359.2h1.5v1.5h-1.5zM379.2,356.1h1.5v1.5h-1.5zM379.3,358.4h1.5v1.5h-1.5zM371.8,360.1h1.5v1.5h-1.5zM375.9,358.0h1.5v1.5h-1.5zM373.4,360.6h1.5v1.5h-1.5zM375.3,359.8h1.5v1.5h-1.5zM373.2,362.6h1.5v1.5h-1.5zM375.9,364.3h1.5v1.5h-1.5zM374.5,358.8h1.5v1.5h-1.5zM374.0,360.7h1.5v1.5h-1.5zM372.9,356.8h1.5v1.5h-1.5zM374.9,358.1h1.5v1.5h-1.5zM375.5,358.1h1.5v1.5h-1.5zM376.6,359.3h1.5v1.5h-1.5zM374.5,358.6h1.5v1.5h-1.5zM378.0,362.2h1.5v1.5h-1.5zM373.1,361.2h1.5v1.5h-1.5zM375.0,359.5h1.5v1.5h-1.5zM372.2,356.8h1.5v1.5h-1.5zM372.9,363.1h1.5v1.5h-1.5zM375.4,358.5h1.5v1.5h-1.5zM375.2,356.4h1.5v1.5h-1.5zM378.5,360.7h1.5v1.5h-1.5zM375.2,358.0h1.5v1.5h-1.5zM379.5,362.9h1.5v1.5h-1.5zM379.0,360.2h1.5v1.5h-1.5zM386.2,359.4h1.5v1.5h-1.5zM379.3,360.9h1.5v1.5h-1.5zM381.0,360.1h1.5v1.5h-1.5zM385.6,359.5h1.5v1.5h-1.5zM380.5,359.7h1.5v1.5h-1.5zM389.1,358.4h1.5v1.5h-1.5zM383.4,359.3h1.5v1.5h-1.5zM382.7,359.5h1.5v1.5h-1.5zM385.6,359.2h1.5v1.5h-1.5zM382.6,359.3h1.5v1.5h-1.5zM382.7,360.2h1.5v1.5h-1.5zM387.9,358.3h1.5v1.5h-1.5zM381.3,359.9h1.5v1.5h-1.5zM371.4,355.0h1.5v1.5h-1.5zM371.9,354.9h1.5v1.5h-1.5zM378.9,384.1h1.5v1.5h-1.5zM375.8,380.5h1.5v1.5h-1.5zM380.9,382.4h1.5v1.5h-1.5zM371.4,419.6h1.5v1.5h-1.5zM368.0,401.3h1.5v1.5h-1.5zM374.2,413.2h1.5v1.5h-1.5zM372.7,399.0h1.5v1.5h-1.5zM371.5,419.7h1.5v1.5h-1.5zM375.0,405.0h1.5v1.5h-1.5zM372.1,415.2h1.5v1.5h-1.5zM371.1,414.9h1.5v1.5h-1.5zM372.0,419.8h1.5v1.5h-1.5zM371.9,419.7h1.5v1.5h-1.5z"/>
<path fill="#3a9a48" d="M430.9,377.8h1.5v1.5h-1.5zM430.3,379.3h1.5v1.5h-1.5zM431.1,377.8h1.5v1.5h-1.5zM430.5,378.8h1.5v1.5h-1.5zM429.3,379.3h1.5v1.5h-1.5zM434.6,368.4h1.5v1.5h-1.5zM441.0,364.6h1.5v1.5h-1.5zM438.5,359.6h1.5v1.5h-1.5zM438.1,362.8h1.5v1.5h-1.5zM438.7,358.7h1.5v1.5h-1.5zM443.8,369.3h1.5v1.5h-1.5zM439.1,359.4h1.5v1.5h-1.5zM439.0,358.0h1.5v1.5h-1.5zM442.6,364.7h1.5v1.5h-1.5zM438.4,356.6h1.5v1.5h-1.5zM438.4,357.6h1.5v1.5h-1.5zM439.5,363.6h1.5v1.5h-1.5zM442.2,365.3h1.5v1.5h-1.5zM443.4,369.6h1.5v1.5h-1.5zM443.6,366.6h1.5v1.5h-1.5zM441.5,365.0h1.5v1.5h-1.5zM444.5,367.1h1.5v1.5h-1.5zM440.0,357.5h1.5v1.5h-1.5zM454.6,363.3h1.5v1.5h-1.5zM450.9,367.8h1.5v1.5h-1.5zM455.4,366.4h1.5v1.5h-1.5zM451.3,368.2h1.5v1.5h-1.5zM448.4,363.9h1.5v1.5h-1.5zM449.3,366.4h1.5v1.5h-1.5zM454.5,370.7h1.5v1.5h-1.5zM450.3,368.2h1.5v1.5h-1.5zM449.3,370.2h1.5v1.5h-1.5zM448.9,370.7h1.5v1.5h-1.5zM454.3,370.5h1.5v1.5h-1.5zM453.9,368.2h1.5v1.5h-1.5zM455.7,370.1h1.5v1.5h-1.5zM456.0,369.9h1.5v1.5h-1.5zM453.4,370.4h1.5v1.5h-1.5zM448.8,363.3h1.5v1.5h-1.5zM452.6,362.5h1.5v1.5h-1.5zM449.6,365.4h1.5v1.5h-1.5zM453.7,369.5h1.5v1.5h-1.5zM454.4,365.1h1.5v1.5h-1.5zM448.3,364.1h1.5v1.5h-1.5zM450.8,365.0h1.5v1.5h-1.5zM455.2,366.9h1.5v1.5h-1.5zM456.4,349.3h1.5v1.5h-1.5zM452.9,350.4h1.5v1.5h-1.5zM449.7,352.3h1.5v1.5h-1.5zM458.1,349.4h1.5v1.5h-1.5zM457.9,350.8h1.5v1.5h-1.5zM452.0,355.0h1.5v1.5h-1.5zM447.3,352.9h1.5v1.5h-1.5zM453.3,344.0h1.5v1.5h-1.5zM458.5,348.4h1.5v1.5h-1.5zM456.7,352.3h1.5v1.5h-1.5zM448.0,349.0h1.5v1.5h-1.5zM452.9,345.4h1.5v1.5h-1.5zM449.3,351.2h1.5v1.5h-1.5zM450.8,351.2h1.5v1.5h-1.5zM455.6,346.9h1.5v1.5h-1.5zM449.4,353.6h1.5v1.5h-1.5zM449.4,350.0h1.5v1.5h-1.5zM451.3,346.1h1.5v1.5h-1.5zM450.9,350.8h1.5v1.5h-1.5zM451.8,355.3h1.5v1.5h-1.5zM456.9,351.7h1.5v1.5h-1.5zM453.5,354.5h1.5v1.5h-1.5zM447.5,348.0h1.5v1.5h-1.5zM448.8,351.4h1.5v1.5h-1.5zM454.8,349.2h1.5v1.5h-1.5zM452.1,345.7h1.5v1.5h-1.5zM449.8,351.4h1.5v1.5h-1.5zM453.2,344.7h1.5v1.5h-1.5zM455.8,352.3h1.5v1.5h-1.5zM450.4,350.6h1.5v1.5h-1.5zM451.9,352.5h1.5v1.5h-1.5zM450.4,346.4h1.5v1.5h-1.5zM452.6,353.5h1.5v1.5h-1.5zM458.5,345.5h1.5v1.5h-1.5zM454.4,350.1h1.5v1.5h-1.5zM453.2,353.3h1.5v1.5h-1.5zM454.3,345.7h1.5v1.5h-1.5zM452.9,352.9h1.5v1.5h-1.5zM458.9,351.7h1.5v1.5h-1.5zM460.0,359.0h1.5v1.5h-1.5zM464.5,360.2h1.5v1.5h-1.5zM462.0,362.6h1.5v1.5h-1.5zM458.9,363.0h1.5v1.5h-1.5zM466.0,356.3h1.5v1.5h-1.5zM461.8,358.4h1.5v1.5h-1.5zM470.6,359.2h1.5v1.5h-1.5zM459.3,362.8h1.5v1.5h-1.5zM470.1,360.8h1.5v1.5h-1.5zM464.3,364.9h1.5v1.5h-1.5zM462.9,362.4h1.5v1.5h-1.5zM464.9,356.3h1.5v1.5h-1.5zM471.0,363.3h1.5v1.5h-1.5zM468.5,361.6h1.5v1.5h-1.5zM469.4,360.7h1.5v1.5h-1.5zM468.0,363.5h1.5v1.5h-1.5zM470.9,358.9h1.5v1.5h-1.5zM461.5,361.5h1.5v1.5h-1.5zM460.7,360.9h1.5v1.5h-1.5zM468.7,359.1h1.5v1.5h-1.5zM466.3,365.5h1.5v1.5h-1.5zM464.7,362.0h1.5v1.5h-1.5zM471.8,361.0h1.5v1.5h-1.5zM465.2,365.0h1.5v1.5h-1.5zM472.8,362.2h1.5v1.5h-1.5zM461.4,362.6h1.5v1.5h-1.5zM469.7,361.2h1.5v1.5h-1.5zM471.7,359.7h1.5v1.5h-1.5zM465.1,361.6h1.5v1.5h-1.5zM465.0,364.7h1.5v1.5h-1.5zM464.2,358.2h1.5v1.5h-1.5zM465.2,356.3h1.5v1.5h-1.5zM459.7,363.9h1.5v1.5h-1.5zM459.5,364.4h1.5v1.5h-1.5zM468.0,364.7h1.5v1.5h-1.5zM467.4,363.8h1.5v1.5h-1.5zM472.7,364.0h1.5v1.5h-1.5zM460.7,365.2h1.5v1.5h-1.5zM466.3,364.7h1.5v1.5h-1.5zM470.5,359.1h1.5v1.5h-1.5zM469.2,363.5h1.5v1.5h-1.5zM462.6,359.6h1.5v1.5h-1.5zM468.2,361.1h1.5v1.5h-1.5zM461.9,336.8h1.5v1.5h-1.5zM462.3,335.8h1.5v1.5h-1.5zM485.3,326.2h1.5v1.5h-1.5zM487.5,324.2h1.5v1.5h-1.5zM483.3,327.4h1.5v1.5h-1.5zM487.1,322.1h1.5v1.5h-1.5zM484.9,323.8h1.5v1.5h-1.5zM489.5,323.8h1.5v1.5h-1.5zM484.9,327.5h1.5v1.5h-1.5zM486.6,324.8h1.5v1.5h-1.5zM483.9,329.1h1.5v1.5h-1.5zM484.2,326.9h1.5v1.5h-1.5zM486.8,322.0h1.5v1.5h-1.5zM486.6,322.2h1.5v1.5h-1.5zM486.6,323.3h1.5v1.5h-1.5zM486.7,323.3h1.5v1.5h-1.5zM482.8,327.2h1.5v1.5h-1.5zM486.9,324.1h1.5v1.5h-1.5zM490.2,327.1h1.5v1.5h-1.5zM490.4,327.7h1.5v1.5h-1.5zM492.5,326.0h1.5v1.5h-1.5zM486.8,330.1h1.5v1.5h-1.5zM482.0,331.4h1.5v1.5h-1.5zM487.0,329.6h1.5v1.5h-1.5zM482.9,330.2h1.5v1.5h-1.5zM485.8,331.3h1.5v1.5h-1.5zM486.0,332.1h1.5v1.5h-1.5zM487.4,330.4h1.5v1.5h-1.5zM486.1,331.3h1.5v1.5h-1.5zM486.1,333.0h1.5v1.5h-1.5zM485.5,333.5h1.5v1.5h-1.5zM482.6,331.6h1.5v1.5h-1.5zM486.2,334.5h1.5v1.5h-1.5zM486.5,332.9h1.5v1.5h-1.5zM484.9,329.7h1.5v1.5h-1.5zM481.4,329.6h1.5v1.5h-1.5zM485.7,331.4h1.5v1.5h-1.5zM483.1,337.4h1.5v1.5h-1.5zM487.5,336.5h1.5v1.5h-1.5zM472.4,335.9h1.5v1.5h-1.5zM477.2,346.8h1.5v1.5h-1.5zM472.9,335.7h1.5v1.5h-1.5zM472.7,334.9h1.5v1.5h-1.5zM478.5,349.7h1.5v1.5h-1.5zM480.2,351.3h1.5v1.5h-1.5zM472.0,334.0h1.5v1.5h-1.5zM472.6,341.1h1.5v1.5h-1.5zM479.0,351.6h1.5v1.5h-1.5zM478.5,348.3h1.5v1.5h-1.5zM491.7,360.5h1.5v1.5h-1.5zM489.0,363.7h1.5v1.5h-1.5zM488.0,362.5h1.5v1.5h-1.5zM492.7,361.3h1.5v1.5h-1.5zM495.1,360.8h1.5v1.5h-1.5zM492.6,359.4h1.5v1.5h-1.5zM488.0,360.8h1.5v1.5h-1.5zM498.5,360.2h1.5v1.5h-1.5zM485.0,354.0h1.5v1.5h-1.5z"/>
<text x="17.9" y="481" font-size="7.6" fill="#45a84e" textLength="117.1" lengthAdjust="spacingAndGlyphs">GATA2/BCL2 p.Phe104Leu (7.8%)</text>
<text x="17.9" y="493.9" font-size="7.6" fill="#e8734a" textLength="117.1" lengthAdjust="spacingAndGlyphs">GATA2/BCL2 p.Asp103Glu (12%)</text>
<text x="134.7" y="536.6" font-size="7.6" fill="#2f7fc0" text-anchor="end" textLength="98.7" lengthAdjust="spacingAndGlyphs">GATA2 p.Arg362Gln (48.2%)</text>
<text x="134.7" y="591.6" font-size="7.4" fill="#888" text-anchor="end" textLength="56.7" lengthAdjust="spacingAndGlyphs">wild type (31.9%)</text>
<rect x="138.2" y="473" width="4.4" height="10.5" fill="#2e9e44"/>
<rect x="138.2" y="483.5" width="4.4" height="16.5" fill="#e8602c"/>
<rect x="138.2" y="500" width="4.4" height="67" fill="#1a70b4"/>
<rect x="138.2" y="567" width="4.4" height="44" fill="#6f6f6f"/>
<rect x="143.8" y="473" width="103.8" height="138" fill="#6f6f6f"/>
<rect x="144.2" y="473" width="69" height="10.4" fill="#e1eff4"/>
<rect x="144.2" y="484.3" width="34.2" height="82.7" fill="#e1eff4"/>
<rect x="213.2" y="484.3" width="34" height="15.8" fill="#e1eff4"/>
<line x1="143.8" y1="472.9" x2="213.2" y2="472.9" stroke="#8a8a8a" stroke-width="1"/>
<line x1="143.8" y1="483.8" x2="247.6" y2="483.8" stroke="#4a4a4a" stroke-width="1.1"/>
<line x1="143.8" y1="500.4" x2="247.6" y2="500.4" stroke="#444" stroke-width="1.1"/>
<line x1="143.8" y1="567" x2="247.6" y2="567" stroke="#4a4a4a" stroke-width="1"/>
<line x1="213.2" y1="473" x2="213.2" y2="483.8" stroke="#555" stroke-width="0.8"/>
<line x1="213" y1="484" x2="213" y2="500.4" stroke="#444" stroke-width="0.9"/>
<line x1="247.2" y1="484" x2="247.2" y2="500.4" stroke="#333" stroke-width="0.9"/>
<line x1="178.6" y1="484" x2="178.6" y2="567" stroke="#555" stroke-width="0.6"/>
<rect x="143" y="473" width="0.9" height="138" fill="#fff"/>
<rect x="143" y="473" width="0.9" height="94" fill="#8a8a8a" fill-opacity="0.6"/>
<line x1="138.2" y1="483.8" x2="142.6" y2="483.8" stroke="#444" stroke-width="0.7" stroke-opacity="0.7"/>
<line x1="138.2" y1="500.2" x2="142.6" y2="500.2" stroke="#444" stroke-width="0.7" stroke-opacity="0.7"/>
<line x1="138.2" y1="567" x2="142.6" y2="567" stroke="#444" stroke-width="0.7" stroke-opacity="0.7"/>
<rect x="253.7" y="593.2" width="6" height="6" fill="#6f6f6f" stroke="#555" stroke-width="0.6"/>
<rect x="253.7" y="604.2" width="6" height="6" fill="#f4f8fa" stroke="#666" stroke-width="0.6"/>
<text x="262.6" y="598.3" font-size="7" fill="#333" stroke="#333" stroke-width="0.28" textLength="27.4" lengthAdjust="spacingAndGlyphs">wild type</text>
<text x="262.6" y="609.4" font-size="7" fill="#333" stroke="#333" stroke-width="0.28" textLength="13.4" lengthAdjust="spacingAndGlyphs">HET</text>
<text x="158.5" y="615" font-size="7.8" fill="#333" stroke="#333" stroke-width="0.28" text-anchor="end" transform="rotate(-90 158.5 615)">GATA2</text>
<text x="167.6" y="615" font-size="7.8" fill="#333" stroke="#333" stroke-width="0.28" text-anchor="end" textLength="42.7" lengthAdjust="spacingAndGlyphs" transform="rotate(-90 167.6 615)">p.Arg362Gln</text>
<text x="194.3" y="615" font-size="7.8" fill="#333" stroke="#333" stroke-width="0.28" text-anchor="end" transform="rotate(-90 194.3 615)">BCL2</text>
<text x="202.0" y="615" font-size="7.8" fill="#333" stroke="#333" stroke-width="0.28" text-anchor="end" textLength="43.8" lengthAdjust="spacingAndGlyphs" transform="rotate(-90 202.0 615)">p.Phe104Leu</text>
<text x="229.0" y="615" font-size="7.8" fill="#333" stroke="#333" stroke-width="0.28" text-anchor="end" transform="rotate(-90 229.0 615)">BCL2</text>
<text x="237.8" y="615" font-size="7.8" fill="#333" stroke="#333" stroke-width="0.28" text-anchor="end" textLength="44.3" lengthAdjust="spacingAndGlyphs" transform="rotate(-90 237.8 615)">p.Asp103Glu</text>
<path d="M341.1,477.3 V579.7 H513.2" fill="none" stroke="#333" stroke-width="1.2"/>
<line x1="337.6" y1="477.3" x2="341.1" y2="477.3" stroke="#333" stroke-width="1"/>
<text x="335.2" y="480.1" font-size="7.9" fill="#333" stroke="#333" stroke-width="0.28" text-anchor="end">100</text>
<line x1="337.6" y1="502.9" x2="341.1" y2="502.9" stroke="#333" stroke-width="1"/>
<text x="335.2" y="505.7" font-size="7.9" fill="#333" stroke="#333" stroke-width="0.28" text-anchor="end">75</text>
<line x1="337.6" y1="528.5" x2="341.1" y2="528.5" stroke="#333" stroke-width="1"/>
<text x="335.2" y="531.3" font-size="7.9" fill="#333" stroke="#333" stroke-width="0.28" text-anchor="end">50</text>
<line x1="337.6" y1="554.1" x2="341.1" y2="554.1" stroke="#333" stroke-width="1"/>
<text x="335.2" y="556.9" font-size="7.9" fill="#333" stroke="#333" stroke-width="0.28" text-anchor="end">25</text>
<line x1="337.6" y1="579.7" x2="341.1" y2="579.7" stroke="#333" stroke-width="1"/>
<text x="335.2" y="582.5" font-size="7.9" fill="#333" stroke="#333" stroke-width="0.28" text-anchor="end">0</text>
<line x1="375.4" y1="579.7" x2="375.4" y2="583" stroke="#333" stroke-width="1"/>
<line x1="427.3" y1="579.7" x2="427.3" y2="583" stroke="#333" stroke-width="1"/>
<line x1="479.2" y1="579.7" x2="479.2" y2="583" stroke="#333" stroke-width="1"/>
<rect x="358.8" y="478" width="33.2" height="8" fill="#3ba552"/>
<rect x="358.8" y="486" width="33.2" height="12.199999999999989" fill="#e8652b"/>
<rect x="358.8" y="498.2" width="33.2" height="58.099999999999966" fill="#0e70b2"/>
<rect x="358.8" y="556.3" width="33.2" height="23.40000000000009" fill="#6f6f6f"/>
<rect x="410.5" y="478" width="33.2" height="8.100000000000023" fill="#3ba552"/>
<rect x="410.5" y="486.1" width="33.2" height="12.699999999999989" fill="#e8652b"/>
<rect x="410.5" y="498.8" width="33.2" height="53.99999999999994" fill="#0e70b2"/>
<rect x="410.5" y="552.8" width="33.2" height="26.90000000000009" fill="#6f6f6f"/>
<rect x="462.5" y="478" width="33.2" height="0.6000000000000227" fill="#3ba552"/>
<rect x="462.5" y="478.6" width="33.2" height="0.6999999999999886" fill="#e8652b"/>
<rect x="462.5" y="479.3" width="33.2" height="8.899999999999977" fill="#0e70b2"/>
<rect x="462.5" y="488.2" width="33.2" height="91.50000000000006" fill="#6f6f6f"/>
<text x="375.2" y="592.2" font-size="7.4" fill="#333" stroke="#333" stroke-width="0.28" text-anchor="middle">AML</text>
<text x="427.2" y="592.8" font-size="7.4" fill="#333" stroke="#333" stroke-width="0.28" text-anchor="middle" textLength="35.8" lengthAdjust="spacingAndGlyphs">Monocytes</text>
<text x="479.1" y="592.8" font-size="7.4" fill="#333" stroke="#333" stroke-width="0.28" text-anchor="middle" textLength="47.4" lengthAdjust="spacingAndGlyphs">T lymphocytes</text>
<text x="316.4" y="528.8" font-size="8" fill="#333" stroke="#333" stroke-width="0.28" text-anchor="middle" textLength="107" lengthAdjust="spacingAndGlyphs" transform="rotate(-90 316.4 528.8)">Proportion of clones in population (%)</text>
<text x="350.1" y="609.4" font-size="7.1" fill="#4aa653" textLength="127.8" lengthAdjust="spacingAndGlyphs">GATA2 p.Arg362Gln/BCL2 p.Phe104Leu</text>
<text x="350.1" y="619.6" font-size="7.1" fill="#e8734a" textLength="130.4" lengthAdjust="spacingAndGlyphs">GATA2 p.Arg362Gln/BCL2 p.Asp103Glu</text>
<text x="350.1" y="631" font-size="7.1" fill="#2f7fc0" textLength="64.3" lengthAdjust="spacingAndGlyphs">GATA2 p.Arg362Gln</text>
<text x="350.1" y="641.7" font-size="7.1" fill="#777" textLength="26.9" lengthAdjust="spacingAndGlyphs">wild type</text><rect x="0.5" y="0.5" width="519" height="665" fill="none" stroke="#555" stroke-width="1.2"/></svg></body></html>
